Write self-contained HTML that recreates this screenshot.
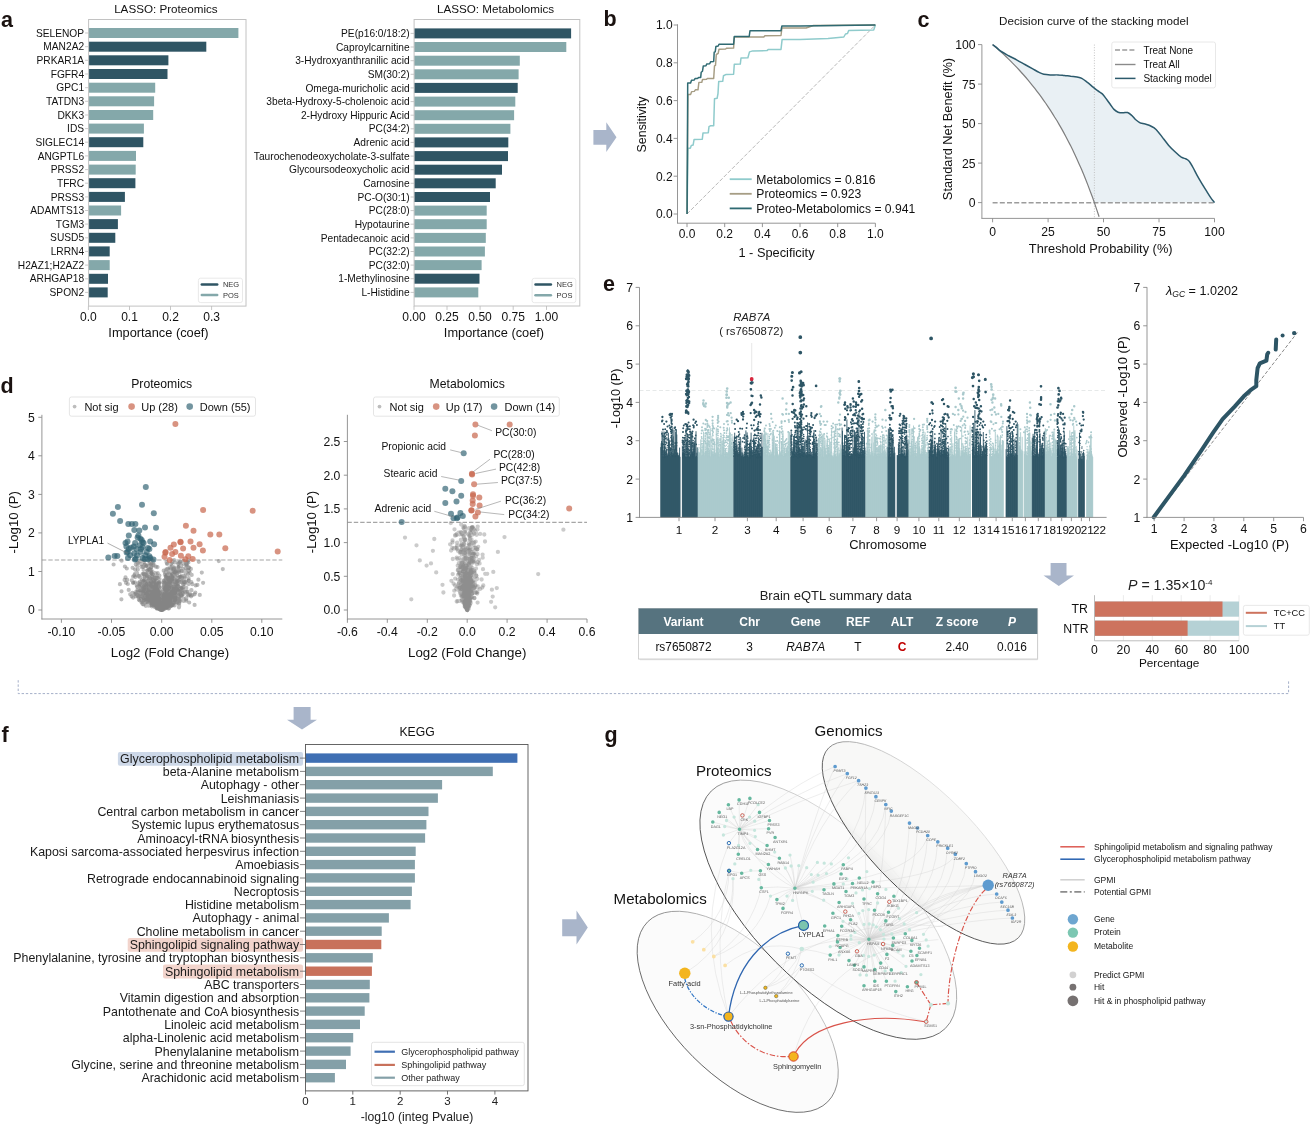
<!DOCTYPE html>
<html lang="en"><head><meta charset="utf-8"><title>Figure</title>
<style>html,body{margin:0;padding:0;background:#fff}body{width:1316px;height:1131px;overflow:hidden}svg{display:block;font-family:"Liberation Sans",Arial,Helvetica,sans-serif}</style></head>
<body>
<svg width="1316" height="1131" viewBox="0 0 1316 1131">
<text x="1.0" y="26.5" font-size="21.5" font-weight="bold" fill="#1a1210">a</text>
<g>
<text x="165.9" y="13.0" font-size="11.65" text-anchor="middle" fill="#111">LASSO: Proteomics</text>
<rect x="88.6" y="28.0" width="149.8" height="10.0" fill="#84a8aa"/>
<line x1="85.1" y1="33.0" x2="88.6" y2="33.0" stroke="#bbb" stroke-width="0.8"/>
<text x="84.1" y="36.6" font-size="10.2" text-anchor="end" fill="#111">SELENOP</text>
<rect x="88.6" y="41.7" width="117.7" height="10.0" fill="#2f5564"/>
<line x1="85.1" y1="46.7" x2="88.6" y2="46.7" stroke="#bbb" stroke-width="0.8"/>
<text x="84.1" y="50.3" font-size="10.2" text-anchor="end" fill="#111">MAN2A2</text>
<rect x="88.6" y="55.3" width="79.8" height="10.0" fill="#2f5564"/>
<line x1="85.1" y1="60.3" x2="88.6" y2="60.3" stroke="#bbb" stroke-width="0.8"/>
<text x="84.1" y="63.9" font-size="10.2" text-anchor="end" fill="#111">PRKAR1A</text>
<rect x="88.6" y="69.0" width="78.9" height="10.0" fill="#2f5564"/>
<line x1="85.1" y1="74.0" x2="88.6" y2="74.0" stroke="#bbb" stroke-width="0.8"/>
<text x="84.1" y="77.6" font-size="10.2" text-anchor="end" fill="#111">FGFR4</text>
<rect x="88.6" y="82.7" width="66.6" height="10.0" fill="#84a8aa"/>
<line x1="85.1" y1="87.7" x2="88.6" y2="87.7" stroke="#bbb" stroke-width="0.8"/>
<text x="84.1" y="91.2" font-size="10.2" text-anchor="end" fill="#111">GPC1</text>
<rect x="88.6" y="96.3" width="65.5" height="10.0" fill="#84a8aa"/>
<line x1="85.1" y1="101.3" x2="88.6" y2="101.3" stroke="#bbb" stroke-width="0.8"/>
<text x="84.1" y="104.9" font-size="10.2" text-anchor="end" fill="#111">TATDN3</text>
<rect x="88.6" y="110.0" width="64.6" height="10.0" fill="#84a8aa"/>
<line x1="85.1" y1="115.0" x2="88.6" y2="115.0" stroke="#bbb" stroke-width="0.8"/>
<text x="84.1" y="118.5" font-size="10.2" text-anchor="end" fill="#111">DKK3</text>
<rect x="88.6" y="123.6" width="55.3" height="10.0" fill="#84a8aa"/>
<line x1="85.1" y1="128.6" x2="88.6" y2="128.6" stroke="#bbb" stroke-width="0.8"/>
<text x="84.1" y="132.2" font-size="10.2" text-anchor="end" fill="#111">IDS</text>
<rect x="88.6" y="137.2" width="54.7" height="10.0" fill="#2f5564"/>
<line x1="85.1" y1="142.2" x2="88.6" y2="142.2" stroke="#bbb" stroke-width="0.8"/>
<text x="84.1" y="145.8" font-size="10.2" text-anchor="end" fill="#111">SIGLEC14</text>
<rect x="88.6" y="150.9" width="47.4" height="10.0" fill="#84a8aa"/>
<line x1="85.1" y1="155.9" x2="88.6" y2="155.9" stroke="#bbb" stroke-width="0.8"/>
<text x="84.1" y="159.5" font-size="10.2" text-anchor="end" fill="#111">ANGPTL6</text>
<rect x="88.6" y="164.6" width="47.1" height="10.0" fill="#84a8aa"/>
<line x1="85.1" y1="169.6" x2="88.6" y2="169.6" stroke="#bbb" stroke-width="0.8"/>
<text x="84.1" y="173.2" font-size="10.2" text-anchor="end" fill="#111">PRSS2</text>
<rect x="88.6" y="178.2" width="46.8" height="10.0" fill="#2f5564"/>
<line x1="85.1" y1="183.2" x2="88.6" y2="183.2" stroke="#bbb" stroke-width="0.8"/>
<text x="84.1" y="186.8" font-size="10.2" text-anchor="end" fill="#111">TFRC</text>
<rect x="88.6" y="191.9" width="36.3" height="10.0" fill="#2f5564"/>
<line x1="85.1" y1="196.9" x2="88.6" y2="196.9" stroke="#bbb" stroke-width="0.8"/>
<text x="84.1" y="200.5" font-size="10.2" text-anchor="end" fill="#111">PRSS3</text>
<rect x="88.6" y="205.5" width="32.5" height="10.0" fill="#84a8aa"/>
<line x1="85.1" y1="210.5" x2="88.6" y2="210.5" stroke="#bbb" stroke-width="0.8"/>
<text x="84.1" y="214.1" font-size="10.2" text-anchor="end" fill="#111">ADAMTS13</text>
<rect x="88.6" y="219.1" width="29.3" height="10.0" fill="#2f5564"/>
<line x1="85.1" y1="224.1" x2="88.6" y2="224.1" stroke="#bbb" stroke-width="0.8"/>
<text x="84.1" y="227.7" font-size="10.2" text-anchor="end" fill="#111">TGM3</text>
<rect x="88.6" y="232.8" width="26.7" height="10.0" fill="#2f5564"/>
<line x1="85.1" y1="237.8" x2="88.6" y2="237.8" stroke="#bbb" stroke-width="0.8"/>
<text x="84.1" y="241.4" font-size="10.2" text-anchor="end" fill="#111">SUSD5</text>
<rect x="88.6" y="246.4" width="21.1" height="10.0" fill="#2f5564"/>
<line x1="85.1" y1="251.4" x2="88.6" y2="251.4" stroke="#bbb" stroke-width="0.8"/>
<text x="84.1" y="255.0" font-size="10.2" text-anchor="end" fill="#111">LRRN4</text>
<rect x="88.6" y="260.1" width="21.1" height="10.0" fill="#84a8aa"/>
<line x1="85.1" y1="265.1" x2="88.6" y2="265.1" stroke="#bbb" stroke-width="0.8"/>
<text x="84.1" y="268.7" font-size="10.2" text-anchor="end" fill="#111">H2AZ1;H2AZ2</text>
<rect x="88.6" y="273.8" width="19.4" height="10.0" fill="#2f5564"/>
<line x1="85.1" y1="278.8" x2="88.6" y2="278.8" stroke="#bbb" stroke-width="0.8"/>
<text x="84.1" y="282.4" font-size="10.2" text-anchor="end" fill="#111">ARHGAP18</text>
<rect x="88.6" y="287.4" width="19.1" height="10.0" fill="#2f5564"/>
<line x1="85.1" y1="292.4" x2="88.6" y2="292.4" stroke="#bbb" stroke-width="0.8"/>
<text x="84.1" y="296.0" font-size="10.2" text-anchor="end" fill="#111">SPON2</text>
<rect x="88.6" y="19.5" width="157.4" height="286.6" fill="none" stroke="#c2c2c2" stroke-width="1"/>
<line x1="88.4" y1="306.1" x2="88.4" y2="310.0" stroke="#b8b8b8" stroke-width="0.8"/>
<text x="88.4" y="320.9" font-size="12.05" text-anchor="middle" fill="#111">0.0</text>
<line x1="129.5" y1="306.1" x2="129.5" y2="310.0" stroke="#b8b8b8" stroke-width="0.8"/>
<text x="129.5" y="320.9" font-size="12.05" text-anchor="middle" fill="#111">0.1</text>
<line x1="170.5" y1="306.1" x2="170.5" y2="310.0" stroke="#b8b8b8" stroke-width="0.8"/>
<text x="170.5" y="320.9" font-size="12.05" text-anchor="middle" fill="#111">0.2</text>
<line x1="211.6" y1="306.1" x2="211.6" y2="310.0" stroke="#b8b8b8" stroke-width="0.8"/>
<text x="211.6" y="320.9" font-size="12.05" text-anchor="middle" fill="#111">0.3</text>
<text x="158.5" y="336.6" font-size="12.8" text-anchor="middle" fill="#111">Importance (coef)</text>
<rect x="198.4" y="278.2" width="44.1" height="24.4" fill="#fff" stroke="#e3e3e3" stroke-width="0.8" rx="2.2"/>
<line x1="201.8" y1="284.4" x2="217.2" y2="284.4" stroke="#2f5564" stroke-width="2.5" stroke-linecap="round"/>
<line x1="201.8" y1="295.1" x2="217.2" y2="295.1" stroke="#84a8aa" stroke-width="2.5" stroke-linecap="round"/>
<text x="222.9" y="287.2" font-size="7.5" fill="#333">NEG</text>
<text x="222.9" y="297.9" font-size="7.5" fill="#333">POS</text>
</g>
<g>
<text x="495.6" y="13.0" font-size="11.65" text-anchor="middle" fill="#111">LASSO: Metabolomics</text>
<rect x="414.1" y="28.4" width="157.0" height="10.0" fill="#2f5564"/>
<line x1="410.6" y1="33.4" x2="414.1" y2="33.4" stroke="#bbb" stroke-width="0.8"/>
<text x="409.6" y="37.0" font-size="10.2" text-anchor="end" fill="#111">PE(p16:0/18:2)</text>
<rect x="414.1" y="42.0" width="152.2" height="10.0" fill="#84a8aa"/>
<line x1="410.6" y1="47.0" x2="414.1" y2="47.0" stroke="#bbb" stroke-width="0.8"/>
<text x="409.6" y="50.6" font-size="10.2" text-anchor="end" fill="#111">Caproylcarnitine</text>
<rect x="414.1" y="55.7" width="105.7" height="10.0" fill="#84a8aa"/>
<line x1="410.6" y1="60.7" x2="414.1" y2="60.7" stroke="#bbb" stroke-width="0.8"/>
<text x="409.6" y="64.3" font-size="10.2" text-anchor="end" fill="#111">3-Hydroxyanthranilic acid</text>
<rect x="414.1" y="69.3" width="104.5" height="10.0" fill="#84a8aa"/>
<line x1="410.6" y1="74.3" x2="414.1" y2="74.3" stroke="#bbb" stroke-width="0.8"/>
<text x="409.6" y="77.9" font-size="10.2" text-anchor="end" fill="#111">SM(30:2)</text>
<rect x="414.1" y="82.9" width="103.6" height="10.0" fill="#2f5564"/>
<line x1="410.6" y1="87.9" x2="414.1" y2="87.9" stroke="#bbb" stroke-width="0.8"/>
<text x="409.6" y="91.5" font-size="10.2" text-anchor="end" fill="#111">Omega-muricholic acid</text>
<rect x="414.1" y="96.6" width="101.2" height="10.0" fill="#84a8aa"/>
<line x1="410.6" y1="101.6" x2="414.1" y2="101.6" stroke="#bbb" stroke-width="0.8"/>
<text x="409.6" y="105.2" font-size="10.2" text-anchor="end" fill="#111">3beta-Hydroxy-5-cholenoic acid</text>
<rect x="414.1" y="110.2" width="100.0" height="10.0" fill="#84a8aa"/>
<line x1="410.6" y1="115.2" x2="414.1" y2="115.2" stroke="#bbb" stroke-width="0.8"/>
<text x="409.6" y="118.8" font-size="10.2" text-anchor="end" fill="#111">2-Hydroxy Hippuric Acid</text>
<rect x="414.1" y="123.8" width="96.3" height="10.0" fill="#84a8aa"/>
<line x1="410.6" y1="128.8" x2="414.1" y2="128.8" stroke="#bbb" stroke-width="0.8"/>
<text x="409.6" y="132.4" font-size="10.2" text-anchor="end" fill="#111">PC(34:2)</text>
<rect x="414.1" y="137.4" width="94.2" height="10.0" fill="#2f5564"/>
<line x1="410.6" y1="142.4" x2="414.1" y2="142.4" stroke="#bbb" stroke-width="0.8"/>
<text x="409.6" y="146.0" font-size="10.2" text-anchor="end" fill="#111">Adrenic acid</text>
<rect x="414.1" y="151.1" width="93.9" height="10.0" fill="#2f5564"/>
<line x1="410.6" y1="156.1" x2="414.1" y2="156.1" stroke="#bbb" stroke-width="0.8"/>
<text x="409.6" y="159.7" font-size="10.2" text-anchor="end" fill="#111">Taurochenodeoxycholate-3-sulfate</text>
<rect x="414.1" y="164.7" width="87.9" height="10.0" fill="#2f5564"/>
<line x1="410.6" y1="169.7" x2="414.1" y2="169.7" stroke="#bbb" stroke-width="0.8"/>
<text x="409.6" y="173.3" font-size="10.2" text-anchor="end" fill="#111">Glycoursodeoxycholic acid</text>
<rect x="414.1" y="178.3" width="81.6" height="10.0" fill="#2f5564"/>
<line x1="410.6" y1="183.3" x2="414.1" y2="183.3" stroke="#bbb" stroke-width="0.8"/>
<text x="409.6" y="186.9" font-size="10.2" text-anchor="end" fill="#111">Carnosine</text>
<rect x="414.1" y="192.0" width="75.9" height="10.0" fill="#2f5564"/>
<line x1="410.6" y1="197.0" x2="414.1" y2="197.0" stroke="#bbb" stroke-width="0.8"/>
<text x="409.6" y="200.6" font-size="10.2" text-anchor="end" fill="#111">PC-O(30:1)</text>
<rect x="414.1" y="205.6" width="72.6" height="10.0" fill="#84a8aa"/>
<line x1="410.6" y1="210.6" x2="414.1" y2="210.6" stroke="#bbb" stroke-width="0.8"/>
<text x="409.6" y="214.2" font-size="10.2" text-anchor="end" fill="#111">PC(28:0)</text>
<rect x="414.1" y="219.2" width="72.6" height="10.0" fill="#84a8aa"/>
<line x1="410.6" y1="224.2" x2="414.1" y2="224.2" stroke="#bbb" stroke-width="0.8"/>
<text x="409.6" y="227.8" font-size="10.2" text-anchor="end" fill="#111">Hypotaurine</text>
<rect x="414.1" y="232.9" width="71.7" height="10.0" fill="#84a8aa"/>
<line x1="410.6" y1="237.9" x2="414.1" y2="237.9" stroke="#bbb" stroke-width="0.8"/>
<text x="409.6" y="241.5" font-size="10.2" text-anchor="end" fill="#111">Pentadecanoic acid</text>
<rect x="414.1" y="246.5" width="70.8" height="10.0" fill="#84a8aa"/>
<line x1="410.6" y1="251.5" x2="414.1" y2="251.5" stroke="#bbb" stroke-width="0.8"/>
<text x="409.6" y="255.1" font-size="10.2" text-anchor="end" fill="#111">PC(32:2)</text>
<rect x="414.1" y="260.1" width="67.5" height="10.0" fill="#84a8aa"/>
<line x1="410.6" y1="265.1" x2="414.1" y2="265.1" stroke="#bbb" stroke-width="0.8"/>
<text x="409.6" y="268.7" font-size="10.2" text-anchor="end" fill="#111">PC(32:0)</text>
<rect x="414.1" y="273.7" width="65.4" height="10.0" fill="#2f5564"/>
<line x1="410.6" y1="278.7" x2="414.1" y2="278.7" stroke="#bbb" stroke-width="0.8"/>
<text x="409.6" y="282.3" font-size="10.2" text-anchor="end" fill="#111">1-Methylinosine</text>
<rect x="414.1" y="287.4" width="64.2" height="10.0" fill="#84a8aa"/>
<line x1="410.6" y1="292.4" x2="414.1" y2="292.4" stroke="#bbb" stroke-width="0.8"/>
<text x="409.6" y="296.0" font-size="10.2" text-anchor="end" fill="#111">L-Histidine</text>
<rect x="414.1" y="19.5" width="165.7" height="286.5" fill="none" stroke="#c2c2c2" stroke-width="1"/>
<line x1="414.0" y1="306.0" x2="414.0" y2="309.9" stroke="#b8b8b8" stroke-width="0.8"/>
<text x="414.0" y="320.8" font-size="12.05" text-anchor="middle" fill="#111">0.00</text>
<line x1="447.0" y1="306.0" x2="447.0" y2="309.9" stroke="#b8b8b8" stroke-width="0.8"/>
<text x="447.0" y="320.8" font-size="12.05" text-anchor="middle" fill="#111">0.25</text>
<line x1="480.1" y1="306.0" x2="480.1" y2="309.9" stroke="#b8b8b8" stroke-width="0.8"/>
<text x="480.1" y="320.8" font-size="12.05" text-anchor="middle" fill="#111">0.50</text>
<line x1="513.2" y1="306.0" x2="513.2" y2="309.9" stroke="#b8b8b8" stroke-width="0.8"/>
<text x="513.2" y="320.8" font-size="12.05" text-anchor="middle" fill="#111">0.75</text>
<line x1="546.5" y1="306.0" x2="546.5" y2="309.9" stroke="#b8b8b8" stroke-width="0.8"/>
<text x="546.5" y="320.8" font-size="12.05" text-anchor="middle" fill="#111">1.00</text>
<text x="494.0" y="336.6" font-size="12.8" text-anchor="middle" fill="#111">Importance (coef)</text>
<rect x="532.1" y="278.3" width="43.7" height="24.4" fill="#fff" stroke="#e3e3e3" stroke-width="0.8" rx="2.2"/>
<line x1="535.5" y1="284.5" x2="550.9" y2="284.5" stroke="#2f5564" stroke-width="2.5" stroke-linecap="round"/>
<line x1="535.5" y1="295.2" x2="550.9" y2="295.2" stroke="#84a8aa" stroke-width="2.5" stroke-linecap="round"/>
<text x="556.6" y="287.3" font-size="7.5" fill="#333">NEG</text>
<text x="556.6" y="298.0" font-size="7.5" fill="#333">POS</text>
</g>
<text x="603.5" y="25.8" font-size="21.5" font-weight="bold" fill="#1a1210">b</text>
<path d="M593.4,130.0 L606.3,130.0 L606.3,122.3 L616.5,137.2 L606.3,152.0 L606.3,144.7 L593.4,144.7" fill="#a9b5ca"/>
<line x1="687.0" y1="214.0" x2="875.4" y2="25.0" stroke="#9a9a9a" stroke-width="0.7" stroke-dasharray="4 1.8"/>
<path d="M687.1,214.0 L687.9,148.3 L690.3,148.3 L691.3,145.5 L693.1,145.1 L694.1,139.4 L702.3,139.2 L703.0,132.9 L708.3,132.7 L709.0,126.7 L710.4,125.8 L713.7,125.8 L714.5,98.8 L717.1,98.3 L718.0,93.5 L718.7,81.6 L722.7,81.3 L723.5,75.7 L726.2,74.4 L733.6,74.2 L734.3,64.3 L740.3,64.1 L741.0,58.0 L747.9,57.8 L749.5,51.9 L752.7,50.9 L767.0,50.6 L768.1,49.6 L781.0,49.4 L782.1,39.6 L800.0,39.6 L828.0,38.4 L843.8,37.0 L845.5,34.0 L847.5,33.6 L848.7,30.4 L873.7,29.9 L875.4,25.0" fill="none" stroke="#8fcbcc" stroke-width="1.5" stroke-linejoin="round"/>
<path d="M687.1,214.0 L687.9,94.4 L690.6,94.4 L691.7,91.6 L694.3,91.4 L695.4,89.8 L698.0,89.8 L698.9,82.4 L701.8,82.2 L702.5,79.5 L706.5,79.3 L707.4,78.4 L713.7,78.4 L714.5,65.9 L715.5,65.4 L716.3,54.5 L718.2,53.4 L719.0,49.2 L725.6,49.0 L726.7,48.2 L733.6,48.1 L734.3,37.0 L763.8,37.0 L764.9,35.7 L781.0,35.5 L781.9,27.9 L800.0,27.9 L806.1,28.0 L813.4,25.5 L875.4,25.0" fill="none" stroke="#a69d84" stroke-width="1.45" stroke-linejoin="round"/>
<path d="M687.1,214.0 L687.7,82.9 L690.6,82.9 L691.5,80.3 L694.3,79.9 L695.2,78.4 L697.5,78.4 L698.6,77.6 L700.7,77.4 L701.2,72.3 L702.5,71.2 L703.3,65.9 L706.0,65.7 L706.7,64.0 L709.7,63.8 L710.6,61.7 L713.7,61.5 L714.2,52.3 L715.2,51.9 L715.9,46.6 L718.2,46.0 L719.0,44.2 L733.6,44.2 L734.3,36.5 L749.2,36.5 L750.0,30.7 L781.0,30.7 L781.9,25.9 L800.0,25.9 L875.4,25.0" fill="none" stroke="#2f6a72" stroke-width="1.5" stroke-linejoin="round"/>
<line x1="677.5" y1="24.3" x2="677.5" y2="223.2" stroke="#8a8a8a" stroke-width="0.9"/>
<line x1="677.0" y1="223.2" x2="875.4" y2="223.2" stroke="#8a8a8a" stroke-width="0.9"/>
<line x1="673.6" y1="214.0" x2="677.5" y2="214.0" stroke="#8a8a8a" stroke-width="0.9"/>
<text x="672.6" y="218.3" font-size="12" text-anchor="end" fill="#111">0.0</text>
<line x1="687.0" y1="223.2" x2="687.0" y2="227.1" stroke="#8a8a8a" stroke-width="0.9"/>
<text x="687.0" y="238.0" font-size="12" text-anchor="middle" fill="#111">0.0</text>
<line x1="673.6" y1="176.2" x2="677.5" y2="176.2" stroke="#8a8a8a" stroke-width="0.9"/>
<text x="672.6" y="180.5" font-size="12" text-anchor="end" fill="#111">0.2</text>
<line x1="724.7" y1="223.2" x2="724.7" y2="227.1" stroke="#8a8a8a" stroke-width="0.9"/>
<text x="724.7" y="238.0" font-size="12" text-anchor="middle" fill="#111">0.2</text>
<line x1="673.6" y1="138.4" x2="677.5" y2="138.4" stroke="#8a8a8a" stroke-width="0.9"/>
<text x="672.6" y="142.7" font-size="12" text-anchor="end" fill="#111">0.4</text>
<line x1="762.4" y1="223.2" x2="762.4" y2="227.1" stroke="#8a8a8a" stroke-width="0.9"/>
<text x="762.4" y="238.0" font-size="12" text-anchor="middle" fill="#111">0.4</text>
<line x1="673.6" y1="100.6" x2="677.5" y2="100.6" stroke="#8a8a8a" stroke-width="0.9"/>
<text x="672.6" y="104.9" font-size="12" text-anchor="end" fill="#111">0.6</text>
<line x1="800.0" y1="223.2" x2="800.0" y2="227.1" stroke="#8a8a8a" stroke-width="0.9"/>
<text x="800.0" y="238.0" font-size="12" text-anchor="middle" fill="#111">0.6</text>
<line x1="673.6" y1="62.8" x2="677.5" y2="62.8" stroke="#8a8a8a" stroke-width="0.9"/>
<text x="672.6" y="67.1" font-size="12" text-anchor="end" fill="#111">0.8</text>
<line x1="837.7" y1="223.2" x2="837.7" y2="227.1" stroke="#8a8a8a" stroke-width="0.9"/>
<text x="837.7" y="238.0" font-size="12" text-anchor="middle" fill="#111">0.8</text>
<line x1="673.6" y1="25.0" x2="677.5" y2="25.0" stroke="#8a8a8a" stroke-width="0.9"/>
<text x="672.6" y="29.3" font-size="12" text-anchor="end" fill="#111">1.0</text>
<line x1="875.4" y1="223.2" x2="875.4" y2="227.1" stroke="#8a8a8a" stroke-width="0.9"/>
<text x="875.4" y="238.0" font-size="12" text-anchor="middle" fill="#111">1.0</text>
<text x="645.8" y="124.5" font-size="12.4" text-anchor="middle" fill="#111" transform="rotate(-90 645.8 124.5)">Sensitivity</text>
<text x="776.5" y="257.4" font-size="12.8" text-anchor="middle" fill="#111">1 - Specificity</text>
<line x1="729.7" y1="179.2" x2="751.7" y2="179.2" stroke="#8fcbcc" stroke-width="1.8"/>
<text x="756.3" y="183.5" font-size="12.15" fill="#111">Metabolomics = 0.816</text>
<line x1="729.7" y1="193.8" x2="751.7" y2="193.8" stroke="#a69d84" stroke-width="1.8"/>
<text x="756.3" y="198.1" font-size="12.15" fill="#111">Proteomics = 0.923</text>
<line x1="729.7" y1="208.4" x2="751.7" y2="208.4" stroke="#2f6a72" stroke-width="1.8"/>
<text x="756.3" y="212.7" font-size="12.15" fill="#111">Proteo-Metabolomics = 0.941</text>
<text x="917.6" y="27.0" font-size="21.5" font-weight="bold" fill="#1a1210">c</text>
<text x="1093.8" y="24.7" font-size="11.65" text-anchor="middle" fill="#111">Decision curve of the stacking model</text>
<path d="M992.6,44.6 L996.4,47.4 L1001.2,51.5 L1009.1,56.0 L1017.0,60.1 L1024.9,64.5 L1032.8,68.9 L1039.1,72.4 L1043.8,74.3 L1050.2,74.9 L1058.1,74.9 L1064.4,75.5 L1070.7,76.2 L1077.0,77.1 L1081.8,78.4 L1087.1,82.2 L1092.8,86.9 L1097.6,90.7 L1102.3,93.9 L1106.1,98.6 L1110.2,104.3 L1114.0,109.4 L1118.1,112.2 L1122.9,112.8 L1127.6,112.5 L1131.7,115.4 L1135.5,119.5 L1139.3,122.3 L1141.8,123.3 L1145.9,124.2 L1149.7,125.5 L1153.8,127.7 L1157.6,131.2 L1163.0,138.1 L1168.7,145.4 L1175.0,151.7 L1181.3,157.1 L1186.1,159.0 L1189.2,161.2 L1193.0,167.5 L1197.1,175.4 L1201.9,183.7 L1206.6,191.2 L1210.7,197.6 L1214.5,202.6 L1094.3,202.6 L1092.5,197.3 L1090.2,191.2 L1088.0,185.4 L1085.8,179.7 L1083.6,174.3 L1081.4,169.0 L1079.1,163.9 L1076.9,159.0 L1074.7,154.2 L1072.5,149.6 L1070.3,145.1 L1068.0,140.7 L1065.8,136.5 L1063.6,132.4 L1061.4,128.4 L1059.2,124.6 L1057.0,120.8 L1054.7,117.2 L1052.5,113.6 L1050.3,110.2 L1048.1,106.8 L1045.9,103.5 L1043.6,100.3 L1041.4,97.2 L1039.2,94.2 L1037.0,91.3 L1034.8,88.4 L1032.5,85.6 L1030.3,82.8 L1028.1,80.1 L1025.9,77.5 L1023.7,75.0 L1021.4,72.5 L1019.2,70.0 L1017.0,67.7 L1014.8,65.3 L1012.6,63.1 L1010.4,60.8 L1008.1,58.6 L1005.9,56.5 L1003.7,54.4 L1001.5,52.4 L999.3,50.4 L997.0,48.4 L994.8,46.5 L992.6,44.6" fill="#e9f0f4"/>
<line x1="1094.4" y1="44.6" x2="1094.4" y2="218.4" stroke="#bdbdbd" stroke-width="0.9" stroke-dasharray="1 1.6"/>
<line x1="992.6" y1="202.8" x2="1214.5" y2="202.8" stroke="#9c9c9c" stroke-width="1.6" stroke-dasharray="5 2.2"/>
<clipPath id="cc"><rect x="980" y="40" width="240" height="178.4"/></clipPath>
<path d="M992.6,44.6 L994.8,46.5 L997.0,48.4 L999.3,50.4 L1001.5,52.4 L1003.7,54.4 L1005.9,56.5 L1008.1,58.6 L1010.4,60.8 L1012.6,63.1 L1014.8,65.3 L1017.0,67.7 L1019.2,70.0 L1021.4,72.5 L1023.7,75.0 L1025.9,77.5 L1028.1,80.1 L1030.3,82.8 L1032.5,85.6 L1034.8,88.4 L1037.0,91.3 L1039.2,94.2 L1041.4,97.2 L1043.6,100.3 L1045.9,103.5 L1048.1,106.8 L1050.3,110.2 L1052.5,113.6 L1054.7,117.2 L1057.0,120.8 L1059.2,124.6 L1061.4,128.4 L1063.6,132.4 L1065.8,136.5 L1068.0,140.7 L1070.3,145.1 L1072.5,149.6 L1074.7,154.2 L1076.9,159.0 L1079.1,163.9 L1081.4,169.0 L1083.6,174.3 L1085.8,179.7 L1088.0,185.4 L1090.2,191.2 L1092.5,197.3 L1094.7,203.6 L1096.9,210.1 L1099.1,216.8" fill="none" stroke="#7e7e7e" stroke-width="1.2" clip-path="url(#cc)"/>
<path d="M992.6,44.6C993.3,45.0 995.0,46.3 996.4,47.4C997.8,48.6 999.0,50.1 1001.2,51.5C1003.3,52.9 1006.4,54.5 1009.1,56.0C1011.7,57.4 1014.3,58.6 1017.0,60.1C1019.6,61.5 1022.2,63.0 1024.9,64.5C1027.5,66.0 1030.4,67.6 1032.8,68.9C1035.1,70.2 1037.2,71.5 1039.1,72.4C1040.9,73.3 1042.0,73.9 1043.8,74.3C1045.7,74.7 1047.8,74.8 1050.2,74.9C1052.5,75.0 1055.7,74.8 1058.1,74.9C1060.4,75.0 1062.3,75.3 1064.4,75.5C1066.5,75.8 1068.6,75.9 1070.7,76.2C1072.8,76.4 1075.2,76.8 1077.0,77.1C1078.9,77.5 1080.1,77.6 1081.8,78.4C1083.4,79.2 1085.3,80.8 1087.1,82.2C1089.0,83.6 1091.1,85.5 1092.8,86.9C1094.6,88.4 1096.0,89.6 1097.6,90.7C1099.1,91.9 1100.9,92.6 1102.3,93.9C1103.7,95.2 1104.8,96.9 1106.1,98.6C1107.4,100.4 1108.9,102.5 1110.2,104.3C1111.5,106.1 1112.7,108.1 1114.0,109.4C1115.3,110.7 1116.6,111.6 1118.1,112.2C1119.6,112.8 1121.3,112.8 1122.9,112.8C1124.4,112.9 1126.1,112.1 1127.6,112.5C1129.1,113.0 1130.4,114.2 1131.7,115.4C1133.0,116.5 1134.2,118.3 1135.5,119.5C1136.8,120.6 1138.2,121.7 1139.3,122.3C1140.3,123.0 1140.7,123.0 1141.8,123.3C1142.9,123.6 1144.6,123.9 1145.9,124.2C1147.2,124.6 1148.4,124.9 1149.7,125.5C1151.0,126.1 1152.5,126.8 1153.8,127.7C1155.1,128.7 1156.1,129.4 1157.6,131.2C1159.2,132.9 1161.2,135.8 1163.0,138.1C1164.8,140.5 1166.7,143.1 1168.7,145.4C1170.7,147.7 1172.9,149.8 1175.0,151.7C1177.1,153.7 1179.5,155.9 1181.3,157.1C1183.2,158.3 1184.8,158.3 1186.1,159.0C1187.4,159.7 1188.1,159.8 1189.2,161.2C1190.4,162.6 1191.7,165.2 1193.0,167.5C1194.3,169.9 1195.7,172.8 1197.1,175.4C1198.6,178.1 1200.3,181.0 1201.9,183.7C1203.5,186.3 1205.1,188.9 1206.6,191.2C1208.1,193.6 1209.4,195.7 1210.7,197.6C1212.0,199.5 1213.9,201.8 1214.5,202.6" fill="none" stroke="#2c5a6c" stroke-width="1.5" stroke-linejoin="round"/>
<line x1="981.9" y1="44.6" x2="981.9" y2="218.4" stroke="#8a8a8a" stroke-width="0.9"/>
<line x1="981.4" y1="218.4" x2="1214.5" y2="218.4" stroke="#8a8a8a" stroke-width="0.9"/>
<line x1="978.0" y1="202.6" x2="981.9" y2="202.6" stroke="#8a8a8a" stroke-width="0.9"/>
<text x="975.6" y="207.0" font-size="12.2" text-anchor="end" fill="#111">0</text>
<line x1="992.6" y1="218.4" x2="992.6" y2="222.3" stroke="#8a8a8a" stroke-width="0.9"/>
<text x="992.6" y="235.6" font-size="12.2" text-anchor="middle" fill="#111">0</text>
<line x1="978.0" y1="163.1" x2="981.9" y2="163.1" stroke="#8a8a8a" stroke-width="0.9"/>
<text x="975.6" y="167.5" font-size="12.2" text-anchor="end" fill="#111">25</text>
<line x1="1048.1" y1="218.4" x2="1048.1" y2="222.3" stroke="#8a8a8a" stroke-width="0.9"/>
<text x="1048.1" y="235.6" font-size="12.2" text-anchor="middle" fill="#111">25</text>
<line x1="978.0" y1="123.6" x2="981.9" y2="123.6" stroke="#8a8a8a" stroke-width="0.9"/>
<text x="975.6" y="128.0" font-size="12.2" text-anchor="end" fill="#111">50</text>
<line x1="1103.5" y1="218.4" x2="1103.5" y2="222.3" stroke="#8a8a8a" stroke-width="0.9"/>
<text x="1103.5" y="235.6" font-size="12.2" text-anchor="middle" fill="#111">50</text>
<line x1="978.0" y1="84.1" x2="981.9" y2="84.1" stroke="#8a8a8a" stroke-width="0.9"/>
<text x="975.6" y="88.5" font-size="12.2" text-anchor="end" fill="#111">75</text>
<line x1="1159.0" y1="218.4" x2="1159.0" y2="222.3" stroke="#8a8a8a" stroke-width="0.9"/>
<text x="1159.0" y="235.6" font-size="12.2" text-anchor="middle" fill="#111">75</text>
<line x1="978.0" y1="44.6" x2="981.9" y2="44.6" stroke="#8a8a8a" stroke-width="0.9"/>
<text x="975.6" y="49.0" font-size="12.2" text-anchor="end" fill="#111">100</text>
<line x1="1214.5" y1="218.4" x2="1214.5" y2="222.3" stroke="#8a8a8a" stroke-width="0.9"/>
<text x="1214.5" y="235.6" font-size="12.2" text-anchor="middle" fill="#111">100</text>
<text x="952.0" y="129.0" font-size="12.8" text-anchor="middle" fill="#111" transform="rotate(-90 952.0 129.0)">Standard Net Benefit (%)</text>
<text x="1100.7" y="253.0" font-size="12.8" text-anchor="middle" fill="#111">Threshold Probability (%)</text>
<rect x="1111.8" y="42.0" width="103.7" height="45.9" fill="#fff" stroke="#e2e2e2" stroke-width="0.8" rx="2"/>
<line x1="1115.0" y1="50.0" x2="1135.5" y2="50.0" stroke="#9c9c9c" stroke-width="1.6" stroke-dasharray="5 2.2"/>
<line x1="1115.0" y1="64.5" x2="1135.5" y2="64.5" stroke="#8a8a8a" stroke-width="1.4"/>
<line x1="1115.0" y1="78.4" x2="1135.5" y2="78.4" stroke="#2c5a6c" stroke-width="1.5"/>
<text x="1143.4" y="53.6" font-size="10.0" fill="#111">Treat None</text>
<text x="1143.4" y="68.1" font-size="10.0" fill="#111">Treat All</text>
<text x="1143.4" y="82.0" font-size="10.0" fill="#111">Stacking model</text>
<text x="0.5" y="393.0" font-size="21.5" font-weight="bold" fill="#1a1210">d</text>
<text x="161.7" y="387.5" font-size="12.2" text-anchor="middle" fill="#111">Proteomics</text>
<rect x="69.4" y="397.0" width="186.1" height="19.2" fill="#fff" stroke="#dedede" stroke-width="0.8" rx="2"/>
<circle cx="74.6" cy="406.6" r="1.9" fill="#bdbdbd"/>
<text x="84.4" y="410.6" font-size="11" fill="#111">Not sig</text>
<circle cx="131.6" cy="406.6" r="3.3" fill="#c96a50" fill-opacity="0.72"/>
<text x="141.2" y="410.6" font-size="11" fill="#111">Up (28)</text>
<circle cx="189.7" cy="406.6" r="3.3" fill="#2f6172" fill-opacity="0.68"/>
<text x="199.8" y="410.6" font-size="11" fill="#111">Down (55)</text>
<line x1="41.9" y1="560.0" x2="282.3" y2="560.0" stroke="#a6a6a6" stroke-width="1.2" stroke-dasharray="4.4 2"/>
<path d="M158.1,606.2h0M173.6,589.8h0M166.6,600.5h0M158.2,597.8h0M163.5,604.1h0M149.3,600.9h0M159.0,605.8h0M155.7,588.4h0M160.2,603.2h0M155.4,600.2h0M163.9,605.8h0M150.6,595.3h0M147.8,581.7h0M157.1,587.6h0M159.8,606.5h0M165.1,606.0h0M152.4,601.0h0M155.0,603.2h0M161.6,609.1h0M165.7,576.6h0M163.8,598.2h0M159.0,608.8h0M169.6,597.7h0M125.5,577.3h0M146.1,593.9h0M163.0,607.2h0M163.0,606.5h0M167.8,597.0h0M159.9,601.9h0M156.6,606.5h0M163.1,606.1h0M159.6,605.8h0M150.7,585.5h0M166.3,569.4h0M157.9,604.4h0M160.7,605.3h0M178.1,562.7h0M161.4,609.5h0M179.2,587.1h0M121.5,560.5h0M182.1,578.6h0M163.5,606.6h0M177.3,594.7h0M143.8,600.5h0M179.0,572.4h0M168.4,602.2h0M153.9,580.7h0M153.1,596.4h0M166.9,594.9h0M157.8,606.8h0M161.6,609.8h0M163.0,608.3h0M159.3,598.2h0M157.2,587.3h0M164.1,599.7h0M157.9,605.5h0M179.2,566.4h0M161.6,609.9h0M147.4,594.6h0M160.4,609.4h0M159.9,601.3h0M137.4,566.3h0M158.0,602.3h0M148.5,598.0h0M165.2,601.5h0M157.1,606.5h0M164.0,603.5h0M153.7,600.7h0M165.0,601.8h0M160.9,608.4h0M154.9,597.7h0M165.3,604.4h0M165.4,599.4h0M161.3,609.6h0M155.8,600.9h0M161.7,609.9h0M162.8,604.4h0M173.1,604.9h0M157.7,590.4h0M160.7,608.4h0M162.9,609.0h0M153.2,598.4h0M160.0,605.9h0M163.5,605.4h0M166.1,601.3h0M166.8,585.2h0M163.4,605.6h0M166.4,606.3h0M166.0,600.5h0M169.5,594.2h0M160.8,607.4h0M169.2,597.4h0M163.3,608.7h0M164.9,596.2h0M162.2,608.6h0M162.4,606.7h0M135.2,577.1h0M179.1,596.8h0M161.2,609.5h0M165.9,607.0h0M180.5,589.2h0M155.8,586.0h0M179.3,601.7h0M167.8,601.9h0M155.6,594.3h0M161.9,608.9h0M162.1,608.4h0M161.2,606.9h0M151.7,603.0h0M174.8,588.4h0M165.6,601.4h0M156.1,590.2h0M149.1,590.4h0M155.2,599.8h0M159.0,605.7h0M152.6,591.4h0M157.3,605.5h0M163.1,606.7h0M165.2,607.9h0M158.3,599.6h0M153.4,597.2h0M163.8,606.8h0M161.5,609.7h0M166.3,601.3h0M169.8,582.3h0M174.8,600.6h0M162.2,608.6h0M176.2,585.8h0M165.9,601.6h0M156.4,605.4h0M150.7,588.3h0M146.7,565.3h0M184.4,578.6h0M161.6,609.7h0M159.5,579.1h0M156.1,596.2h0M163.4,607.8h0M156.5,595.6h0M165.5,602.9h0M164.1,599.1h0M159.8,607.4h0M160.2,607.3h0M178.7,603.5h0M143.5,566.6h0M157.1,602.3h0M150.9,599.5h0M147.5,585.6h0M164.8,595.3h0M166.6,602.1h0M165.6,599.4h0M165.7,602.9h0M157.5,604.4h0M161.7,609.9h0M161.7,609.9h0M159.5,599.7h0M160.6,605.1h0M166.2,600.4h0M156.9,600.5h0M160.7,606.4h0M159.8,603.8h0M160.3,608.1h0M161.5,608.2h0M162.5,605.4h0M157.8,585.7h0M153.9,601.1h0M153.9,604.4h0M189.1,567.5h0M171.3,579.7h0M162.7,607.8h0M163.9,604.6h0M160.6,609.1h0M149.7,584.1h0M164.4,601.5h0M151.4,586.8h0M162.2,608.8h0M146.3,591.5h0M155.9,604.7h0M159.0,605.4h0M168.1,586.5h0M159.1,600.9h0M158.9,601.2h0M153.0,603.0h0M163.6,602.2h0M160.7,608.1h0M163.5,609.4h0M140.8,599.1h0M159.7,587.2h0M162.9,607.6h0M160.1,606.3h0M162.6,601.1h0M163.9,603.4h0M157.7,599.4h0M170.1,602.0h0M158.7,606.5h0M156.1,586.0h0M191.7,574.9h0M147.2,581.9h0M145.9,591.1h0M162.5,608.1h0M156.9,594.2h0M159.0,607.5h0M158.0,597.5h0M148.9,560.8h0M164.3,605.9h0M167.5,601.4h0M171.7,597.9h0M161.1,609.0h0M174.1,598.0h0M159.0,604.0h0M151.7,606.3h0M164.8,604.8h0M167.1,605.7h0M181.4,565.8h0M171.8,593.9h0M170.5,604.1h0M150.9,567.3h0M147.7,570.4h0M173.9,568.2h0M170.8,603.7h0M178.5,596.5h0M160.1,608.0h0M145.4,599.4h0M145.7,586.5h0M162.5,605.4h0M149.1,595.6h0M180.1,587.9h0M167.9,589.6h0M164.1,609.0h0M160.5,607.5h0M159.4,601.5h0M182.6,592.7h0M164.6,604.3h0M157.6,586.5h0M156.0,597.1h0M162.6,609.0h0M164.1,607.1h0M169.1,600.9h0M156.5,577.9h0M162.7,604.8h0M161.9,609.5h0M161.0,608.0h0M151.4,588.6h0M167.1,596.2h0M161.8,609.7h0M160.8,608.1h0M142.9,588.4h0M160.8,606.2h0M191.1,596.3h0M166.3,595.7h0M157.5,592.5h0M169.9,594.4h0M157.7,608.0h0M155.2,602.4h0M162.3,609.2h0M168.3,583.5h0M157.2,583.8h0M163.5,604.8h0M157.9,598.0h0M170.5,601.9h0M167.2,607.0h0M163.5,606.1h0M160.6,602.9h0M188.8,567.3h0M167.4,588.8h0M150.7,584.1h0M157.9,605.0h0M171.5,595.8h0M164.1,604.8h0M158.7,594.7h0M168.7,579.8h0M159.4,607.0h0M161.0,609.6h0M188.4,562.5h0M168.9,578.6h0M164.4,582.7h0M162.4,608.6h0M165.5,603.4h0M178.6,595.1h0M166.9,595.8h0M150.4,586.6h0M158.3,603.2h0M145.3,589.8h0M167.3,606.9h0M164.0,606.1h0M155.7,599.5h0M137.4,562.8h0M165.9,594.1h0M153.6,581.5h0M183.8,581.4h0M178.7,600.3h0M158.9,599.3h0M168.7,603.3h0M183.7,598.8h0M188.6,584.1h0M162.5,608.4h0M164.6,599.6h0M173.9,582.8h0M186.0,582.8h0M164.0,597.0h0M169.2,587.4h0M158.3,604.8h0M140.2,590.4h0M144.6,576.1h0M142.8,601.1h0M149.7,587.6h0M172.0,577.1h0M161.3,609.3h0M173.3,570.2h0M144.7,591.2h0M146.8,583.0h0M172.2,597.0h0M163.6,582.7h0M155.9,584.3h0M176.1,573.0h0M162.9,604.9h0M162.1,608.7h0M168.4,595.3h0M162.1,605.5h0M169.1,602.4h0M157.4,598.4h0M159.1,605.0h0M166.2,590.4h0M159.7,603.9h0M157.4,599.3h0M156.5,585.1h0M163.6,603.6h0M161.5,609.4h0M152.9,596.2h0M146.4,592.3h0M164.4,603.1h0M163.1,608.2h0M163.2,604.7h0M155.1,592.2h0M165.7,605.6h0M155.4,606.4h0M175.2,590.7h0M154.3,602.7h0M164.2,608.2h0M174.7,562.4h0M154.9,597.3h0M163.9,605.9h0M162.1,609.3h0M169.9,597.8h0M162.3,608.6h0M154.9,591.1h0M160.6,609.5h0M163.9,606.0h0M165.1,597.3h0M158.4,591.5h0M172.8,580.8h0M168.7,588.1h0M144.5,579.9h0M167.0,603.5h0M141.5,566.9h0M151.9,599.4h0M160.9,607.7h0M168.0,605.3h0M160.7,607.2h0M166.1,600.3h0M161.9,609.5h0M149.2,588.6h0M161.0,608.1h0M137.8,569.5h0M126.0,582.8h0M150.6,564.0h0M157.4,591.1h0M155.5,599.9h0M156.3,602.3h0M160.6,606.9h0M159.5,583.5h0M158.9,606.4h0M155.4,587.8h0M157.5,604.9h0M160.2,606.7h0M156.5,596.5h0M162.8,594.4h0M175.8,592.5h0M159.6,602.8h0M154.6,590.3h0M177.2,581.8h0M153.6,597.5h0M178.7,589.6h0M159.5,605.1h0M168.0,594.8h0M175.6,594.9h0M163.8,607.9h0M162.1,608.2h0M162.7,607.2h0M152.9,591.1h0M148.7,589.8h0M159.0,604.2h0M166.8,602.7h0M162.5,603.8h0M186.0,581.6h0M163.9,587.8h0M164.1,595.7h0M174.4,568.6h0M162.3,608.6h0M162.7,606.5h0M166.3,586.2h0M151.6,586.8h0M157.6,602.4h0M166.9,589.3h0M188.6,567.8h0M156.2,597.7h0M154.2,592.8h0M155.7,585.4h0M160.8,609.3h0M171.2,594.1h0M161.6,609.7h0M151.7,577.8h0M181.2,587.8h0M179.8,579.7h0M161.0,607.8h0M160.6,609.0h0M187.6,591.5h0M168.1,589.1h0M155.6,594.4h0M159.6,602.8h0M160.0,599.6h0M159.3,607.2h0M156.5,597.5h0M161.5,609.9h0M152.7,576.5h0M178.5,598.0h0M162.1,609.6h0M168.3,602.6h0M185.6,568.1h0M166.1,601.1h0M163.0,594.4h0M151.6,593.8h0M154.6,599.6h0M161.6,609.5h0M165.7,589.6h0M169.3,603.3h0M162.5,607.2h0M166.3,595.3h0M163.8,599.4h0M142.3,601.9h0M184.5,583.9h0M158.3,603.1h0M184.6,577.5h0M158.3,593.1h0M168.2,597.5h0M177.2,575.7h0M157.9,578.1h0M154.8,599.5h0M165.0,596.6h0M177.1,585.9h0M163.5,603.5h0M154.8,606.1h0M189.9,572.9h0M161.1,608.0h0M160.4,606.4h0M161.4,609.8h0M170.4,574.9h0M169.0,597.5h0M163.0,604.8h0M142.2,590.6h0M170.1,595.6h0M165.2,600.4h0M156.3,599.1h0M165.3,604.8h0M154.3,597.0h0M183.7,601.0h0M148.5,579.2h0M165.0,606.6h0M162.5,609.1h0M157.9,597.0h0M173.6,586.6h0M171.4,604.5h0M168.2,597.0h0M165.0,607.4h0M165.5,572.1h0M153.5,601.5h0M165.0,606.2h0M162.5,608.1h0M166.4,586.3h0M157.7,604.4h0M164.8,607.0h0M163.4,587.3h0M149.1,600.3h0M171.8,591.9h0M162.1,609.6h0M169.6,598.2h0M165.3,572.9h0M170.1,595.1h0M158.6,598.2h0M167.1,599.2h0M160.4,607.5h0M144.8,576.7h0M156.1,601.7h0M168.1,598.2h0M155.7,585.9h0M164.0,607.6h0M143.6,586.3h0M139.4,586.7h0M167.4,604.2h0M166.6,602.1h0M167.0,600.6h0M152.1,597.0h0M183.1,593.9h0M157.6,600.8h0M157.7,601.9h0M145.7,588.3h0M159.9,601.9h0M170.4,606.2h0M161.2,609.2h0M163.9,607.7h0M165.1,605.5h0M144.1,574.3h0M166.0,598.4h0M165.1,604.5h0M161.2,609.0h0M157.2,604.2h0M169.8,600.5h0M155.9,606.0h0M163.5,604.6h0M166.9,600.8h0M161.0,609.1h0M166.1,597.3h0M146.4,573.9h0M144.7,564.8h0M168.4,573.4h0M180.8,577.0h0M162.9,607.0h0M163.0,595.6h0M131.7,596.4h0M124.9,566.5h0M156.2,593.4h0M155.3,603.0h0M137.2,586.8h0M153.4,587.4h0M151.5,573.0h0M168.0,568.6h0M163.3,604.7h0M162.6,608.8h0M176.2,599.7h0M160.7,607.2h0M167.7,596.6h0M153.5,596.8h0M166.6,603.5h0M157.6,607.2h0M175.6,598.0h0M168.2,604.5h0M159.1,602.2h0M165.2,589.4h0M167.8,578.4h0M169.5,582.8h0M150.6,598.3h0M168.3,598.9h0M161.2,607.6h0M164.2,606.1h0M162.6,608.9h0M166.4,584.2h0M154.9,600.0h0M161.0,606.5h0M194.6,594.3h0M160.4,608.8h0M152.0,587.2h0M162.9,602.6h0M158.5,602.8h0M155.9,600.6h0M175.6,593.2h0M174.3,572.4h0M137.5,586.7h0M145.4,596.4h0M153.5,603.4h0M163.1,609.2h0M167.2,602.0h0M156.5,602.2h0M160.1,605.3h0M146.0,576.2h0M155.5,601.9h0M162.0,608.6h0M157.7,606.2h0M160.3,602.2h0M167.1,589.5h0M157.0,601.9h0M161.6,609.8h0M162.3,609.0h0M166.2,593.8h0M161.6,609.7h0M143.3,590.3h0M169.5,602.7h0M158.5,604.1h0M179.7,563.6h0M182.9,577.4h0M163.1,607.5h0M121.6,560.7h0" fill="none" stroke="#7c7c7c" stroke-width="4.2" stroke-linecap="round" stroke-opacity="0.5"/>
<path d="M160.0,606.7h0M166.0,603.9h0M170.0,601.1h0M172.7,593.1h0M158.1,600.7h0M155.1,587.0h0M159.1,594.8h0M135.8,564.4h0M178.3,563.8h0M164.6,606.2h0M146.3,585.4h0M166.8,563.0h0M161.6,609.9h0M170.7,597.6h0M169.0,599.5h0M160.1,607.9h0M198.4,579.7h0M163.5,605.8h0M151.8,602.2h0M159.1,604.6h0M165.8,607.5h0M169.7,589.5h0M163.6,599.2h0M170.8,596.8h0M149.6,595.5h0M163.6,582.6h0M142.2,591.1h0M165.8,597.5h0M167.9,604.8h0M162.9,608.2h0M160.6,605.4h0M167.9,569.7h0M160.0,604.0h0M159.8,608.9h0M162.0,609.7h0M203.1,582.8h0M172.2,600.7h0M154.3,590.4h0M170.2,599.5h0M161.3,609.6h0M157.9,604.7h0M165.3,597.5h0M162.2,609.5h0M155.1,605.6h0M156.7,599.6h0M159.1,594.2h0M155.4,596.4h0M169.5,604.5h0M162.5,607.9h0M160.0,607.4h0M161.7,610.0h0M165.4,581.9h0M185.5,592.1h0M163.1,607.0h0M167.3,585.8h0M164.4,598.8h0M161.6,609.8h0M156.7,607.8h0M159.7,598.1h0M151.4,603.1h0M154.7,605.4h0M170.4,588.9h0M152.7,604.3h0M154.7,598.0h0M168.8,597.3h0M156.5,595.6h0M167.0,597.9h0M158.0,584.6h0M165.0,598.0h0M158.4,597.8h0M149.7,563.4h0M163.5,596.3h0M172.3,599.2h0M157.0,601.4h0M157.2,607.9h0M188.6,578.2h0M155.5,606.9h0M166.6,603.2h0M165.0,605.6h0M154.3,604.6h0M172.5,575.8h0M159.3,587.4h0M163.1,602.3h0M171.7,605.5h0M154.6,601.1h0M161.4,609.5h0M166.8,598.5h0M163.9,595.5h0M172.8,590.5h0M189.0,571.0h0M161.6,609.8h0M169.2,604.0h0M175.8,571.5h0M181.3,581.6h0M148.9,605.7h0M161.8,609.8h0M168.2,581.8h0M170.7,569.4h0M143.4,580.8h0M157.8,586.8h0M158.3,601.7h0M162.2,609.4h0M158.7,604.7h0M160.1,604.7h0M126.8,568.5h0M163.9,594.4h0M166.3,597.0h0M163.4,608.5h0M152.5,595.9h0M155.5,600.8h0M176.8,584.2h0M158.1,600.0h0M176.9,580.3h0M157.0,602.5h0M159.7,606.0h0M166.0,601.6h0M172.4,594.4h0M161.4,609.6h0M159.7,593.1h0M166.0,593.6h0M142.6,596.8h0M157.9,605.3h0M167.5,600.8h0M158.4,607.5h0M159.8,604.5h0M180.7,595.5h0M159.6,604.6h0M153.8,599.7h0M172.5,603.3h0M169.4,599.3h0M166.2,602.6h0M158.3,596.4h0M160.1,607.8h0M165.6,598.9h0M138.2,563.0h0M170.4,605.0h0M180.7,576.8h0M163.7,596.5h0M163.5,608.1h0M160.3,608.5h0M161.1,609.5h0M148.5,592.9h0M168.1,598.5h0M171.6,602.5h0M159.7,606.0h0M163.2,607.5h0M161.8,609.4h0M161.5,609.6h0M166.0,598.9h0M176.3,588.8h0M187.2,561.8h0M180.7,591.9h0M162.4,608.2h0M168.4,606.9h0M152.2,594.9h0M161.7,610.0h0M158.5,591.3h0M162.5,602.5h0M157.8,585.3h0M162.0,609.4h0M149.0,593.0h0M155.7,598.0h0M157.9,596.8h0M163.7,602.8h0M154.9,600.5h0M142.3,583.0h0M168.3,577.8h0M161.7,610.0h0M167.0,589.2h0M160.0,603.2h0M175.6,596.8h0M162.4,609.0h0M192.3,584.2h0M163.5,607.0h0M149.2,591.7h0M158.0,607.7h0M155.0,585.0h0M161.3,609.5h0M156.8,589.7h0M161.9,609.5h0M164.0,596.2h0M158.1,577.4h0M167.8,592.1h0M163.4,606.4h0M172.8,589.2h0M165.3,601.3h0M166.9,600.6h0M144.0,599.8h0M163.0,605.9h0M162.7,605.8h0M135.1,569.6h0M142.8,588.1h0M151.4,563.7h0M151.4,570.0h0M154.6,598.6h0M162.3,608.6h0M165.4,606.4h0M163.7,607.4h0M156.9,596.7h0M158.2,605.2h0M163.4,607.8h0M139.6,600.3h0M156.2,593.9h0M195.3,592.5h0M161.8,609.0h0M161.4,609.7h0M160.9,608.1h0M164.7,596.3h0M162.4,609.2h0M157.4,605.4h0M167.3,586.1h0M159.1,607.1h0M157.7,605.5h0M178.2,583.2h0M165.4,597.5h0M152.0,604.9h0M161.9,609.9h0M163.8,603.0h0M180.8,588.4h0M160.4,604.9h0M165.7,603.3h0M162.3,607.9h0M162.3,608.0h0M143.1,588.6h0M164.6,598.9h0M163.6,596.3h0M156.6,597.7h0M153.4,605.0h0M157.2,599.7h0M159.4,608.1h0M158.9,605.0h0M169.9,591.2h0M153.3,599.6h0M169.4,598.0h0M159.3,600.7h0M165.6,596.9h0M172.8,573.5h0M163.9,601.5h0M165.2,602.9h0M155.7,602.8h0M144.5,591.2h0M167.5,604.8h0M164.8,589.3h0M147.9,602.6h0M157.1,593.0h0M164.2,600.7h0M171.4,601.7h0M160.0,606.3h0M169.0,602.7h0M160.2,607.2h0M164.7,597.3h0M158.5,598.4h0M162.6,604.5h0M154.5,593.9h0M159.5,602.7h0M166.6,601.6h0M159.4,575.5h0M166.5,562.1h0M160.7,607.9h0M170.6,582.3h0M147.3,596.0h0M169.0,598.6h0M155.0,597.5h0M154.4,601.8h0M154.2,606.8h0M159.9,606.3h0M162.8,608.9h0M161.2,609.4h0M162.5,609.7h0M161.2,609.1h0M148.0,601.3h0M159.8,604.3h0M159.7,606.4h0M184.5,581.9h0M168.2,589.2h0M160.0,590.7h0M159.1,606.0h0M170.4,585.8h0M170.5,598.3h0M158.2,599.8h0M171.1,592.9h0M164.4,600.4h0M181.6,595.6h0M160.9,609.5h0M180.3,601.0h0M144.7,564.5h0M157.9,605.4h0M169.5,588.2h0M172.4,600.8h0M180.4,561.5h0M151.2,595.6h0M145.6,585.2h0M160.3,603.6h0M159.5,604.9h0M137.6,591.3h0M156.3,603.8h0M164.1,602.9h0M167.4,596.0h0M156.9,602.0h0M171.0,604.0h0M186.7,591.8h0M145.0,593.3h0M159.9,602.8h0M172.6,576.8h0M165.3,608.1h0M168.7,604.1h0M162.7,602.3h0M156.1,593.2h0M167.2,603.6h0M151.0,597.6h0M162.8,607.8h0M156.6,603.0h0M155.0,589.4h0M154.5,585.7h0M151.9,592.0h0M163.4,605.2h0M139.3,583.9h0M155.6,578.4h0M157.2,602.4h0M162.8,603.9h0M163.4,596.9h0M166.3,599.7h0M173.8,591.6h0M160.1,607.7h0M159.0,606.9h0M152.0,582.7h0M160.6,603.6h0M158.2,604.7h0M161.2,609.4h0M157.7,606.9h0M162.4,608.2h0M161.4,609.5h0M154.0,586.2h0M172.1,572.5h0M149.0,575.4h0M159.3,604.2h0M153.8,599.3h0M180.0,581.8h0M164.1,606.2h0M157.0,603.3h0M157.1,601.5h0M186.3,600.7h0M162.3,608.3h0M158.4,590.1h0M180.5,592.1h0M154.2,601.3h0M160.1,605.4h0M143.0,566.8h0M160.1,606.7h0M143.4,573.8h0M151.7,585.1h0M164.0,591.0h0M161.6,609.9h0M161.9,609.6h0M160.2,608.0h0M156.5,604.9h0M163.0,604.4h0M140.9,585.1h0M173.7,574.6h0M152.1,586.6h0M164.4,600.9h0M150.2,578.2h0M177.2,602.3h0M165.5,601.7h0M162.7,608.4h0M160.4,609.0h0M163.2,605.3h0M147.8,599.3h0M159.0,604.6h0M163.2,598.8h0M159.8,605.6h0M150.7,581.6h0M165.4,606.1h0M182.3,578.0h0M157.3,601.2h0M159.5,607.1h0M161.1,608.0h0M164.0,580.7h0M160.2,608.5h0M169.1,593.3h0M161.5,609.6h0M162.8,605.2h0M156.1,595.1h0M164.7,587.8h0M175.1,599.2h0M167.3,608.2h0M154.4,598.8h0M160.6,608.7h0M158.3,604.7h0M150.8,594.7h0M164.0,606.5h0M164.0,598.6h0M161.7,609.8h0M157.0,604.7h0M168.2,580.5h0M165.2,600.3h0M160.7,609.7h0M156.7,578.0h0M153.1,574.5h0M165.0,598.6h0M165.1,603.5h0M158.6,606.1h0M166.4,595.9h0M177.5,589.7h0M162.6,604.3h0M159.9,604.8h0M165.6,594.4h0M155.9,582.3h0M164.9,603.2h0M150.9,605.0h0M135.4,593.8h0M149.8,573.7h0M174.8,596.5h0M166.8,605.7h0M167.3,592.8h0M147.4,583.8h0M152.7,604.9h0M167.3,597.2h0M162.9,607.5h0M161.5,609.4h0M146.5,590.5h0M164.9,591.1h0M146.8,591.3h0M149.1,601.5h0M159.2,605.8h0M174.2,599.7h0M164.4,602.7h0M186.3,564.1h0M155.7,582.2h0M175.9,590.1h0M168.9,604.2h0M160.6,607.3h0M169.2,579.4h0M158.4,601.2h0M167.9,577.8h0M160.1,608.2h0M161.4,609.5h0M176.1,585.0h0M162.9,608.5h0M156.5,596.5h0M168.9,604.8h0M175.1,589.1h0M156.1,601.1h0M131.8,580.3h0M157.4,606.1h0M161.0,609.4h0M158.0,600.8h0M163.9,601.7h0M156.6,606.2h0M182.8,589.7h0M181.9,593.2h0M158.7,606.6h0M164.4,596.6h0M157.5,567.1h0M153.3,601.7h0M163.7,570.7h0M167.1,569.5h0M157.9,598.5h0M151.8,604.0h0M160.9,608.7h0M146.9,574.9h0M158.1,594.9h0M171.3,592.2h0M151.8,599.5h0M167.4,582.4h0M164.1,608.0h0M168.6,571.9h0M153.7,603.4h0M175.0,593.1h0M168.8,599.0h0M167.5,602.7h0M154.0,603.2h0M162.4,603.9h0M151.3,602.6h0M169.5,603.9h0M172.3,579.0h0M140.1,591.1h0M142.3,593.5h0M178.1,581.4h0M164.9,574.6h0M161.5,607.4h0M161.7,610.0h0M157.7,599.9h0M166.4,600.9h0M176.6,598.8h0M145.8,605.8h0M121.4,599.3h0M169.4,600.8h0M179.0,599.1h0M161.4,608.9h0M160.5,604.4h0M169.3,572.3h0M165.9,606.0h0M158.4,603.1h0M188.6,595.3h0M160.3,608.0h0M152.4,592.2h0M161.9,609.8h0M146.6,589.3h0M166.4,604.9h0M152.5,574.3h0M136.7,585.6h0M160.5,602.4h0M172.9,602.6h0M161.4,609.5h0M165.6,600.9h0M164.1,597.0h0M159.1,604.9h0M150.6,585.1h0M147.1,593.9h0M162.3,608.3h0M170.4,598.8h0M149.5,569.0h0M181.7,570.9h0M167.2,601.2h0M161.5,608.3h0M160.7,604.7h0M161.9,609.9h0M150.0,592.9h0M154.7,577.7h0M172.9,596.1h0M138.4,596.8h0M166.6,577.6h0M158.0,599.4h0M165.5,607.1h0M165.3,604.9h0M148.4,601.5h0M158.3,603.3h0M166.4,606.4h0M160.8,606.9h0M161.6,609.2h0M166.4,599.8h0M159.9,606.0h0M165.3,599.1h0M170.2,586.9h0M157.5,599.5h0M139.5,594.4h0M165.7,600.9h0M164.4,585.4h0M160.0,602.0h0M163.9,600.7h0M166.5,595.3h0M156.7,604.1h0M160.5,607.0h0M121.5,591.3h0M162.9,604.7h0M155.1,583.4h0M171.0,594.0h0M152.4,593.5h0M155.3,596.1h0M188.0,570.1h0M159.2,582.7h0M157.8,604.9h0M162.8,607.9h0M150.0,593.0h0M164.1,601.5h0M164.7,598.8h0M157.2,598.1h0M147.1,570.8h0M146.6,599.5h0M163.3,581.8h0M165.2,597.3h0M133.2,582.5h0M176.2,602.2h0M160.7,604.4h0M161.7,609.8h0M153.4,604.7h0M168.3,589.6h0M163.5,606.5h0M155.4,602.6h0M150.6,597.0h0M147.6,593.2h0M186.3,587.9h0M175.0,597.1h0M149.1,597.7h0M163.5,608.3h0M171.2,563.7h0M168.7,608.6h0M164.5,596.3h0M173.9,590.7h0M164.4,607.4h0M138.3,583.1h0M171.3,600.6h0M168.3,580.6h0M173.5,588.8h0M160.8,609.4h0M163.7,603.0h0M160.1,592.1h0M218.8,561.1h0M201.8,572.6h0" fill="none" stroke="#7c7c7c" stroke-width="4.2" stroke-linecap="round" stroke-opacity="0.5"/>
<path d="M154.2,592.5h0M168.0,606.6h0M168.4,600.4h0M163.4,608.1h0M175.2,569.8h0M174.1,596.4h0M152.9,564.8h0M169.3,589.1h0M157.5,606.9h0M162.1,609.2h0M166.9,580.3h0M166.8,604.4h0M150.4,594.7h0M163.1,605.6h0M169.8,602.3h0M166.1,591.5h0M148.9,587.5h0M163.9,604.6h0M151.1,586.3h0M175.2,599.5h0M160.1,607.9h0M140.0,586.9h0M138.9,576.0h0M152.0,571.9h0M171.4,575.7h0M159.0,601.7h0M150.8,603.2h0M159.0,603.8h0M149.6,600.1h0M162.6,608.9h0M160.2,607.9h0M161.0,609.1h0M152.8,587.7h0M172.0,566.1h0M159.1,594.5h0M189.2,602.5h0M153.6,593.1h0M170.9,593.5h0M183.8,570.1h0M168.4,587.2h0M170.1,582.1h0M147.3,598.4h0M163.7,607.6h0M168.9,603.7h0M172.1,604.3h0M160.5,609.1h0M164.9,605.9h0M149.6,569.6h0M179.2,606.1h0M161.9,609.5h0M165.1,603.2h0M160.2,605.4h0M160.2,607.3h0M151.9,586.2h0M160.3,606.3h0M157.3,591.4h0M151.0,578.5h0M175.8,602.8h0M156.8,589.1h0M165.1,604.6h0M149.2,588.3h0M160.4,608.9h0M164.4,580.4h0M161.8,609.8h0M161.2,609.3h0M152.8,597.4h0M159.0,608.3h0M147.0,602.2h0M162.8,607.7h0M157.5,604.6h0M163.5,607.6h0M153.3,593.6h0M166.0,605.4h0M165.4,596.8h0M167.6,605.2h0M132.6,567.8h0M159.2,600.5h0M158.7,601.5h0M151.0,582.3h0M171.8,579.8h0M160.9,609.0h0M162.1,609.5h0M155.4,598.3h0M165.9,605.9h0M166.6,601.0h0M178.5,600.7h0M171.0,601.3h0M158.7,605.7h0M163.6,599.0h0M157.7,601.1h0M161.8,608.9h0M159.0,605.8h0M141.3,563.9h0M164.7,605.2h0M157.3,606.2h0M162.6,606.5h0M158.1,603.9h0M161.1,603.4h0M161.6,609.6h0M169.6,578.2h0M156.9,604.2h0M143.5,597.8h0M173.7,595.5h0M158.5,607.4h0M155.7,603.1h0M168.8,586.8h0M161.6,609.8h0M157.1,608.1h0M156.0,601.4h0M166.2,591.0h0M161.8,609.8h0M143.9,586.6h0M154.5,597.2h0M174.1,597.1h0M161.2,607.4h0M161.2,607.0h0M161.8,609.7h0M165.4,596.7h0M187.4,594.3h0M153.5,565.4h0M161.4,608.9h0M160.0,598.0h0M157.3,595.8h0M162.0,609.8h0M137.3,595.7h0M154.3,583.6h0M136.5,594.3h0M186.3,572.3h0M148.7,578.5h0M162.4,608.9h0M163.1,605.8h0M157.5,604.6h0M160.6,608.3h0M168.9,607.9h0M160.2,599.2h0M166.4,602.5h0M157.6,590.0h0M164.0,605.7h0M186.3,562.4h0M188.8,580.3h0M160.7,607.0h0M162.3,608.1h0M162.0,606.9h0M167.6,596.4h0M162.8,604.4h0M165.3,606.9h0M158.6,600.7h0M137.0,573.1h0M179.6,577.0h0M177.1,596.6h0M152.3,574.3h0M164.4,606.9h0M156.3,599.6h0M166.6,583.8h0M159.4,605.3h0M144.7,581.3h0M146.9,593.6h0M157.5,602.7h0M153.0,590.3h0M170.0,592.5h0M160.2,605.5h0M163.2,605.2h0M156.6,598.7h0M153.5,604.7h0M177.2,573.0h0M159.0,601.7h0M195.7,585.4h0M168.3,602.8h0M162.6,605.7h0M161.5,609.3h0M175.2,589.6h0M164.5,599.8h0M178.7,598.9h0M160.8,605.9h0M151.2,567.2h0M173.3,578.2h0M162.2,609.2h0M199.8,594.9h0M160.1,603.0h0M163.0,608.4h0M156.2,597.5h0M177.8,584.9h0M171.7,591.2h0M156.1,601.1h0M162.9,608.1h0M144.2,561.6h0M161.4,609.6h0M172.7,593.5h0M158.1,594.1h0M160.6,608.7h0M153.2,585.9h0M161.7,609.9h0M154.2,604.7h0M177.7,601.7h0M160.1,609.3h0M153.4,563.3h0M179.7,598.8h0M170.8,591.6h0M159.8,607.1h0M128.7,589.9h0M170.7,604.1h0M177.5,568.4h0M179.0,607.3h0M119.9,584.2h0M159.7,604.2h0M155.6,599.9h0M168.5,601.6h0M151.6,594.0h0M160.6,605.7h0M153.1,593.9h0M167.7,605.9h0M160.4,607.0h0M180.0,562.6h0M167.0,602.3h0M162.0,609.7h0M164.0,598.9h0M153.0,599.8h0M184.7,591.5h0M151.2,564.8h0M160.9,608.6h0M186.2,564.3h0M156.9,600.7h0M162.1,609.4h0M171.5,589.7h0M162.4,607.8h0M176.3,587.1h0M161.4,609.0h0M152.5,601.0h0M160.4,597.4h0M160.1,606.3h0M168.7,587.8h0M177.1,597.3h0M167.4,576.3h0M167.1,586.0h0M159.3,603.7h0M173.3,592.9h0M170.2,601.7h0M161.4,608.4h0M162.3,609.1h0M157.1,596.5h0M152.0,598.7h0M178.3,595.6h0M167.2,598.8h0M161.1,595.0h0M165.1,589.6h0M163.5,596.8h0M161.6,609.7h0M160.8,609.5h0M151.1,585.9h0M133.1,576.5h0M159.7,605.1h0M155.6,602.6h0M160.8,606.1h0M150.1,593.0h0M174.6,605.4h0M172.6,605.5h0M162.4,609.1h0M163.4,607.5h0M160.8,607.3h0M168.9,599.9h0M182.0,582.6h0M159.1,600.9h0M156.3,601.8h0M158.0,601.2h0M140.1,588.2h0M155.3,593.8h0M160.8,607.6h0M159.5,599.3h0M143.0,594.6h0M167.8,600.4h0M190.2,595.2h0M179.9,562.3h0M161.9,609.8h0M134.9,582.4h0M137.5,575.4h0M157.8,607.6h0M163.8,604.6h0M155.2,599.0h0M159.8,604.4h0M158.5,586.3h0M164.6,604.8h0M163.7,607.3h0M158.7,607.7h0M159.7,597.9h0M165.7,605.5h0M146.9,593.6h0M146.0,599.0h0M156.1,600.2h0M165.5,603.3h0M165.3,588.7h0M141.9,580.3h0M156.3,604.1h0M127.8,584.0h0M159.0,598.4h0M165.3,596.8h0M169.9,603.5h0M161.2,607.9h0M160.1,606.9h0M146.2,602.1h0M158.5,605.2h0M163.1,608.2h0M152.3,590.7h0M158.0,601.7h0M153.0,598.2h0M177.6,586.8h0M156.7,593.8h0M161.5,609.7h0M163.0,608.8h0M159.6,606.3h0M174.7,582.1h0M155.8,597.8h0M161.7,609.8h0M170.7,599.6h0M158.5,597.9h0M162.2,609.6h0M157.8,604.6h0M153.7,604.7h0M165.0,581.0h0M164.5,606.9h0M153.2,585.3h0M157.8,605.6h0M139.5,596.3h0M178.9,581.1h0M168.8,586.8h0M165.8,605.4h0M152.7,580.2h0M162.4,608.0h0M162.0,608.6h0M155.6,603.2h0M157.3,604.6h0M171.8,586.3h0M158.5,599.6h0M156.9,601.7h0M151.1,598.8h0M182.4,571.0h0M157.1,584.5h0M192.4,595.1h0M164.6,604.7h0M167.8,607.6h0M163.6,604.1h0M142.6,586.1h0M158.0,603.4h0M161.4,609.2h0M141.6,602.6h0M160.8,607.6h0M163.8,607.8h0M158.3,596.4h0M174.6,579.4h0M157.8,595.8h0M152.2,587.4h0M163.3,605.7h0M163.3,607.1h0M157.4,603.6h0M159.7,603.7h0M171.2,603.9h0M163.3,606.8h0M159.4,607.0h0M163.4,604.7h0M139.9,590.0h0M168.0,580.4h0M163.2,604.7h0M162.8,607.6h0M172.3,594.2h0M162.0,609.5h0M167.6,596.3h0M168.0,606.0h0M160.8,606.8h0M150.8,599.6h0M174.1,567.3h0M175.7,597.9h0M153.7,604.5h0M169.6,598.7h0M140.6,583.7h0M187.0,564.6h0M166.8,596.7h0M141.0,589.7h0M160.2,606.9h0M162.7,609.3h0M179.8,599.7h0M170.7,580.3h0M162.7,607.1h0M159.2,606.2h0M140.0,589.7h0M156.0,600.7h0M152.9,591.9h0M160.3,609.7h0M183.7,571.2h0M160.1,606.1h0M177.7,581.0h0M150.9,589.9h0M174.6,572.1h0M178.2,567.0h0M173.1,603.0h0M172.6,577.6h0M164.3,593.5h0M170.8,585.6h0M162.9,609.0h0M175.9,588.2h0M183.2,587.2h0M164.4,606.5h0M166.9,575.0h0M157.5,600.5h0M161.7,609.9h0M161.7,610.0h0M158.7,599.0h0M147.3,596.5h0M152.6,560.2h0M158.0,604.0h0M155.3,587.7h0M154.1,605.1h0M158.9,604.4h0M162.6,602.9h0M162.3,605.9h0M156.9,603.0h0M164.5,597.0h0M159.2,595.6h0M158.1,608.5h0M161.9,609.8h0M148.5,601.8h0M149.6,577.1h0M165.2,593.6h0M163.7,605.5h0M145.1,582.4h0M168.7,600.8h0M156.7,604.3h0M162.7,603.9h0M157.8,598.7h0M163.1,605.0h0M165.9,597.8h0M174.6,597.1h0M159.6,608.1h0M158.6,608.2h0M161.2,609.1h0M156.7,604.3h0M157.0,602.9h0M149.4,588.4h0M167.0,607.0h0M154.5,602.9h0M165.7,600.7h0M156.4,601.5h0M155.0,584.8h0M139.5,585.1h0M168.0,587.2h0M164.0,599.2h0M165.1,606.7h0M180.1,570.5h0M161.2,609.5h0M157.0,591.3h0M178.4,571.2h0M167.5,605.8h0M135.0,573.9h0M163.2,606.8h0M147.0,566.3h0M179.4,594.1h0M175.1,593.4h0M161.8,609.8h0M137.6,595.3h0M152.3,599.9h0M151.4,595.9h0M185.7,573.6h0M154.6,596.6h0M158.6,596.7h0M165.6,605.4h0M163.5,601.9h0M166.0,604.5h0M180.9,595.6h0M167.4,591.4h0M159.8,606.8h0M167.2,602.2h0M166.2,591.6h0M148.5,599.4h0M171.1,596.3h0M165.0,602.8h0M157.6,603.4h0M157.0,601.7h0M170.4,604.0h0M163.3,607.5h0M153.5,600.9h0M159.3,606.5h0M157.2,585.9h0M162.7,607.8h0M153.2,602.9h0M146.3,584.5h0M176.7,595.8h0M150.0,591.3h0M158.7,606.0h0M145.7,588.8h0M158.7,597.3h0M161.3,609.6h0M144.6,577.3h0M162.6,607.7h0M173.0,587.1h0M167.3,596.3h0M147.3,590.1h0M155.1,603.8h0M154.1,594.7h0M162.2,607.7h0M160.8,608.8h0M165.3,597.3h0M168.6,605.5h0M179.5,591.4h0M170.0,606.6h0M162.7,607.3h0M182.2,588.1h0M161.1,608.4h0M147.0,600.9h0M173.3,568.9h0M176.0,587.0h0M137.4,589.9h0M161.0,609.7h0M180.2,596.7h0M160.7,605.8h0M162.9,607.7h0M166.8,604.5h0M153.5,589.5h0M167.2,592.5h0M167.8,602.9h0M175.1,600.2h0M179.3,591.7h0M182.7,568.8h0M170.1,602.7h0M133.8,593.9h0M184.9,582.4h0M164.3,599.9h0M161.7,610.0h0M161.5,609.5h0M166.7,593.5h0M154.4,572.9h0M160.6,607.5h0M177.7,590.3h0M179.2,603.8h0M156.6,605.7h0M158.4,585.1h0M166.3,599.8h0M169.2,586.3h0M158.2,607.6h0M161.7,609.9h0M154.6,580.3h0M167.2,596.1h0M168.4,604.6h0M167.8,596.9h0M161.6,609.8h0M177.7,583.5h0M165.7,594.8h0M162.1,608.9h0M157.8,602.1h0M154.4,591.6h0M149.3,586.5h0M142.4,589.8h0M132.4,592.8h0M168.1,603.2h0M133.1,597.6h0M166.2,586.3h0M143.5,580.6h0M161.5,609.8h0M191.3,582.0h0M151.6,601.9h0M158.9,607.0h0M161.6,609.9h0M157.5,600.0h0M160.0,605.0h0M143.6,604.5h0M160.2,597.2h0M165.8,581.7h0M162.4,609.2h0M153.8,595.8h0M183.2,587.4h0M167.2,601.3h0M155.9,573.5h0M169.9,588.6h0M153.4,604.3h0M130.2,594.3h0M165.8,601.5h0M154.0,595.9h0M181.7,590.3h0M164.5,600.5h0M143.3,592.4h0M163.0,608.2h0M159.9,592.8h0M168.8,594.5h0M163.3,606.7h0M190.9,568.9h0M159.1,582.4h0M157.2,605.5h0M159.7,600.7h0M165.7,604.2h0M162.4,608.0h0M161.4,609.4h0M222.8,569.1h0M124.6,579.9h0" fill="none" stroke="#7c7c7c" stroke-width="4.2" stroke-linecap="round" stroke-opacity="0.5"/>
<path d="M176.2,587.8h0M170.3,584.2h0M159.5,600.4h0M169.4,577.8h0M158.7,597.6h0M161.9,609.7h0M145.1,599.9h0M160.3,607.4h0M160.8,608.5h0M162.0,609.8h0M164.9,601.3h0M163.1,608.9h0M154.8,590.7h0M157.3,604.2h0M161.9,609.7h0M168.5,602.8h0M166.2,603.8h0M160.9,608.6h0M179.0,592.0h0M165.2,588.5h0M170.1,595.7h0M158.9,606.1h0M157.5,591.7h0M162.7,608.8h0M165.1,606.3h0M157.4,601.8h0M146.9,581.0h0M166.1,606.2h0M159.4,600.3h0M160.0,600.2h0M159.1,602.6h0M144.1,582.8h0M170.8,578.0h0M165.9,605.0h0M165.1,602.6h0M146.9,592.6h0M166.9,605.6h0M157.4,594.4h0M160.7,609.1h0M160.8,608.1h0M162.6,608.1h0M166.9,597.7h0M166.3,606.2h0M169.4,596.7h0M166.6,586.9h0M160.0,608.6h0M164.3,605.8h0M154.7,597.5h0M158.2,599.2h0M166.1,596.3h0M164.8,607.5h0M140.0,581.7h0M164.3,588.8h0M164.4,592.8h0M167.1,601.5h0M159.6,602.1h0M185.0,576.5h0M171.3,586.7h0M167.5,601.9h0M156.6,607.5h0M163.3,607.5h0M166.9,599.0h0M160.8,608.4h0M162.2,609.2h0M172.0,574.2h0M166.4,603.0h0M168.4,604.5h0M163.1,602.0h0M188.2,574.1h0M169.2,601.6h0M164.9,603.6h0M157.2,590.0h0M161.4,608.5h0M186.3,599.1h0M155.2,598.1h0M160.0,608.2h0M156.5,580.7h0M169.3,601.4h0M154.4,601.1h0M166.3,594.6h0M147.3,576.4h0M151.5,601.0h0M168.9,594.5h0M140.5,583.0h0M165.2,604.9h0M143.4,598.9h0M161.7,609.8h0M151.5,592.0h0M164.3,606.2h0M158.0,600.4h0M157.7,573.1h0M163.5,589.2h0M152.2,580.9h0M153.1,596.7h0M160.9,609.2h0M165.4,598.0h0M155.3,598.6h0M172.2,562.2h0M168.5,605.6h0M164.9,606.4h0M165.3,606.8h0M167.6,604.8h0M152.4,580.8h0M168.2,595.0h0M161.2,608.7h0M165.2,608.0h0M177.3,585.8h0M158.4,607.5h0M159.7,598.0h0M160.1,608.5h0M163.5,606.1h0M141.3,582.2h0M162.1,607.9h0M175.1,593.1h0M158.6,604.9h0M163.5,608.2h0M165.9,599.2h0M161.2,609.6h0M177.9,592.7h0M172.6,561.3h0M169.7,582.3h0M154.9,583.5h0M159.4,607.6h0M168.2,600.3h0M178.7,567.4h0M174.3,602.8h0M155.7,599.4h0M174.6,583.6h0M163.2,606.5h0M151.5,587.7h0M170.0,578.6h0M151.6,585.9h0M168.2,597.1h0M157.4,589.6h0M139.3,576.9h0M167.6,594.9h0M161.5,609.6h0M165.9,576.5h0M163.6,601.2h0M166.1,606.4h0M143.7,560.2h0M160.3,604.7h0M173.0,586.5h0M171.8,604.8h0M162.8,605.1h0M167.2,591.8h0M157.9,606.0h0M158.1,602.7h0M155.4,602.3h0M161.3,609.2h0M163.7,606.1h0M156.8,576.7h0M144.6,585.9h0M160.3,599.9h0M134.3,575.4h0M139.6,583.6h0M164.2,605.9h0M154.8,587.8h0M166.9,598.9h0M170.5,596.7h0M160.6,609.1h0M163.4,608.3h0M169.1,593.0h0M164.5,602.6h0M159.3,607.9h0M170.6,567.0h0M163.2,607.9h0M162.4,607.8h0M167.5,580.0h0M166.4,592.2h0M175.2,597.5h0M153.2,580.5h0M162.8,606.4h0M148.4,585.3h0M143.3,601.9h0M162.9,606.6h0M161.0,604.5h0M158.7,591.7h0M160.0,605.7h0M162.3,604.8h0M155.0,604.9h0M166.8,602.2h0M133.2,582.9h0M166.0,608.0h0M155.1,597.2h0M159.9,603.5h0M176.9,578.1h0M155.4,591.9h0M149.9,594.3h0M173.8,575.1h0M178.1,591.1h0M172.8,599.5h0M154.5,577.6h0M166.7,598.6h0M162.9,605.7h0M166.5,593.0h0M145.1,594.7h0M182.1,587.8h0M172.5,599.2h0M152.3,600.7h0M168.5,603.7h0M165.4,582.9h0M155.2,598.7h0M163.0,601.7h0M154.9,579.1h0M162.3,609.5h0M165.9,579.4h0M163.9,601.8h0M155.8,602.0h0M164.8,603.7h0M158.8,607.5h0M183.7,576.1h0M156.1,599.3h0M145.2,574.2h0M170.5,581.8h0M175.1,599.5h0M152.3,600.6h0M161.8,609.5h0M167.1,578.8h0M160.9,609.4h0M162.4,608.8h0M152.1,602.9h0M165.1,601.9h0M148.9,600.0h0M162.7,609.3h0M155.9,599.7h0M168.6,602.2h0M140.3,560.8h0M157.9,600.0h0M188.6,580.8h0M160.2,608.3h0M172.6,598.7h0M163.2,605.4h0M178.7,593.5h0M145.8,602.2h0M139.0,575.8h0M140.6,593.3h0M162.0,609.1h0M162.2,608.2h0M148.8,589.3h0M162.7,602.9h0M158.7,604.2h0M173.5,591.3h0M158.4,594.3h0M174.1,560.0h0M141.2,592.7h0M157.2,604.7h0M137.8,592.3h0M165.3,606.5h0M146.8,601.3h0M149.5,583.4h0M165.6,603.7h0M149.1,585.9h0M186.2,598.1h0M163.0,597.7h0M157.5,595.0h0M170.2,591.0h0M166.0,599.6h0M160.1,607.0h0M169.1,596.5h0M166.8,603.1h0M164.8,583.2h0M160.6,607.0h0M164.3,604.5h0M156.0,595.9h0M153.7,594.7h0M162.4,605.1h0M150.8,599.7h0M164.4,607.0h0M166.4,606.0h0M153.5,578.4h0M162.4,608.1h0M162.7,607.5h0M163.8,604.0h0M152.5,584.5h0M197.4,584.9h0M171.0,595.6h0M163.9,585.4h0M156.9,604.7h0M166.4,603.6h0M166.5,598.9h0M194.6,604.9h0M166.2,597.2h0M150.2,570.1h0M151.4,597.7h0M173.7,569.1h0M162.9,605.0h0M151.8,603.7h0M173.8,589.7h0M152.6,597.2h0M163.9,590.9h0M171.9,596.5h0M165.7,600.9h0M188.3,568.4h0M165.8,592.1h0M137.9,595.5h0M162.6,608.8h0M162.2,606.9h0M158.9,608.7h0M156.4,601.2h0M168.0,595.1h0M152.1,592.9h0M161.0,605.9h0M178.0,590.3h0M170.1,586.3h0M143.6,570.0h0M157.4,606.2h0M145.5,595.0h0M169.8,602.7h0M160.6,608.6h0M172.0,586.4h0M146.8,599.2h0M158.2,600.6h0M156.0,605.2h0M157.5,605.2h0M164.2,605.1h0M152.7,599.4h0M180.0,593.8h0M167.3,598.3h0M157.5,601.3h0M172.3,602.5h0M158.6,599.9h0M149.7,600.1h0M164.9,604.8h0M162.0,609.4h0M157.1,597.4h0M162.2,604.0h0M164.0,606.8h0M163.7,608.7h0M165.9,601.8h0M158.3,599.9h0M163.5,606.6h0M166.2,596.1h0M161.5,609.7h0M157.1,597.2h0M167.0,604.1h0M161.0,609.1h0M160.2,603.8h0M160.9,608.6h0M166.6,595.8h0M162.8,599.8h0M151.9,595.8h0M151.8,605.0h0M159.9,606.7h0M155.9,566.7h0M164.8,591.6h0M177.6,571.1h0M153.9,591.4h0M151.4,593.1h0M163.1,608.6h0M190.1,594.0h0M127.2,579.9h0M160.1,604.3h0M155.2,597.2h0M168.3,600.2h0M157.7,582.6h0M150.7,593.4h0M143.7,591.1h0M159.5,607.4h0M176.5,581.8h0M162.7,603.2h0M148.9,586.8h0M164.2,606.2h0M160.8,591.6h0M174.0,597.7h0M143.5,581.4h0M163.0,606.2h0M162.9,605.9h0M181.7,575.6h0M164.8,604.2h0M154.2,599.9h0M154.6,602.4h0M156.7,608.6h0M158.5,607.2h0M163.8,605.3h0M166.7,607.0h0M163.3,606.5h0M173.5,599.2h0M147.1,585.3h0M171.7,594.3h0M178.3,586.5h0M157.5,602.8h0M166.1,605.3h0M149.6,584.3h0M168.1,605.0h0M162.3,606.7h0M174.5,599.0h0M160.6,604.7h0M161.6,609.6h0M160.3,609.0h0M157.8,601.6h0M149.3,586.4h0M164.9,590.9h0M161.6,609.8h0M156.1,593.2h0M165.6,602.5h0M153.9,597.6h0M156.8,598.5h0M162.6,609.6h0M177.2,593.0h0M167.4,601.5h0M155.1,602.6h0M159.7,608.2h0M157.3,604.2h0M158.3,608.8h0M160.4,606.3h0M161.8,609.8h0M161.1,606.8h0M173.0,591.9h0M167.3,581.9h0M149.7,596.7h0M158.0,607.0h0M188.4,567.7h0M160.4,609.1h0M162.5,607.8h0M158.8,607.9h0M186.4,565.6h0M151.3,573.1h0M172.3,579.9h0M165.0,603.1h0M155.7,593.3h0M159.2,595.8h0M159.2,604.4h0M154.0,597.6h0M141.1,596.7h0M138.9,599.7h0M175.8,587.3h0M160.9,609.6h0M142.6,604.1h0M159.6,599.0h0M161.3,608.5h0M160.6,595.4h0M162.2,609.4h0M160.5,608.6h0M167.3,602.8h0M152.2,602.5h0M158.8,592.2h0M162.0,609.2h0M161.2,608.9h0M157.5,604.7h0M160.4,605.7h0M160.8,607.6h0M169.7,598.2h0M161.6,609.8h0M160.4,605.5h0M175.5,571.9h0M162.2,609.2h0M162.6,608.3h0M183.6,563.7h0M170.2,567.7h0M165.3,600.6h0M156.4,583.6h0M152.6,591.0h0M140.5,577.5h0M173.8,578.0h0M161.7,610.0h0M162.4,605.0h0M167.4,589.7h0M160.7,608.8h0M161.6,609.5h0M163.6,606.5h0M160.2,605.7h0M162.5,608.5h0M164.2,595.0h0M188.3,560.5h0M155.0,583.8h0M158.5,605.5h0M155.8,601.2h0M158.8,596.0h0M164.0,588.9h0M165.2,607.2h0M166.0,599.1h0M160.2,608.2h0M169.9,599.7h0M159.7,603.9h0M160.6,608.4h0M148.8,584.3h0M151.2,596.8h0M163.4,606.1h0M163.7,607.2h0M155.8,602.3h0M141.9,595.1h0M160.9,608.2h0M153.6,565.2h0M167.0,587.5h0M164.9,603.7h0M165.0,589.4h0M163.1,598.4h0M146.4,595.3h0M162.1,609.4h0M174.1,589.2h0M156.3,601.5h0M162.1,607.2h0M191.5,590.2h0M156.3,584.5h0M167.2,563.9h0M158.5,604.7h0M166.0,596.1h0M161.1,608.3h0M167.7,596.5h0M159.1,605.5h0M162.7,608.0h0M183.3,584.6h0M162.4,609.4h0M152.0,604.4h0M161.1,609.5h0M156.1,605.2h0M165.9,595.7h0M148.9,569.6h0M164.5,607.8h0M151.4,600.7h0M164.3,605.6h0M165.0,605.9h0M162.3,606.2h0M166.2,603.1h0M171.2,582.2h0M165.7,602.7h0M174.0,573.7h0M146.2,566.1h0M157.5,597.6h0M159.8,600.9h0M160.8,608.7h0M166.0,592.6h0M160.2,605.1h0M160.5,608.5h0M150.5,591.2h0M167.8,582.1h0M151.9,587.0h0M163.7,606.7h0M163.9,596.6h0M171.5,589.1h0M161.3,609.0h0M149.3,598.6h0M174.4,586.3h0M180.8,593.9h0M151.8,587.6h0M160.7,609.4h0M161.7,609.9h0M166.5,607.9h0M161.6,609.8h0M167.4,600.7h0M164.8,608.1h0M174.7,602.3h0M170.1,584.6h0M182.4,587.7h0M171.5,600.3h0M164.4,607.0h0M147.2,597.3h0M162.6,607.5h0M182.2,595.2h0M170.3,597.2h0M169.1,585.0h0M142.6,574.0h0M167.4,604.0h0M157.4,601.6h0M165.6,603.0h0M155.8,592.8h0M169.8,593.8h0M155.8,591.1h0M168.7,593.5h0M161.9,609.5h0M172.8,586.8h0M191.3,590.1h0M166.9,600.4h0M173.6,578.8h0M144.4,588.1h0M164.5,591.2h0M160.0,606.5h0M183.3,560.8h0M172.2,601.7h0M135.9,596.4h0M169.0,583.0h0M159.7,601.7h0M145.2,594.3h0M160.7,607.0h0M135.5,592.4h0M156.1,587.3h0M156.5,599.1h0M175.2,576.2h0M160.6,608.3h0M167.1,597.5h0M166.1,602.3h0M161.2,608.3h0M156.0,602.8h0M161.6,609.7h0M178.8,570.4h0M178.6,577.5h0M156.9,604.1h0M113.6,564.5h0M198.8,561.8h0" fill="none" stroke="#7c7c7c" stroke-width="4.2" stroke-linecap="round" stroke-opacity="0.5"/>
<g fill="#2f6172" fill-opacity="0.68">
<circle cx="145.8" cy="486.9" r="3.0"/>
<circle cx="142.0" cy="504.7" r="3.0"/>
<circle cx="117.9" cy="506.9" r="3.0"/>
<circle cx="112.9" cy="513.8" r="3.0"/>
<circle cx="153.8" cy="513.2" r="3.0"/>
<circle cx="120.1" cy="520.9" r="3.0"/>
<circle cx="128.3" cy="523.9" r="3.0"/>
<circle cx="131.9" cy="523.9" r="3.0"/>
<circle cx="135.4" cy="523.9" r="3.0"/>
<circle cx="145.0" cy="527.5" r="3.0"/>
<circle cx="156.0" cy="527.8" r="3.0"/>
<circle cx="134.3" cy="530.0" r="3.0"/>
<circle cx="139.3" cy="530.5" r="3.0"/>
<circle cx="128.8" cy="535.4" r="3.0"/>
<circle cx="137.6" cy="537.6" r="3.0"/>
<circle cx="141.7" cy="540.1" r="3.0"/>
<circle cx="127.5" cy="541.5" r="3.0"/>
<circle cx="135.1" cy="543.1" r="3.0"/>
<circle cx="150.2" cy="541.5" r="3.0"/>
<circle cx="154.1" cy="544.2" r="3.0"/>
<circle cx="126.4" cy="546.4" r="3.0"/>
<circle cx="131.0" cy="547.8" r="3.0"/>
<circle cx="136.5" cy="549.1" r="3.0"/>
<circle cx="142.5" cy="547.2" r="3.0"/>
<circle cx="148.0" cy="548.0" r="3.0"/>
<circle cx="127.7" cy="551.9" r="3.0"/>
<circle cx="134.3" cy="553.3" r="3.0"/>
<circle cx="140.4" cy="551.9" r="3.0"/>
<circle cx="145.3" cy="555.2" r="3.0"/>
<circle cx="149.4" cy="556.3" r="3.0"/>
<circle cx="108.3" cy="557.4" r="3.0"/>
<circle cx="114.6" cy="556.0" r="3.0"/>
<circle cx="117.3" cy="556.0" r="3.0"/>
<circle cx="128.0" cy="557.9" r="3.0"/>
<circle cx="135.7" cy="558.7" r="3.0"/>
<circle cx="142.5" cy="557.9" r="3.0"/>
<circle cx="148.0" cy="559.3" r="3.0"/>
<circle cx="153.5" cy="559.6" r="3.0"/>
<circle cx="140.4" cy="538.7" r="3.0"/>
<circle cx="143.6" cy="543.1" r="3.0"/>
<circle cx="141.2" cy="549.1" r="3.0"/>
<circle cx="128.8" cy="549.1" r="3.0"/>
<circle cx="133.8" cy="546.4" r="3.0"/>
<circle cx="146.7" cy="551.9" r="3.0"/>
<circle cx="150.2" cy="557.9" r="3.0"/>
<circle cx="137.1" cy="555.2" r="3.0"/>
<circle cx="130.2" cy="555.2" r="3.0"/>
<circle cx="125.5" cy="543.1" r="3.0"/>
<circle cx="138.4" cy="535.4" r="3.0"/>
<circle cx="142.5" cy="542.3" r="3.0"/>
<circle cx="149.4" cy="549.1" r="3.0"/>
<circle cx="134.9" cy="559.6" r="3.0"/>
<circle cx="126.6" cy="552.4" r="3.0"/>
<circle cx="144.7" cy="559.0" r="3.0"/>
<circle cx="139.8" cy="545.3" r="3.0"/>
</g>
<g fill="#c96a50" fill-opacity="0.72">
<circle cx="175.4" cy="424.1" r="3.0"/>
<circle cx="203.1" cy="509.9" r="3.0"/>
<circle cx="252.7" cy="510.8" r="3.0"/>
<circle cx="185.9" cy="525.8" r="3.0"/>
<circle cx="193.5" cy="530.8" r="3.0"/>
<circle cx="210.3" cy="534.6" r="3.0"/>
<circle cx="219.3" cy="534.6" r="3.0"/>
<circle cx="225.3" cy="548.3" r="3.0"/>
<circle cx="277.7" cy="551.6" r="3.0"/>
<circle cx="173.8" cy="544.5" r="3.0"/>
<circle cx="180.6" cy="542.3" r="3.0"/>
<circle cx="190.5" cy="541.5" r="3.0"/>
<circle cx="199.6" cy="544.2" r="3.0"/>
<circle cx="170.5" cy="547.8" r="3.0"/>
<circle cx="165.6" cy="551.9" r="3.0"/>
<circle cx="183.1" cy="548.6" r="3.0"/>
<circle cx="193.5" cy="547.8" r="3.0"/>
<circle cx="202.9" cy="550.5" r="3.0"/>
<circle cx="172.1" cy="554.1" r="3.0"/>
<circle cx="164.5" cy="556.8" r="3.0"/>
<circle cx="180.9" cy="555.7" r="3.0"/>
<circle cx="188.3" cy="556.3" r="3.0"/>
<circle cx="192.7" cy="559.0" r="3.0"/>
<circle cx="169.7" cy="560.1" r="3.0"/>
<circle cx="185.3" cy="559.3" r="3.0"/>
<circle cx="180.4" cy="541.7" r="3.0"/>
<circle cx="165.3" cy="552.7" r="3.0"/>
<circle cx="175.4" cy="551.9" r="3.0"/>
</g>
<line x1="41.9" y1="414.8" x2="41.9" y2="619.4" stroke="#8a8a8a" stroke-width="0.9"/>
<line x1="41.5" y1="619.0" x2="282.3" y2="619.0" stroke="#8a8a8a" stroke-width="0.9"/>
<line x1="38.3" y1="610.0" x2="41.9" y2="610.0" stroke="#8a8a8a" stroke-width="0.9"/>
<text x="34.9" y="614.4" font-size="12.2" text-anchor="end" fill="#111">0</text>
<line x1="38.3" y1="571.5" x2="41.9" y2="571.5" stroke="#8a8a8a" stroke-width="0.9"/>
<text x="34.9" y="575.9" font-size="12.2" text-anchor="end" fill="#111">1</text>
<line x1="38.3" y1="532.9" x2="41.9" y2="532.9" stroke="#8a8a8a" stroke-width="0.9"/>
<text x="34.9" y="537.3" font-size="12.2" text-anchor="end" fill="#111">2</text>
<line x1="38.3" y1="494.4" x2="41.9" y2="494.4" stroke="#8a8a8a" stroke-width="0.9"/>
<text x="34.9" y="498.8" font-size="12.2" text-anchor="end" fill="#111">3</text>
<line x1="38.3" y1="455.8" x2="41.9" y2="455.8" stroke="#8a8a8a" stroke-width="0.9"/>
<text x="34.9" y="460.2" font-size="12.2" text-anchor="end" fill="#111">4</text>
<line x1="38.3" y1="417.3" x2="41.9" y2="417.3" stroke="#8a8a8a" stroke-width="0.9"/>
<text x="34.9" y="421.7" font-size="12.2" text-anchor="end" fill="#111">5</text>
<line x1="61.4" y1="619.0" x2="61.4" y2="622.8" stroke="#8a8a8a" stroke-width="0.9"/>
<text x="61.4" y="635.6" font-size="12.2" text-anchor="middle" fill="#111">-0.10</text>
<line x1="111.5" y1="619.0" x2="111.5" y2="622.8" stroke="#8a8a8a" stroke-width="0.9"/>
<text x="111.5" y="635.6" font-size="12.2" text-anchor="middle" fill="#111">-0.05</text>
<line x1="161.7" y1="619.0" x2="161.7" y2="622.8" stroke="#8a8a8a" stroke-width="0.9"/>
<text x="161.7" y="635.6" font-size="12.2" text-anchor="middle" fill="#111">0.00</text>
<line x1="211.8" y1="619.0" x2="211.8" y2="622.8" stroke="#8a8a8a" stroke-width="0.9"/>
<text x="211.8" y="635.6" font-size="12.2" text-anchor="middle" fill="#111">0.05</text>
<line x1="261.8" y1="619.0" x2="261.8" y2="622.8" stroke="#8a8a8a" stroke-width="0.9"/>
<text x="261.8" y="635.6" font-size="12.2" text-anchor="middle" fill="#111">0.10</text>
<text x="17.8" y="522.3" font-size="13.2" text-anchor="middle" fill="#111" transform="rotate(-90 17.8 522.3)">-Log10 (P)</text>
<text x="170.0" y="657.0" font-size="13.3" text-anchor="middle" fill="#111">Log2 (Fold Change)</text>
<text x="68.0" y="543.8" font-size="10.0" fill="#111">LYPLA1</text>
<line x1="107.5" y1="543.1" x2="127.5" y2="553.3" stroke="#777" stroke-width="0.6"/>
<text x="467.2" y="387.5" font-size="12.2" text-anchor="middle" fill="#111">Metabolomics</text>
<rect x="373.5" y="397.0" width="185.8" height="19.2" fill="#fff" stroke="#dedede" stroke-width="0.8" rx="2"/>
<circle cx="379.5" cy="406.6" r="1.9" fill="#bdbdbd"/>
<text x="389.6" y="410.6" font-size="11" fill="#111">Not sig</text>
<circle cx="436.2" cy="406.6" r="3.3" fill="#c96a50" fill-opacity="0.72"/>
<text x="445.8" y="410.6" font-size="11" fill="#111">Up (17)</text>
<circle cx="494.1" cy="406.6" r="3.3" fill="#2f6172" fill-opacity="0.68"/>
<text x="504.5" y="410.6" font-size="11" fill="#111">Down (14)</text>
<line x1="347.4" y1="522.3" x2="587.0" y2="522.3" stroke="#a6a6a6" stroke-width="1.2" stroke-dasharray="4.4 2"/>
<path d="M461.7,565.8h0M477.3,549.2h0M469.0,603.9h0M467.9,583.2h0M468.3,595.0h0M475.7,541.6h0M457.8,601.2h0M468.8,586.7h0M465.9,602.4h0M465.7,583.6h0M471.6,555.3h0M467.4,607.1h0M469.0,604.8h0M472.3,593.4h0M464.8,564.2h0M467.6,604.4h0M469.6,583.1h0M457.1,542.7h0M469.0,586.2h0M466.0,599.8h0M474.1,529.1h0M469.8,600.5h0M467.2,609.1h0M463.7,528.5h0M452.5,542.3h0M474.2,533.5h0M466.6,580.9h0M465.2,584.7h0M463.2,558.6h0M474.0,562.3h0M477.9,562.2h0M468.7,576.7h0M467.6,559.1h0M467.1,609.5h0M470.8,581.9h0M470.2,600.5h0M465.7,605.0h0M465.4,530.5h0M464.5,526.0h0M459.6,579.2h0M467.3,608.5h0M467.2,610.0h0M468.7,574.2h0M468.4,594.7h0M468.0,591.9h0M481.6,579.5h0M468.3,594.2h0M465.6,578.2h0M464.8,572.1h0M466.0,602.6h0M465.4,570.3h0M464.8,567.0h0M460.9,595.7h0M468.9,601.6h0M485.2,573.8h0M466.3,597.1h0M466.0,603.9h0M469.1,596.1h0M467.6,588.5h0M467.7,589.4h0M465.2,596.1h0M474.2,572.5h0M468.8,606.4h0M464.7,606.6h0M464.1,567.7h0M468.6,601.5h0M468.0,573.9h0M467.5,603.4h0M470.2,586.5h0M470.0,577.7h0M469.3,579.0h0M465.0,591.8h0M466.3,603.9h0M464.7,581.1h0M470.9,586.3h0M475.3,576.7h0M464.8,558.2h0M471.7,530.2h0M467.9,604.2h0M466.9,605.7h0M464.7,604.5h0M464.6,541.0h0M465.2,558.5h0M467.6,608.6h0M467.2,609.4h0M468.5,601.5h0M462.8,571.4h0M468.6,597.5h0M468.1,606.5h0M467.9,607.3h0M468.3,599.7h0M470.1,599.2h0M467.2,608.4h0M463.9,537.8h0M467.8,595.2h0M465.2,588.3h0M468.1,589.7h0M471.3,589.6h0M471.5,539.4h0M466.6,604.4h0M467.9,594.5h0M468.6,574.9h0M474.2,588.4h0M466.9,607.3h0M468.1,606.4h0M468.5,594.5h0M468.7,604.5h0M471.4,581.1h0M466.5,599.8h0M466.3,603.9h0M465.4,588.2h0M465.9,587.0h0M468.5,603.4h0M463.5,536.1h0M473.2,586.8h0M465.7,595.3h0M467.7,604.2h0M467.8,574.9h0M467.4,608.4h0M467.1,609.5h0M467.5,592.6h0M468.1,604.5h0M468.5,606.0h0M476.2,592.6h0M457.2,534.5h0M469.1,589.3h0M468.4,597.2h0M466.2,576.1h0M467.1,608.7h0M464.3,593.5h0M471.5,588.1h0M468.1,581.9h0M465.3,574.1h0M467.1,608.4h0M467.5,600.5h0M473.0,586.3h0M464.9,576.5h0M468.0,562.1h0M465.7,592.8h0M468.1,595.3h0M470.8,592.5h0M465.9,577.0h0M471.7,551.9h0M464.4,589.6h0M467.5,604.8h0M467.2,609.9h0M467.5,602.0h0M454.5,529.3h0M466.8,604.5h0M469.0,596.1h0M467.1,606.2h0M468.7,585.7h0M466.9,608.8h0M464.7,593.4h0M470.9,559.8h0M467.2,609.8h0M471.7,527.8h0M469.4,562.9h0M476.0,548.0h0M467.8,587.0h0M467.7,602.9h0M467.4,608.0h0M464.4,538.2h0M467.1,609.6h0M469.6,605.1h0M467.3,605.8h0M469.2,558.9h0M467.1,609.6h0M468.0,583.3h0M468.6,560.0h0M468.7,579.1h0M457.7,565.6h0M470.0,552.3h0M459.8,588.6h0M469.8,591.5h0M463.6,584.4h0M465.9,585.9h0M467.9,604.1h0M472.7,555.9h0M470.2,537.6h0M457.8,570.2h0M475.3,576.6h0M459.7,600.9h0M467.3,607.7h0M465.3,586.5h0M468.4,603.3h0M461.5,580.1h0M468.8,543.7h0M469.1,592.6h0M467.3,609.1h0M467.6,605.9h0M467.0,609.4h0M452.3,547.8h0M464.3,580.1h0M465.8,591.6h0M469.5,559.9h0M464.7,582.1h0M465.2,528.0h0M467.2,610.0h0M464.5,592.0h0M467.1,609.8h0M459.0,588.0h0M465.1,605.3h0M466.9,606.8h0M465.4,587.2h0M467.5,599.0h0M467.6,600.9h0M466.4,595.1h0M466.4,608.0h0M467.3,607.0h0M464.8,570.9h0M462.1,567.5h0M465.9,582.4h0M473.9,591.5h0M468.9,550.3h0M467.1,608.6h0M474.4,597.9h0M466.2,599.5h0M463.7,596.1h0M466.9,608.6h0M463.1,582.8h0M467.5,599.1h0M469.3,542.5h0M473.9,554.1h0M464.6,602.0h0M482.6,554.6h0M468.4,599.7h0M458.1,574.7h0M469.2,584.6h0M466.1,600.7h0M465.5,566.1h0M468.0,606.7h0M467.3,608.7h0M468.2,597.4h0M467.4,608.9h0M469.1,574.2h0M467.3,608.9h0M467.1,609.7h0M467.4,565.7h0M466.2,601.6h0M469.1,578.2h0M466.3,597.8h0M458.5,532.6h0M472.3,570.2h0M467.9,577.3h0M466.2,600.7h0M468.9,575.9h0M460.7,566.8h0M482.7,557.7h0M467.4,607.8h0M468.4,592.7h0M463.8,588.6h0M461.0,549.8h0M466.7,604.5h0M468.5,587.6h0M471.7,582.0h0M468.2,589.9h0M468.0,605.4h0M469.3,579.5h0M462.1,550.6h0M460.6,551.8h0M468.1,602.8h0M470.1,539.2h0M467.3,608.7h0M468.6,534.5h0M462.5,586.6h0M470.7,573.0h0M468.4,598.4h0M467.8,574.7h0M457.0,533.8h0M465.3,549.4h0M465.5,586.4h0M471.2,570.6h0M458.0,579.6h0M467.7,583.6h0M461.6,543.7h0M467.1,609.0h0M464.9,604.4h0M466.5,591.2h0M467.5,608.5h0M466.0,567.7h0M461.8,588.6h0M458.2,569.5h0M459.7,534.4h0M476.3,575.5h0M467.9,591.0h0M468.2,580.9h0M468.6,584.7h0M405.0,537.6h0M419.8,560.4h0M411.3,599.3h0M504.5,537.1h0M487.2,573.8h0M492.7,596.6h0M563.4,529.7h0M477.6,602.6h0" fill="none" stroke="#7c7c7c" stroke-width="4.3" stroke-linecap="round" stroke-opacity="0.4"/>
<path d="M462.6,568.8h0M474.4,587.3h0M468.3,604.7h0M467.8,607.4h0M468.0,604.0h0M465.0,575.8h0M456.2,589.0h0M472.8,587.3h0M461.9,596.8h0M469.2,591.8h0M469.0,563.6h0M467.7,578.3h0M458.8,583.6h0M462.3,578.2h0M465.2,567.5h0M471.9,560.2h0M468.0,605.5h0M468.3,588.0h0M464.3,586.3h0M467.7,604.9h0M467.9,605.0h0M470.5,570.5h0M468.0,600.5h0M469.2,574.2h0M466.9,605.6h0M467.5,605.2h0M468.2,599.0h0M467.9,566.5h0M469.9,567.9h0M465.0,600.1h0M471.5,563.8h0M467.1,608.8h0M465.5,600.3h0M468.7,594.1h0M473.4,554.3h0M467.8,602.3h0M466.5,601.1h0M468.8,596.9h0M477.7,586.3h0M463.5,573.9h0M466.0,595.5h0M465.6,565.7h0M469.7,563.6h0M471.1,593.5h0M466.3,602.0h0M467.4,577.8h0M466.7,602.1h0M466.9,595.4h0M467.7,591.9h0M467.3,607.9h0M468.1,584.2h0M467.5,600.5h0M476.0,568.6h0M468.2,598.5h0M466.2,568.9h0M468.4,588.4h0M466.5,594.1h0M468.0,604.7h0M466.9,604.1h0M467.4,590.5h0M469.9,577.8h0M467.8,606.2h0M467.7,607.5h0M461.9,589.2h0M471.1,553.3h0M465.2,607.1h0M464.9,605.0h0M478.2,546.8h0M466.9,604.8h0M468.1,607.5h0M469.0,582.2h0M463.7,599.4h0M474.3,598.2h0M467.3,607.8h0M467.4,597.6h0M462.4,546.6h0M468.9,582.7h0M479.1,559.9h0M466.8,605.1h0M467.4,607.3h0M463.4,575.9h0M467.7,595.2h0M466.4,601.6h0M467.3,609.2h0M477.5,554.2h0M465.0,579.8h0M470.7,584.6h0M453.6,583.7h0M468.2,604.7h0M466.5,599.1h0M470.9,532.7h0M466.7,595.7h0M466.1,601.6h0M467.3,608.8h0M467.3,609.4h0M467.6,602.9h0M455.1,535.7h0M469.5,588.0h0M467.7,607.7h0M466.7,604.8h0M468.5,605.0h0M462.4,533.0h0M465.4,587.5h0M467.6,602.8h0M467.5,605.7h0M462.6,576.8h0M466.5,573.0h0M470.8,580.2h0M463.6,593.4h0M471.5,571.7h0M470.3,597.8h0M462.6,601.9h0M467.2,609.9h0M464.3,597.1h0M465.2,581.4h0M468.6,598.4h0M461.9,534.1h0M459.0,557.9h0M460.2,578.1h0M467.6,605.0h0M460.1,572.9h0M467.1,609.8h0M467.1,609.5h0M456.6,547.7h0M467.6,607.5h0M470.7,565.9h0M458.8,563.1h0M466.2,592.2h0M468.1,604.7h0M467.2,609.7h0M467.0,602.6h0M465.9,597.6h0M472.2,557.9h0M469.7,575.9h0M477.5,529.3h0M467.9,593.6h0M467.5,600.8h0M460.2,552.0h0M465.9,592.6h0M463.8,549.7h0M466.1,601.2h0M469.4,573.2h0M472.2,575.1h0M466.8,603.3h0M468.4,582.7h0M471.6,582.9h0M461.1,569.5h0M467.4,606.5h0M467.0,608.5h0M466.5,596.9h0M466.5,604.0h0M465.9,567.8h0M463.9,579.4h0M464.0,592.3h0M460.7,580.9h0M467.1,609.8h0M457.4,586.5h0M469.4,549.3h0M467.2,609.8h0M468.7,599.7h0M466.4,603.6h0M472.4,590.1h0M465.0,576.9h0M458.3,569.9h0M457.7,589.7h0M467.4,606.3h0M470.0,550.1h0M471.9,585.7h0M467.0,606.9h0M469.3,602.7h0M466.9,604.9h0M456.7,557.6h0M467.2,609.2h0M464.8,532.0h0M467.5,607.7h0M467.2,610.0h0M466.9,606.3h0M468.9,553.7h0M463.3,566.7h0M468.3,600.6h0M468.9,607.5h0M468.0,605.2h0M469.5,600.1h0M469.7,591.7h0M469.7,572.1h0M467.7,605.2h0M467.4,608.0h0M467.9,591.7h0M474.8,561.0h0M467.3,609.1h0M470.7,573.6h0M466.4,599.5h0M465.4,586.6h0M464.9,539.8h0M463.2,546.3h0M463.7,588.8h0M472.2,594.0h0M464.9,599.0h0M467.5,608.8h0M468.5,596.1h0M465.3,591.0h0M466.8,602.1h0M471.2,587.6h0M466.6,605.4h0M470.2,591.7h0M462.9,588.3h0M470.7,602.9h0M470.4,603.3h0M477.7,526.6h0M467.0,609.6h0M472.8,588.8h0M465.8,574.3h0M468.3,578.0h0M469.5,580.2h0M469.3,535.9h0M466.4,599.4h0M468.1,606.5h0M467.7,604.0h0M465.2,582.0h0M462.8,568.2h0M462.5,566.8h0M477.7,587.7h0M468.7,608.8h0M472.4,585.0h0M466.1,581.7h0M473.6,586.9h0M467.3,604.0h0M468.5,600.7h0M466.1,601.3h0M461.7,580.0h0M467.2,610.0h0M463.4,569.2h0M468.8,602.4h0M466.5,596.9h0M473.1,582.9h0M466.1,605.5h0M467.1,607.1h0M466.9,606.6h0M468.8,591.0h0M467.2,610.0h0M463.8,589.0h0M464.9,594.3h0M463.4,527.6h0M465.3,552.0h0M462.2,599.2h0M465.1,567.7h0M463.7,579.3h0M464.1,585.4h0M473.9,557.8h0M466.1,590.6h0M476.3,575.9h0M465.7,593.6h0M468.6,602.0h0M462.2,562.4h0M461.7,587.0h0M465.7,600.3h0M468.6,603.6h0M467.5,600.5h0M468.3,581.5h0M461.7,554.5h0M460.7,532.1h0M464.3,581.5h0M463.6,581.0h0M469.1,599.0h0M470.6,590.7h0M466.9,604.6h0M466.8,604.6h0M464.8,588.0h0M469.1,601.7h0M477.4,592.0h0M467.7,608.9h0M466.5,598.7h0M468.3,589.3h0M467.4,595.9h0M467.2,609.6h0M467.4,607.9h0M466.4,603.4h0M463.8,595.4h0M467.4,600.4h0M468.4,591.5h0M466.6,604.1h0M451.1,550.5h0M467.1,608.5h0M469.3,574.0h0M461.9,585.6h0M464.9,555.2h0M472.5,527.5h0M464.5,598.3h0M416.5,545.3h0M426.6,565.6h0M442.5,584.8h0M497.9,551.9h0M482.3,587.5h0M491.1,601.8h0M472.7,527.2h0" fill="none" stroke="#7c7c7c" stroke-width="4.3" stroke-linecap="round" stroke-opacity="0.4"/>
<path d="M470.7,596.6h0M466.1,601.5h0M466.1,575.9h0M467.3,607.5h0M466.2,585.6h0M467.1,608.6h0M453.8,548.5h0M468.2,588.4h0M461.8,576.2h0M474.8,547.8h0M465.5,594.7h0M469.1,545.1h0M467.7,605.2h0M466.4,582.8h0M468.4,568.2h0M469.3,605.2h0M466.2,593.2h0M466.2,604.4h0M460.3,566.9h0M465.3,585.8h0M460.9,560.3h0M469.1,600.8h0M467.0,607.8h0M472.0,597.6h0M466.2,603.8h0M467.4,606.8h0M464.8,584.2h0M467.6,547.9h0M467.6,598.9h0M472.1,586.3h0M468.5,589.7h0M466.9,604.9h0M463.8,593.5h0M467.5,597.5h0M466.9,607.6h0M466.0,604.0h0M468.2,576.7h0M477.2,593.6h0M465.2,605.0h0M460.9,575.7h0M466.2,585.5h0M466.3,603.2h0M466.1,568.1h0M468.0,582.1h0M467.9,606.0h0M467.3,599.8h0M467.5,605.3h0M465.3,589.9h0M465.5,594.8h0M468.6,591.2h0M472.7,558.0h0M468.8,573.3h0M468.5,590.9h0M466.1,586.2h0M468.4,589.3h0M468.8,598.2h0M465.9,607.0h0M465.4,603.6h0M462.9,565.0h0M469.9,557.7h0M469.3,602.2h0M464.9,526.9h0M475.5,585.4h0M464.9,588.7h0M470.6,570.5h0M466.1,606.9h0M463.0,571.1h0M464.5,568.2h0M471.1,585.3h0M467.9,604.9h0M465.1,590.0h0M470.6,583.2h0M467.8,576.7h0M466.4,587.5h0M476.3,579.5h0M483.3,585.5h0M468.7,575.0h0M468.3,592.7h0M465.0,588.0h0M466.5,603.2h0M466.5,591.5h0M466.1,605.0h0M462.4,571.0h0M470.0,554.0h0M463.9,593.3h0M466.3,606.1h0M466.5,599.2h0M466.9,607.0h0M466.3,580.6h0M468.6,549.4h0M471.1,543.0h0M466.5,596.0h0M465.1,592.8h0M467.2,610.0h0M480.1,533.9h0M465.1,583.1h0M469.0,599.6h0M470.8,591.4h0M467.6,608.6h0M466.6,589.5h0M465.7,593.5h0M467.7,603.3h0M467.6,597.8h0M477.2,549.5h0M466.8,606.3h0M466.0,594.7h0M466.5,594.1h0M464.7,584.5h0M464.8,559.3h0M464.1,582.0h0M469.2,580.3h0M450.1,544.3h0M464.5,593.1h0M460.7,591.9h0M467.2,609.8h0M471.5,583.6h0M466.9,606.0h0M467.8,581.8h0M468.7,570.1h0M466.8,607.3h0M469.6,577.0h0M466.9,607.9h0M468.5,589.8h0M472.1,567.9h0M468.3,602.4h0M467.5,598.2h0M467.7,605.4h0M468.6,587.6h0M463.3,591.5h0M470.7,572.3h0M466.0,590.8h0M466.6,598.9h0M465.0,570.9h0M464.7,587.6h0M467.1,609.8h0M467.5,609.0h0M474.2,542.3h0M476.1,556.4h0M452.7,574.1h0M468.4,578.5h0M473.1,561.4h0M467.5,607.2h0M466.5,597.0h0M468.0,570.1h0M464.6,597.1h0M467.0,609.0h0M458.1,551.0h0M467.0,607.5h0M470.7,574.9h0M465.2,606.0h0M467.6,605.6h0M464.7,573.1h0M466.1,602.0h0M469.7,604.8h0M463.2,598.1h0M455.5,534.8h0M466.6,604.6h0M472.0,543.3h0M465.5,597.1h0M469.4,565.6h0M459.0,572.9h0M465.6,600.9h0M460.2,587.7h0M465.5,578.8h0M466.7,598.7h0M464.0,559.9h0M468.1,576.0h0M466.1,605.6h0M469.2,550.5h0M466.2,598.7h0M472.0,527.1h0M467.9,593.5h0M462.5,578.6h0M467.3,607.9h0M466.9,608.6h0M466.6,602.4h0M467.9,604.8h0M466.8,607.3h0M466.9,587.0h0M465.4,581.2h0M471.1,581.5h0M468.1,567.4h0M466.1,604.3h0M460.0,591.8h0M468.0,591.2h0M464.3,589.2h0M468.3,557.4h0M463.0,586.1h0M466.6,603.1h0M469.6,562.1h0M464.4,588.9h0M471.1,529.3h0M456.3,534.9h0M466.6,604.3h0M461.8,600.3h0M477.3,578.8h0M468.8,583.3h0M466.3,603.1h0M470.5,581.3h0M466.5,590.0h0M469.0,594.7h0M471.7,581.2h0M467.1,609.1h0M462.4,582.0h0M468.2,585.2h0M462.1,593.8h0M466.8,603.3h0M469.4,580.4h0M464.4,544.7h0M460.7,584.4h0M466.4,598.2h0M469.5,559.4h0M468.4,574.7h0M483.0,569.2h0M467.8,606.5h0M473.5,580.5h0M467.0,608.5h0M472.5,549.3h0M467.2,609.9h0M468.4,563.4h0M467.4,595.6h0M466.5,591.7h0M464.5,582.5h0M467.7,583.9h0M467.6,598.8h0M466.5,601.1h0M468.3,598.6h0M463.9,589.4h0M468.2,583.9h0M468.1,595.9h0M466.3,602.3h0M461.1,545.5h0M462.1,571.1h0M466.9,604.5h0M466.8,582.3h0M467.4,601.2h0M455.2,548.0h0M465.3,604.7h0M472.4,578.6h0M474.5,553.6h0M461.1,552.2h0M464.3,559.5h0M474.4,572.4h0M474.6,572.5h0M466.7,606.4h0M467.5,604.4h0M470.9,577.8h0M468.3,594.9h0M461.5,562.7h0M467.5,605.7h0M466.1,597.9h0M468.9,594.0h0M465.3,574.6h0M457.3,558.9h0M459.7,552.7h0M466.1,558.6h0M463.9,602.6h0M461.6,562.3h0M467.5,606.2h0M465.0,553.0h0M468.7,603.7h0M466.6,608.9h0M469.8,573.4h0M466.6,607.8h0M466.0,578.6h0M467.9,605.3h0M467.6,591.2h0M466.4,599.0h0M460.9,592.5h0M466.2,601.5h0M467.4,608.8h0M464.5,593.5h0M466.6,604.5h0M467.0,604.2h0M467.9,603.1h0M467.0,604.6h0M466.1,603.6h0M460.9,565.2h0M468.5,598.1h0M465.7,594.1h0M465.6,598.1h0M469.7,587.6h0M463.4,560.7h0M466.9,606.5h0M465.4,575.8h0M467.3,568.8h0M470.3,560.1h0M464.2,591.2h0M434.3,539.0h0M431.0,563.4h0M443.4,592.5h0M479.6,563.4h0M491.9,589.7h0M495.2,607.3h0M461.2,524.5h0" fill="none" stroke="#7c7c7c" stroke-width="4.3" stroke-linecap="round" stroke-opacity="0.4"/>
<path d="M467.4,607.1h0M467.9,606.4h0M467.2,610.0h0M469.0,589.3h0M469.7,594.0h0M471.4,585.8h0M472.7,534.5h0M462.7,593.4h0M475.6,549.7h0M460.5,566.7h0M467.6,605.6h0M462.8,563.1h0M460.2,582.0h0M456.9,549.1h0M467.1,607.0h0M465.5,539.7h0M460.9,589.2h0M467.7,575.9h0M456.8,586.3h0M468.8,594.6h0M467.3,581.2h0M466.7,599.3h0M465.7,548.4h0M466.1,576.3h0M463.7,543.8h0M462.4,545.6h0M465.9,585.6h0M465.7,592.4h0M466.9,606.7h0M463.9,590.0h0M474.7,583.1h0M469.7,591.1h0M451.4,580.8h0M468.1,583.4h0M463.2,568.0h0M474.9,530.6h0M468.2,593.3h0M467.5,604.8h0M463.2,581.9h0M469.7,599.3h0M461.8,595.1h0M465.9,601.4h0M465.4,557.7h0M468.2,593.0h0M467.3,606.2h0M467.0,600.8h0M467.0,607.8h0M460.0,587.4h0M454.3,590.7h0M467.0,607.6h0M467.4,604.2h0M474.4,570.8h0M463.1,585.9h0M477.0,564.3h0M471.6,579.9h0M464.6,567.3h0M464.7,602.0h0M470.7,561.9h0M466.8,593.2h0M466.8,597.6h0M468.1,600.8h0M469.3,596.0h0M463.5,535.5h0M470.0,539.2h0M467.5,597.3h0M467.2,609.8h0M464.8,540.0h0M467.8,598.3h0M470.5,530.3h0M465.5,590.7h0M466.3,581.3h0M469.1,580.0h0M466.7,607.4h0M464.5,597.6h0M464.9,581.2h0M467.8,606.7h0M465.3,587.7h0M467.7,601.8h0M464.0,577.4h0M470.2,562.4h0M469.2,602.5h0M466.0,595.9h0M473.5,553.4h0M457.1,545.7h0M467.2,609.9h0M454.1,595.5h0M466.2,597.9h0M469.3,576.2h0M466.2,572.2h0M471.2,597.6h0M465.5,533.7h0M465.9,553.0h0M471.6,573.1h0M462.5,563.4h0M464.6,588.2h0M466.3,604.2h0M460.8,539.9h0M466.0,600.5h0M463.8,592.6h0M468.4,583.2h0M469.1,603.6h0M469.5,592.1h0M471.6,561.2h0M468.8,601.0h0M473.8,545.0h0M472.7,593.2h0M468.0,596.0h0M462.3,579.5h0M467.0,608.4h0M470.0,580.2h0M469.6,544.9h0M472.1,585.6h0M466.1,587.2h0M466.5,576.4h0M467.2,609.9h0M465.1,592.7h0M464.6,598.5h0M459.4,573.5h0M464.1,587.3h0M463.9,578.1h0M463.7,538.0h0M473.7,582.1h0M470.5,596.8h0M465.9,593.2h0M467.2,609.5h0M467.4,591.9h0M468.2,606.5h0M458.8,583.4h0M464.1,575.7h0M471.0,576.1h0M470.2,601.4h0M463.2,582.4h0M471.2,590.6h0M465.8,557.0h0M465.4,597.4h0M452.8,559.0h0M469.6,598.3h0M467.3,607.9h0M469.8,546.2h0M466.0,586.0h0M465.8,592.8h0M469.1,573.8h0M469.0,547.9h0M484.3,534.5h0M461.7,563.2h0M470.7,585.5h0M475.4,586.1h0M469.4,570.5h0M467.8,573.0h0M468.8,593.3h0M470.0,589.3h0M463.9,590.1h0M472.0,570.2h0M470.0,575.5h0M463.6,597.0h0M463.7,601.1h0M472.6,560.0h0M466.3,565.6h0M467.1,609.1h0M468.9,603.6h0M462.1,549.5h0M465.3,575.6h0M465.8,607.2h0M468.7,579.5h0M465.8,602.5h0M467.3,607.0h0M467.2,610.0h0M468.0,598.6h0M468.0,585.4h0M475.4,592.7h0M467.0,601.4h0M466.5,606.1h0M468.0,591.2h0M460.4,580.9h0M465.6,559.9h0M469.6,585.2h0M467.5,595.6h0M468.1,590.0h0M467.9,548.1h0M468.6,593.6h0M468.7,583.6h0M463.7,579.7h0M463.8,565.6h0M465.4,592.7h0M455.2,578.6h0M470.1,535.5h0M467.4,603.9h0M469.6,575.6h0M466.7,582.7h0M467.3,607.5h0M466.2,587.5h0M470.6,594.1h0M472.5,542.7h0M476.0,532.9h0M470.2,587.9h0M466.0,577.1h0M468.4,588.6h0M464.2,571.6h0M469.7,559.0h0M465.6,551.6h0M464.6,604.2h0M467.8,603.3h0M466.6,593.2h0M470.2,528.2h0M452.5,540.4h0M460.3,593.5h0M463.7,554.1h0M470.3,575.0h0M460.5,574.8h0M469.9,561.0h0M465.3,596.2h0M473.5,553.4h0M472.7,527.6h0M468.5,601.4h0M460.5,567.0h0M469.8,597.7h0M476.6,534.8h0M465.0,604.7h0M469.8,582.5h0M466.2,583.8h0M470.0,583.3h0M463.3,577.9h0M456.7,601.5h0M468.4,589.9h0M464.6,590.1h0M465.8,592.7h0M468.9,528.2h0M470.2,573.0h0M465.9,589.4h0M467.6,590.7h0M465.1,599.2h0M465.2,595.8h0M467.6,607.2h0M465.9,596.1h0M466.4,591.8h0M469.7,599.3h0M455.1,585.5h0M468.1,594.7h0M469.8,532.5h0M461.0,545.8h0M467.3,594.7h0M468.7,598.3h0M467.3,609.2h0M468.4,578.7h0M466.1,607.2h0M461.7,532.7h0M466.7,603.6h0M468.5,582.2h0M469.0,583.6h0M465.6,580.8h0M471.6,569.6h0M465.3,580.6h0M474.0,587.9h0M466.9,605.1h0M464.7,584.0h0M466.6,608.8h0M466.0,569.0h0M470.8,575.5h0M468.5,600.3h0M466.7,605.1h0M467.0,604.4h0M469.9,569.6h0M465.3,598.3h0M469.0,598.0h0M462.6,575.5h0M466.6,605.9h0M463.5,575.1h0M470.4,547.1h0M467.5,605.7h0M465.2,602.9h0M461.4,573.2h0M465.7,603.8h0M467.4,602.7h0M463.9,562.6h0M465.8,595.4h0M466.9,608.5h0M468.3,596.8h0M463.5,580.3h0M467.1,604.1h0M463.4,571.5h0M480.1,588.9h0M466.5,603.4h0M466.5,602.5h0M468.7,597.5h0M461.5,592.0h0M471.4,558.0h0M467.2,598.2h0M470.3,588.8h0M432.9,550.8h0M436.2,572.4h0M485.0,541.5h0M493.3,571.9h0M496.8,588.1h0M538.2,574.1h0M450.8,523.1h0" fill="none" stroke="#7c7c7c" stroke-width="4.3" stroke-linecap="round" stroke-opacity="0.4"/>
<g fill="#2f6172" fill-opacity="0.68">
<circle cx="463.7" cy="453.2" r="3.0"/>
<circle cx="461.2" cy="480.9" r="3.0"/>
<circle cx="445.3" cy="488.8" r="3.0"/>
<circle cx="452.4" cy="491.3" r="3.0"/>
<circle cx="461.2" cy="495.7" r="3.0"/>
<circle cx="456.5" cy="501.4" r="3.0"/>
<circle cx="445.3" cy="503.1" r="3.0"/>
<circle cx="451.0" cy="513.8" r="3.0"/>
<circle cx="460.4" cy="513.0" r="3.0"/>
<circle cx="462.8" cy="516.0" r="3.0"/>
<circle cx="453.5" cy="518.2" r="3.0"/>
<circle cx="456.8" cy="518.2" r="3.0"/>
<circle cx="401.7" cy="522.0" r="3.0"/>
<circle cx="457.6" cy="517.6" r="3.0"/>
</g>
<g fill="#c96a50" fill-opacity="0.72">
<circle cx="475.4" cy="424.4" r="3.0"/>
<circle cx="509.7" cy="424.4" r="3.0"/>
<circle cx="474.9" cy="435.4" r="3.0"/>
<circle cx="471.9" cy="473.8" r="3.0"/>
<circle cx="474.1" cy="484.2" r="3.0"/>
<circle cx="473.0" cy="494.3" r="3.0"/>
<circle cx="479.3" cy="497.6" r="3.0"/>
<circle cx="472.7" cy="500.4" r="3.0"/>
<circle cx="472.7" cy="503.9" r="3.0"/>
<circle cx="479.6" cy="505.6" r="3.0"/>
<circle cx="471.3" cy="510.5" r="3.0"/>
<circle cx="477.9" cy="512.4" r="3.0"/>
<circle cx="475.4" cy="516.5" r="3.0"/>
<circle cx="569.2" cy="508.6" r="3.0"/>
<circle cx="472.1" cy="474.6" r="3.0"/>
<circle cx="473.0" cy="495.7" r="3.0"/>
<circle cx="471.6" cy="510.2" r="3.0"/>
</g>
<line x1="347.4" y1="414.8" x2="347.4" y2="619.4" stroke="#8a8a8a" stroke-width="0.9"/>
<line x1="347.0" y1="619.0" x2="587.0" y2="619.0" stroke="#8a8a8a" stroke-width="0.9"/>
<line x1="343.8" y1="610.0" x2="347.4" y2="610.0" stroke="#8a8a8a" stroke-width="0.9"/>
<text x="340.4" y="614.4" font-size="12.2" text-anchor="end" fill="#111">0.0</text>
<line x1="343.8" y1="576.3" x2="347.4" y2="576.3" stroke="#8a8a8a" stroke-width="0.9"/>
<text x="340.4" y="580.7" font-size="12.2" text-anchor="end" fill="#111">0.5</text>
<line x1="343.8" y1="542.6" x2="347.4" y2="542.6" stroke="#8a8a8a" stroke-width="0.9"/>
<text x="340.4" y="547.0" font-size="12.2" text-anchor="end" fill="#111">1.0</text>
<line x1="343.8" y1="508.9" x2="347.4" y2="508.9" stroke="#8a8a8a" stroke-width="0.9"/>
<text x="340.4" y="513.3" font-size="12.2" text-anchor="end" fill="#111">1.5</text>
<line x1="343.8" y1="475.2" x2="347.4" y2="475.2" stroke="#8a8a8a" stroke-width="0.9"/>
<text x="340.4" y="479.6" font-size="12.2" text-anchor="end" fill="#111">2.0</text>
<line x1="343.8" y1="441.5" x2="347.4" y2="441.5" stroke="#8a8a8a" stroke-width="0.9"/>
<text x="340.4" y="445.9" font-size="12.2" text-anchor="end" fill="#111">2.5</text>
<line x1="347.4" y1="619.0" x2="347.4" y2="622.8" stroke="#8a8a8a" stroke-width="0.9"/>
<text x="347.4" y="635.6" font-size="12.2" text-anchor="middle" fill="#111">-0.6</text>
<line x1="387.3" y1="619.0" x2="387.3" y2="622.8" stroke="#8a8a8a" stroke-width="0.9"/>
<text x="387.3" y="635.6" font-size="12.2" text-anchor="middle" fill="#111">-0.4</text>
<line x1="427.3" y1="619.0" x2="427.3" y2="622.8" stroke="#8a8a8a" stroke-width="0.9"/>
<text x="427.3" y="635.6" font-size="12.2" text-anchor="middle" fill="#111">-0.2</text>
<line x1="467.2" y1="619.0" x2="467.2" y2="622.8" stroke="#8a8a8a" stroke-width="0.9"/>
<text x="467.2" y="635.6" font-size="12.2" text-anchor="middle" fill="#111">0.0</text>
<line x1="507.1" y1="619.0" x2="507.1" y2="622.8" stroke="#8a8a8a" stroke-width="0.9"/>
<text x="507.1" y="635.6" font-size="12.2" text-anchor="middle" fill="#111">0.2</text>
<line x1="547.1" y1="619.0" x2="547.1" y2="622.8" stroke="#8a8a8a" stroke-width="0.9"/>
<text x="547.1" y="635.6" font-size="12.2" text-anchor="middle" fill="#111">0.4</text>
<line x1="587.0" y1="619.0" x2="587.0" y2="622.8" stroke="#8a8a8a" stroke-width="0.9"/>
<text x="587.0" y="635.6" font-size="12.2" text-anchor="middle" fill="#111">0.6</text>
<text x="316.2" y="522.0" font-size="13.2" text-anchor="middle" fill="#111" transform="rotate(-90 316.2 522.0)">-Log10 (P)</text>
<text x="467.2" y="657.0" font-size="13.3" text-anchor="middle" fill="#111">Log2 (Fold Change)</text>
<line x1="477.6" y1="425.2" x2="491.9" y2="430.7" stroke="#888" stroke-width="0.6"/>
<text x="495.2" y="436.2" font-size="10.3" fill="#111">PC(30:0)</text>
<line x1="450.2" y1="449.9" x2="461.7" y2="452.7" stroke="#888" stroke-width="0.6"/>
<text x="381.4" y="449.9" font-size="10.3" fill="#111">Propionic acid</text>
<line x1="490.0" y1="459.2" x2="473.2" y2="471.8" stroke="#888" stroke-width="0.6"/>
<text x="493.5" y="457.9" font-size="10.3" fill="#111">PC(28:0)</text>
<line x1="496.0" y1="469.1" x2="475.4" y2="473.5" stroke="#888" stroke-width="0.6"/>
<text x="499.0" y="471.0" font-size="10.3" fill="#111">PC(42:8)</text>
<line x1="441.2" y1="476.5" x2="459.0" y2="480.1" stroke="#888" stroke-width="0.6"/>
<text x="383.6" y="476.5" font-size="10.3" fill="#111">Stearic acid</text>
<line x1="497.9" y1="482.5" x2="476.8" y2="484.2" stroke="#888" stroke-width="0.6"/>
<text x="500.9" y="484.2" font-size="10.3" fill="#111">PC(37:5)</text>
<line x1="500.9" y1="501.2" x2="475.4" y2="509.4" stroke="#888" stroke-width="0.6"/>
<text x="505.0" y="503.9" font-size="10.3" fill="#111">PC(36:2)</text>
<line x1="434.3" y1="511.3" x2="453.5" y2="516.8" stroke="#888" stroke-width="0.6"/>
<text x="374.6" y="511.9" font-size="10.3" fill="#111">Adrenic acid</text>
<line x1="504.2" y1="514.6" x2="479.6" y2="511.9" stroke="#888" stroke-width="0.6"/>
<text x="508.3" y="517.9" font-size="10.3" fill="#111">PC(34:2)</text>
<text x="603.0" y="290.6" font-size="21.5" font-weight="bold" fill="#1a1210">e</text>
<line x1="639.5" y1="390.5" x2="1106.6" y2="390.5" stroke="#e3e6e6" stroke-width="0.9" stroke-dasharray="4 2.5"/>
<path d="M697.9,517.4V447.4M698.3,517.4V454.2M698.7,517.4V451.3M699.1,517.4V452.4M699.5,517.4V452.8M699.9,517.4V456.7M700.3,517.4V448.1M700.7,517.4V439.4M701.1,517.4V443.9M701.5,517.4V455.8M701.9,517.4V449.3M702.3,517.4V455.0M702.7,517.4V444.5M703.1,517.4V450.9M703.5,517.4V431.7M703.9,517.4V441.1M704.3,517.4V455.6M704.7,517.4V453.0M705.1,517.4V432.8M705.5,517.4V450.7M705.9,517.4V451.2M706.3,517.4V451.0M706.7,517.4V442.3M707.1,517.4V431.8M707.5,517.4V449.3M707.9,517.4V429.2M708.3,517.4V447.8M708.7,517.4V455.7M709.1,517.4V440.1M709.5,517.4V451.4M709.9,517.4V456.3M710.3,517.4V428.1M710.7,517.4V456.5M711.1,517.4V448.3M711.5,517.4V450.3M711.9,517.4V435.6M712.3,517.4V451.9M712.7,517.4V454.4M713.1,517.4V453.6M713.5,517.4V454.6M713.9,517.4V448.6M714.3,517.4V452.4M714.7,517.4V443.0M715.1,517.4V454.1M715.5,517.4V452.5M715.9,517.4V454.0M716.3,517.4V427.3M716.7,517.4V438.6M717.1,517.4V437.9M717.5,517.4V447.2M717.9,517.4V451.7M718.3,517.4V455.3M718.7,517.4V439.1M719.1,517.4V450.1M719.5,517.4V456.5M719.9,517.4V455.0M720.3,517.4V455.8M720.7,517.4V444.2M721.1,517.4V433.9M721.5,517.4V454.6M721.9,517.4V440.9M722.3,517.4V452.9M722.7,517.4V445.4M723.1,517.4V437.0M723.5,517.4V447.1M723.9,517.4V440.8M724.3,517.4V452.1M724.7,517.4V456.7M725.1,517.4V449.7M725.5,517.4V448.0M725.9,517.4V454.8M726.3,517.4V451.9M726.7,517.4V453.0M727.1,517.4V456.6M727.5,517.4V453.1M727.9,517.4V452.0M728.3,517.4V450.4M728.7,517.4V444.7M729.1,517.4V451.8M729.5,517.4V427.3M729.9,517.4V440.0M730.3,517.4V432.4M730.7,517.4V445.1M731.1,517.4V445.8M731.5,517.4V449.2M731.9,517.4V440.9M732.3,517.4V452.3M732.7,517.4V447.9M733.1,517.4V445.5M763.1,517.4V450.3M763.5,517.4V435.2M763.9,517.4V453.3M764.3,517.4V427.7M764.7,517.4V453.0M765.1,517.4V432.4M765.5,517.4V438.8M765.9,517.4V431.9M766.3,517.4V443.9M766.7,517.4V456.1M767.1,517.4V453.6M767.5,517.4V446.2M767.9,517.4V433.0M768.3,517.4V445.5M768.7,517.4V456.4M769.1,517.4V452.6M769.5,517.4V452.6M769.9,517.4V455.0M770.3,517.4V454.3M770.7,517.4V449.6M771.1,517.4V452.2M771.5,517.4V453.7M771.9,517.4V451.5M772.3,517.4V431.1M772.7,517.4V447.8M773.1,517.4V442.9M773.5,517.4V432.0M773.9,517.4V456.5M774.3,517.4V435.7M774.7,517.4V455.8M775.1,517.4V454.7M775.5,517.4V443.4M775.9,517.4V442.9M776.3,517.4V447.3M776.7,517.4V450.4M777.1,517.4V444.1M777.5,517.4V451.3M777.9,517.4V454.7M778.3,517.4V454.4M778.7,517.4V455.6M779.1,517.4V456.5M779.5,517.4V430.8M779.9,517.4V430.9M780.3,517.4V452.6M780.7,517.4V451.5M781.1,517.4V453.6M781.5,517.4V441.7M781.9,517.4V450.1M782.3,517.4V455.0M782.7,517.4V435.4M783.1,517.4V432.2M783.5,517.4V456.4M783.9,517.4V450.7M784.3,517.4V454.4M784.7,517.4V446.7M785.1,517.4V452.4M785.5,517.4V453.3M785.9,517.4V453.2M786.3,517.4V447.5M786.7,517.4V449.9M787.1,517.4V450.2M787.5,517.4V445.5M787.9,517.4V450.5M788.3,517.4V431.2M788.7,517.4V451.1M789.1,517.4V441.2M789.5,517.4V432.1M789.9,517.4V447.2M818.0,517.4V448.5M818.4,517.4V440.7M818.8,517.4V452.8M819.2,517.4V452.3M819.6,517.4V433.5M820.0,517.4V453.9M820.4,517.4V447.1M820.8,517.4V448.5M821.2,517.4V456.3M821.6,517.4V448.5M822.0,517.4V440.9M822.4,517.4V434.9M822.8,517.4V451.4M823.2,517.4V434.0M823.6,517.4V456.5M824.0,517.4V433.2M824.4,517.4V445.5M824.8,517.4V440.3M825.2,517.4V450.9M825.6,517.4V448.0M826.0,517.4V439.4M826.4,517.4V454.3M826.8,517.4V454.8M827.2,517.4V442.9M827.6,517.4V436.0M828.0,517.4V454.3M828.4,517.4V449.0M828.8,517.4V449.8M829.2,517.4V453.1M829.6,517.4V438.4M830.0,517.4V453.5M830.4,517.4V441.8M830.8,517.4V451.5M831.2,517.4V455.3M831.6,517.4V430.0M832.0,517.4V455.2M832.4,517.4V455.8M832.8,517.4V456.5M833.2,517.4V452.5M833.6,517.4V456.6M834.0,517.4V455.2M834.4,517.4V431.5M834.8,517.4V453.9M835.2,517.4V444.3M835.6,517.4V454.4M836.0,517.4V456.7M836.4,517.4V456.8M836.8,517.4V455.5M837.2,517.4V430.7M837.6,517.4V450.8M838.0,517.4V454.0M838.4,517.4V456.4M838.8,517.4V446.6M839.2,517.4V453.1M839.6,517.4V454.9M840.0,517.4V451.1M840.4,517.4V444.5M840.8,517.4V452.7M841.2,517.4V448.6M865.8,517.4V451.1M866.2,517.4V450.6M866.6,517.4V456.1M867.0,517.4V455.1M867.4,517.4V449.6M867.8,517.4V432.1M868.2,517.4V431.7M868.6,517.4V451.8M869.0,517.4V449.7M869.4,517.4V454.4M869.8,517.4V438.9M870.2,517.4V455.4M870.6,517.4V453.2M871.0,517.4V454.7M871.4,517.4V443.4M871.8,517.4V436.7M872.2,517.4V451.0M872.6,517.4V452.8M873.0,517.4V432.7M873.4,517.4V455.8M873.8,517.4V442.4M874.2,517.4V453.0M874.6,517.4V433.1M875.0,517.4V453.9M875.4,517.4V436.4M875.8,517.4V437.8M876.2,517.4V453.1M876.6,517.4V454.6M877.0,517.4V446.9M877.4,517.4V456.1M877.8,517.4V448.3M878.2,517.4V453.2M878.6,517.4V445.9M879.0,517.4V455.7M879.4,517.4V445.2M879.8,517.4V453.7M880.2,517.4V448.3M880.6,517.4V444.1M881.0,517.4V455.0M881.4,517.4V452.9M881.8,517.4V444.4M882.2,517.4V445.2M882.6,517.4V434.7M883.0,517.4V456.5M883.4,517.4V451.9M883.8,517.4V452.6M884.2,517.4V435.3M884.6,517.4V449.9M885.0,517.4V452.9M885.4,517.4V455.1M885.8,517.4V451.0M886.2,517.4V452.7M886.6,517.4V456.6M887.0,517.4V446.9M887.4,517.4V434.9M908.7,517.4V449.1M909.1,517.4V449.7M909.5,517.4V453.4M909.9,517.4V428.8M910.3,517.4V456.4M910.7,517.4V448.5M911.1,517.4V453.2M911.5,517.4V440.7M911.9,517.4V429.5M912.3,517.4V448.1M912.7,517.4V444.1M913.1,517.4V454.5M913.5,517.4V425.5M913.9,517.4V450.9M914.3,517.4V436.4M914.7,517.4V456.6M915.1,517.4V452.8M915.5,517.4V444.9M915.9,517.4V455.0M916.3,517.4V456.7M916.7,517.4V452.9M917.1,517.4V445.0M917.5,517.4V437.1M917.9,517.4V454.8M918.3,517.4V447.9M918.7,517.4V436.6M919.1,517.4V442.5M919.5,517.4V446.7M919.9,517.4V450.1M920.3,517.4V454.3M920.7,517.4V453.6M921.1,517.4V448.6M921.5,517.4V453.2M921.9,517.4V444.8M922.3,517.4V454.0M922.7,517.4V447.1M923.1,517.4V454.5M923.5,517.4V445.3M923.9,517.4V435.3M924.3,517.4V434.7M924.7,517.4V451.4M925.1,517.4V432.3M925.5,517.4V455.3M925.9,517.4V451.9M926.3,517.4V453.5M926.7,517.4V451.9M927.1,517.4V456.3M927.5,517.4V452.4M927.9,517.4V447.8M928.3,517.4V443.0M949.3,517.4V448.2M949.7,517.4V449.0M950.1,517.4V447.4M950.5,517.4V456.3M950.9,517.4V447.3M951.3,517.4V455.8M951.7,517.4V436.6M952.1,517.4V455.7M952.5,517.4V453.6M952.9,517.4V443.2M953.3,517.4V455.2M953.7,517.4V454.7M954.1,517.4V450.1M954.5,517.4V431.7M954.9,517.4V428.4M955.3,517.4V455.9M955.7,517.4V456.7M956.1,517.4V455.0M956.5,517.4V441.0M956.9,517.4V446.4M957.3,517.4V438.7M957.7,517.4V449.8M958.1,517.4V451.3M958.5,517.4V439.1M958.9,517.4V452.2M959.3,517.4V439.7M959.7,517.4V448.2M960.1,517.4V455.7M960.5,517.4V456.6M960.9,517.4V450.3M961.3,517.4V452.8M961.7,517.4V427.0M962.1,517.4V456.3M962.5,517.4V450.3M962.9,517.4V443.1M963.3,517.4V453.1M963.7,517.4V445.5M964.1,517.4V452.0M964.5,517.4V454.4M964.9,517.4V456.1M965.3,517.4V448.0M965.7,517.4V445.7M966.1,517.4V448.8M966.5,517.4V452.7M966.9,517.4V455.8M967.3,517.4V454.9M967.7,517.4V436.6M968.1,517.4V452.1M968.5,517.4V447.6M968.9,517.4V455.0M969.3,517.4V454.1M969.7,517.4V456.1M970.1,517.4V425.4M970.5,517.4V453.8M989.7,517.4V453.4M990.1,517.4V453.9M990.5,517.4V446.3M990.9,517.4V448.5M991.3,517.4V456.5M991.7,517.4V456.0M992.1,517.4V455.7M992.5,517.4V452.6M992.9,517.4V456.6M993.3,517.4V442.9M993.7,517.4V446.6M994.1,517.4V448.6M994.5,517.4V453.8M994.9,517.4V455.1M995.3,517.4V431.8M995.7,517.4V450.8M996.1,517.4V453.3M996.5,517.4V450.7M996.9,517.4V449.0M997.3,517.4V434.5M997.7,517.4V449.4M998.1,517.4V453.8M998.5,517.4V456.0M998.9,517.4V436.8M999.3,517.4V440.3M999.7,517.4V444.7M1000.1,517.4V454.4M1000.5,517.4V435.1M1000.9,517.4V450.1M1001.3,517.4V444.8M1001.7,517.4V456.5M1002.1,517.4V449.7M1002.5,517.4V441.5M1002.9,517.4V440.4M1003.3,517.4V441.0M1018.2,517.4V455.0M1018.6,517.4V424.2M1019.0,517.4V442.7M1019.4,517.4V446.3M1019.8,517.4V451.1M1020.2,517.4V446.8M1020.6,517.4V432.2M1021.0,517.4V450.8M1021.4,517.4V449.5M1021.8,517.4V452.7M1022.2,517.4V436.8M1022.6,517.4V450.8M1024.2,517.4V451.3M1024.6,517.4V454.2M1025.0,517.4V430.0M1025.4,517.4V428.4M1025.8,517.4V442.6M1026.2,517.4V451.5M1026.6,517.4V454.7M1027.0,517.4V456.3M1027.4,517.4V455.2M1027.8,517.4V447.1M1028.2,517.4V446.7M1028.6,517.4V433.3M1029.0,517.4V454.3M1029.4,517.4V432.7M1029.8,517.4V432.6M1030.2,517.4V440.7M1030.6,517.4V446.1M1031.0,517.4V453.8M1031.4,517.4V450.4M1044.9,517.4V452.6M1045.3,517.4V428.1M1045.7,517.4V444.7M1046.1,517.4V451.2M1046.5,517.4V454.6M1046.9,517.4V444.5M1047.3,517.4V440.9M1047.7,517.4V449.8M1048.1,517.4V455.2M1048.5,517.4V451.1M1048.9,517.4V446.3M1049.3,517.4V434.8M1049.7,517.4V448.5M1050.1,517.4V448.2M1050.5,517.4V447.9M1050.9,517.4V442.2M1051.3,517.4V450.5M1051.7,517.4V456.4M1052.1,517.4V456.1M1052.5,517.4V453.6M1052.9,517.4V444.6M1053.3,517.4V447.5M1053.7,517.4V431.8M1054.1,517.4V430.7M1054.5,517.4V453.2M1054.9,517.4V438.4M1055.3,517.4V445.9M1055.7,517.4V439.5M1056.1,517.4V443.0M1056.5,517.4V449.4M1067.0,517.4V446.6M1067.4,517.4V453.3M1067.8,517.4V446.8M1068.2,517.4V447.3M1068.6,517.4V448.2M1069.0,517.4V451.4M1069.4,517.4V456.1M1069.8,517.4V430.4M1070.2,517.4V456.4M1070.6,517.4V455.2M1071.0,517.4V451.6M1071.4,517.4V432.1M1071.8,517.4V449.1M1072.2,517.4V452.8M1072.6,517.4V456.0M1073.0,517.4V454.2M1073.4,517.4V446.9M1073.8,517.4V425.5M1074.2,517.4V430.4M1074.6,517.4V432.6M1075.0,517.4V430.3M1075.4,517.4V453.6M1075.8,517.4V456.1M1076.2,517.4V446.0M1076.6,517.4V456.7M1077.0,517.4V449.7M1086.7,517.4V459.6M1087.1,517.4V456.3M1087.5,517.4V454.1M1087.9,517.4V449.0M1088.3,517.4V452.4M1088.7,517.4V460.0M1089.1,517.4V451.1M1089.5,517.4V456.4M1089.9,517.4V444.7M1090.3,517.4V454.4M1090.7,517.4V434.8M1091.1,517.4V434.1M1091.5,517.4V451.0M1091.9,517.4V453.8M1092.3,517.4V455.6M1092.7,517.4V457.1" fill="none" stroke="#a9c9cc" stroke-width="0.9"/>
<path d="M660.8,517.4V447.1M661.2,517.4V443.3M661.6,517.4V441.0M662.0,517.4V431.4M662.4,517.4V443.4M662.8,517.4V432.5M663.2,517.4V456.5M663.6,517.4V450.6M664.0,517.4V431.4M664.4,517.4V446.4M664.8,517.4V433.8M665.2,517.4V455.6M665.6,517.4V450.5M666.0,517.4V454.0M666.4,517.4V449.0M666.8,517.4V448.3M667.2,517.4V456.7M667.6,517.4V454.4M668.0,517.4V453.6M668.4,517.4V432.7M668.8,517.4V442.4M669.2,517.4V455.1M669.6,517.4V440.9M670.0,517.4V455.3M670.4,517.4V447.3M670.8,517.4V455.5M671.2,517.4V456.8M671.6,517.4V436.4M672.0,517.4V454.5M672.4,517.4V454.4M672.8,517.4V427.3M673.2,517.4V436.3M673.6,517.4V453.4M674.0,517.4V430.0M674.4,517.4V449.1M674.8,517.4V445.6M675.2,517.4V454.6M675.6,517.4V431.5M676.0,517.4V445.1M676.4,517.4V429.5M676.8,517.4V434.5M677.2,517.4V453.3M677.6,517.4V452.4M678.0,517.4V455.0M678.4,517.4V455.3M678.8,517.4V456.2M679.2,517.4V453.3M679.6,517.4V447.6M680.0,517.4V456.8M682.4,517.4V445.5M682.8,517.4V452.7M683.2,517.4V453.1M683.6,517.4V439.8M684.0,517.4V450.3M684.4,517.4V453.1M684.8,517.4V450.3M685.2,517.4V444.7M685.6,517.4V456.3M686.0,517.4V428.5M686.4,517.4V456.6M686.8,517.4V443.0M687.2,517.4V438.3M687.6,517.4V456.7M688.0,517.4V441.4M688.4,517.4V452.3M688.8,517.4V448.2M689.2,517.4V456.7M689.6,517.4V456.4M690.0,517.4V454.8M690.4,517.4V430.6M690.8,517.4V454.7M691.2,517.4V442.8M691.6,517.4V432.1M692.0,517.4V431.5M692.4,517.4V452.6M692.8,517.4V452.5M693.2,517.4V449.4M693.6,517.4V441.9M694.0,517.4V455.7M694.4,517.4V443.1M694.8,517.4V440.9M695.2,517.4V437.3M695.6,517.4V456.5M696.0,517.4V431.2M696.4,517.4V455.9M696.8,517.4V452.7M697.2,517.4V447.4M733.9,517.4V442.5M734.3,517.4V436.4M734.7,517.4V432.7M735.1,517.4V441.1M735.5,517.4V451.5M735.9,517.4V446.1M736.3,517.4V446.1M736.7,517.4V435.5M737.1,517.4V444.4M737.5,517.4V451.0M737.9,517.4V454.7M738.3,517.4V452.9M738.7,517.4V454.0M739.1,517.4V445.4M739.5,517.4V442.2M739.9,517.4V454.7M740.3,517.4V449.2M740.7,517.4V438.6M741.1,517.4V452.3M741.5,517.4V455.8M741.9,517.4V447.6M742.3,517.4V452.4M742.7,517.4V455.3M743.1,517.4V453.5M743.5,517.4V456.8M743.9,517.4V455.2M744.3,517.4V451.3M744.7,517.4V455.7M745.1,517.4V456.8M745.5,517.4V448.9M745.9,517.4V430.4M746.3,517.4V438.9M746.7,517.4V452.9M747.1,517.4V432.4M747.5,517.4V456.0M747.9,517.4V455.2M748.3,517.4V456.8M748.7,517.4V456.2M749.1,517.4V447.7M749.5,517.4V442.7M749.9,517.4V450.4M750.3,517.4V440.6M750.7,517.4V450.9M751.1,517.4V432.6M751.5,517.4V447.5M751.9,517.4V449.2M752.3,517.4V455.0M752.7,517.4V451.3M753.1,517.4V451.1M753.5,517.4V439.6M753.9,517.4V454.2M754.3,517.4V453.4M754.7,517.4V439.9M755.1,517.4V456.1M755.5,517.4V449.2M755.9,517.4V454.4M756.3,517.4V445.9M756.7,517.4V447.8M757.1,517.4V455.9M757.5,517.4V443.8M757.9,517.4V451.6M758.3,517.4V453.0M758.7,517.4V437.5M759.1,517.4V441.8M759.5,517.4V453.1M759.9,517.4V445.6M760.3,517.4V455.5M760.7,517.4V449.5M761.1,517.4V456.0M761.5,517.4V446.6M761.9,517.4V432.8M762.3,517.4V446.8M790.8,517.4V434.9M791.2,517.4V431.6M791.6,517.4V456.1M792.0,517.4V447.1M792.4,517.4V452.1M792.8,517.4V450.6M793.2,517.4V448.9M793.6,517.4V437.3M794.0,517.4V446.9M794.4,517.4V435.0M794.8,517.4V454.0M795.2,517.4V441.0M795.6,517.4V451.9M796.0,517.4V454.8M796.4,517.4V440.6M796.8,517.4V448.3M797.2,517.4V454.3M797.6,517.4V434.5M798.0,517.4V450.1M798.4,517.4V445.7M798.8,517.4V426.6M799.2,517.4V452.9M799.6,517.4V449.0M800.0,517.4V449.0M800.4,517.4V453.5M800.8,517.4V449.2M801.2,517.4V429.6M801.6,517.4V444.9M802.0,517.4V453.8M802.4,517.4V445.4M802.8,517.4V447.3M803.2,517.4V452.3M803.6,517.4V445.8M804.0,517.4V452.1M804.4,517.4V441.7M804.8,517.4V451.9M805.2,517.4V439.5M805.6,517.4V453.3M806.0,517.4V455.0M806.4,517.4V452.9M806.8,517.4V455.5M807.2,517.4V436.1M807.6,517.4V422.4M808.0,517.4V451.5M808.4,517.4V454.1M808.8,517.4V435.5M809.2,517.4V437.9M809.6,517.4V454.0M810.0,517.4V453.2M810.4,517.4V450.0M810.8,517.4V455.4M811.2,517.4V454.5M811.6,517.4V451.8M812.0,517.4V455.6M812.4,517.4V455.3M812.8,517.4V447.6M813.2,517.4V453.3M813.6,517.4V432.8M814.0,517.4V430.0M814.4,517.4V445.8M814.8,517.4V453.6M815.2,517.4V442.6M815.6,517.4V452.7M816.0,517.4V436.5M816.4,517.4V451.3M816.8,517.4V445.1M817.2,517.4V443.0M842.1,517.4V427.6M842.5,517.4V430.8M842.9,517.4V455.3M843.3,517.4V449.3M843.7,517.4V444.8M844.1,517.4V454.8M844.5,517.4V434.8M844.9,517.4V442.9M845.3,517.4V455.6M845.7,517.4V453.3M846.1,517.4V445.5M846.5,517.4V435.6M846.9,517.4V419.4M847.3,517.4V453.6M847.7,517.4V438.8M848.1,517.4V448.0M848.5,517.4V452.4M848.9,517.4V454.1M849.3,517.4V455.7M849.7,517.4V456.5M850.1,517.4V451.2M850.5,517.4V455.6M850.9,517.4V454.6M851.3,517.4V453.0M851.7,517.4V455.4M852.1,517.4V454.6M852.5,517.4V453.9M852.9,517.4V428.5M853.3,517.4V451.3M853.7,517.4V447.3M854.1,517.4V449.1M854.5,517.4V430.2M854.9,517.4V439.4M855.3,517.4V432.3M855.7,517.4V436.4M856.1,517.4V443.5M856.5,517.4V436.0M856.9,517.4V452.8M857.3,517.4V447.5M857.7,517.4V452.8M858.1,517.4V432.3M858.5,517.4V453.7M858.9,517.4V412.9M859.3,517.4V454.2M859.7,517.4V452.7M860.1,517.4V443.3M860.5,517.4V448.4M860.9,517.4V454.4M861.3,517.4V455.5M861.7,517.4V436.0M862.1,517.4V454.5M862.5,517.4V449.7M862.9,517.4V438.7M863.3,517.4V450.2M863.7,517.4V450.4M864.1,517.4V455.1M864.5,517.4V431.8M864.9,517.4V447.7M888.0,517.4V446.9M888.4,517.4V428.6M888.8,517.4V456.3M889.2,517.4V448.9M889.6,517.4V429.1M890.0,517.4V453.8M890.4,517.4V456.6M890.8,517.4V432.0M891.2,517.4V447.5M891.6,517.4V431.8M892.0,517.4V456.0M892.4,517.4V439.1M892.8,517.4V448.1M893.2,517.4V436.8M893.6,517.4V453.1M894.0,517.4V456.6M894.4,517.4V446.8M894.8,517.4V452.7M897.2,517.4V455.1M897.6,517.4V455.2M898.0,517.4V455.9M898.4,517.4V447.5M898.8,517.4V441.9M899.2,517.4V455.9M899.6,517.4V454.7M900.0,517.4V439.6M900.4,517.4V454.0M900.8,517.4V448.0M901.2,517.4V454.8M901.6,517.4V439.9M902.0,517.4V448.1M902.4,517.4V455.9M902.8,517.4V452.7M903.2,517.4V445.8M903.6,517.4V454.1M904.0,517.4V455.4M904.4,517.4V451.8M904.8,517.4V456.6M905.2,517.4V456.2M905.6,517.4V455.6M906.0,517.4V453.3M906.4,517.4V440.0M906.8,517.4V434.5M907.2,517.4V451.8M907.6,517.4V443.4M908.0,517.4V439.5M929.1,517.4V450.4M929.5,517.4V450.3M929.9,517.4V455.6M930.3,517.4V447.7M930.7,517.4V443.1M931.1,517.4V435.1M931.5,517.4V439.7M931.9,517.4V440.5M932.3,517.4V454.7M932.7,517.4V432.5M933.1,517.4V455.9M933.5,517.4V454.1M933.9,517.4V449.0M934.3,517.4V444.4M934.7,517.4V446.7M935.1,517.4V447.3M935.5,517.4V444.4M935.9,517.4V451.7M936.3,517.4V456.4M936.7,517.4V453.5M937.1,517.4V448.2M937.5,517.4V444.2M937.9,517.4V451.7M938.3,517.4V448.9M938.7,517.4V437.8M939.1,517.4V447.3M939.5,517.4V450.3M939.9,517.4V451.7M940.3,517.4V455.8M940.7,517.4V452.2M941.1,517.4V428.6M941.5,517.4V449.8M941.9,517.4V450.7M942.3,517.4V446.1M942.7,517.4V454.3M943.1,517.4V451.0M943.5,517.4V454.0M943.9,517.4V449.4M944.3,517.4V449.8M944.7,517.4V441.0M945.1,517.4V442.7M945.5,517.4V452.4M945.9,517.4V425.3M946.3,517.4V448.5M946.7,517.4V451.9M947.1,517.4V455.1M947.5,517.4V456.7M947.9,517.4V452.5M948.3,517.4V447.4M948.7,517.4V453.7M972.5,517.4V448.3M972.9,517.4V444.6M973.3,517.4V442.9M973.7,517.4V424.8M974.1,517.4V446.8M974.5,517.4V455.2M974.9,517.4V410.1M975.3,517.4V445.3M975.7,517.4V451.8M976.1,517.4V434.1M976.5,517.4V434.6M976.9,517.4V451.9M977.3,517.4V451.4M977.7,517.4V455.1M978.1,517.4V431.0M978.5,517.4V444.7M978.9,517.4V446.2M979.3,517.4V454.4M979.7,517.4V443.2M980.1,517.4V431.2M980.5,517.4V436.8M980.9,517.4V450.7M981.3,517.4V455.9M981.7,517.4V446.5M982.1,517.4V456.3M982.5,517.4V451.3M982.9,517.4V451.5M983.3,517.4V432.0M983.7,517.4V443.1M984.1,517.4V455.5M984.5,517.4V449.0M984.9,517.4V446.4M985.3,517.4V454.0M985.7,517.4V448.1M986.1,517.4V456.3M986.5,517.4V443.7M986.9,517.4V447.9M1006.1,517.4V449.2M1006.5,517.4V456.3M1006.9,517.4V426.1M1007.3,517.4V456.3M1007.7,517.4V456.8M1008.1,517.4V454.0M1008.5,517.4V444.9M1008.9,517.4V443.3M1009.3,517.4V455.6M1009.7,517.4V453.3M1010.1,517.4V449.7M1010.5,517.4V432.3M1010.9,517.4V454.4M1011.3,517.4V455.1M1011.7,517.4V452.8M1012.1,517.4V455.0M1012.5,517.4V431.2M1012.9,517.4V432.5M1013.3,517.4V456.6M1013.7,517.4V445.9M1014.1,517.4V452.4M1014.5,517.4V455.6M1014.9,517.4V438.7M1015.3,517.4V453.5M1015.7,517.4V456.7M1016.1,517.4V454.0M1016.5,517.4V440.4M1016.9,517.4V455.0M1017.3,517.4V422.3M1032.3,517.4V437.7M1032.7,517.4V444.4M1033.1,517.4V433.8M1033.5,517.4V455.2M1033.9,517.4V437.9M1034.3,517.4V456.5M1034.7,517.4V430.1M1035.1,517.4V454.2M1035.5,517.4V455.3M1035.9,517.4V450.0M1036.3,517.4V446.4M1036.7,517.4V438.1M1037.1,517.4V449.8M1037.5,517.4V434.1M1037.9,517.4V454.0M1038.3,517.4V456.5M1038.7,517.4V453.4M1039.1,517.4V454.3M1039.5,517.4V448.5M1039.9,517.4V432.9M1040.3,517.4V439.4M1040.7,517.4V448.3M1041.1,517.4V456.1M1041.5,517.4V447.7M1041.9,517.4V444.7M1042.3,517.4V444.2M1042.7,517.4V456.5M1043.1,517.4V454.4M1043.5,517.4V448.6M1043.9,517.4V448.0M1044.3,517.4V431.4M1057.4,517.4V442.0M1057.8,517.4V449.3M1058.2,517.4V445.4M1058.6,517.4V427.5M1059.0,517.4V449.6M1059.4,517.4V429.7M1059.8,517.4V454.7M1060.2,517.4V445.4M1060.6,517.4V444.5M1061.0,517.4V456.6M1061.4,517.4V443.5M1061.8,517.4V451.5M1062.2,517.4V448.5M1062.6,517.4V446.6M1063.0,517.4V441.0M1063.4,517.4V456.4M1063.8,517.4V450.6M1064.2,517.4V432.0M1064.6,517.4V447.2M1065.0,517.4V450.9M1065.4,517.4V452.2M1065.8,517.4V453.0M1066.2,517.4V456.1M1078.7,517.4V458.8M1079.1,517.4V453.4M1079.5,517.4V433.4M1079.9,517.4V451.5M1080.3,517.4V453.6M1080.7,517.4V458.4M1081.1,517.4V457.0M1081.5,517.4V459.0M1081.9,517.4V455.4M1082.3,517.4V453.1M1082.7,517.4V458.7M1083.1,517.4V460.5M1083.5,517.4V451.6M1083.9,517.4V452.8M1084.3,517.4V455.6" fill="none" stroke="#2d5565" stroke-width="0.9"/>
<path d="M698.8,457.7h0M698.4,456.1h0M698.9,452.9h0M698.4,449.8h0M699.1,447.8h0M699.0,444.6h0M702.1,455.4h0M701.9,451.9h0M701.6,450.1h0M702.0,447.4h0M703.4,454.6h0M703.6,452.6h0M703.5,449.7h0M703.3,446.8h0M705.5,455.2h0M705.1,452.8h0M705.5,449.2h0M705.3,447.1h0M707.6,456.8h0M707.1,453.1h0M707.3,451.2h0M707.0,448.7h0M707.4,447.1h0M707.5,445.5h0M707.9,455.9h0M708.0,453.6h0M708.0,451.4h0M707.2,448.3h0M707.8,444.6h0M707.8,456.6h0M708.4,453.5h0M708.1,451.4h0M708.1,448.8h0M707.8,446.0h0M709.2,455.4h0M709.1,453.9h0M709.3,451.3h0M709.0,449.0h0M709.2,445.4h0M709.4,456.6h0M709.3,455.2h0M709.6,452.9h0M709.5,450.3h0M709.4,446.5h0M711.6,455.6h0M712.2,454.1h0M711.9,451.7h0M712.1,448.2h0M711.4,445.9h0M712.7,454.2h0M712.9,452.2h0M712.6,449.6h0M713.0,448.0h0M712.6,446.2h0M713.8,456.6h0M713.4,454.0h0M713.7,452.1h0M713.9,449.3h0M714.2,446.2h0M714.8,455.6h0M714.7,453.1h0M714.6,451.6h0M714.9,450.2h0M714.4,448.1h0M717.8,456.8h0M718.0,455.1h0M717.9,452.6h0M717.7,449.4h0M717.8,445.8h0M718.2,457.8h0M718.3,454.6h0M718.4,453.2h0M717.9,449.8h0M718.4,448.3h0M718.6,445.5h0M719.8,454.4h0M719.9,452.7h0M719.7,451.2h0M719.3,449.7h0M719.7,446.1h0M720.2,454.8h0M720.2,452.8h0M720.3,450.7h0M719.9,448.1h0M720.2,455.6h0M720.2,453.9h0M720.2,451.4h0M720.1,448.6h0M720.4,445.0h0M722.5,455.4h0M723.0,452.0h0M722.9,450.0h0M722.9,447.7h0M723.5,456.7h0M723.4,453.3h0M723.8,450.5h0M723.4,448.2h0M723.2,445.2h0M723.7,455.0h0M723.6,451.4h0M723.7,449.0h0M724.0,447.1h0M723.8,445.0h0M724.0,454.5h0M724.4,450.8h0M724.3,448.7h0M724.0,447.0h0M724.5,445.5h0M725.3,456.9h0M725.2,454.4h0M725.3,451.2h0M725.3,449.3h0M725.3,446.2h0M726.6,457.4h0M726.8,454.3h0M726.7,452.3h0M726.9,450.1h0M726.7,448.4h0M726.4,445.2h0M728.2,458.0h0M728.0,454.3h0M728.6,451.3h0M728.4,448.9h0M727.9,446.7h0M729.7,457.8h0M729.9,456.2h0M730.3,454.3h0M729.8,452.4h0M729.8,449.0h0M729.7,446.0h0M731.3,455.4h0M731.5,453.9h0M732.0,452.2h0M731.9,450.7h0M731.6,449.1h0M731.2,446.6h0M731.6,455.0h0M731.6,452.2h0M732.1,449.1h0M731.6,447.7h0M732.9,454.3h0M732.4,452.5h0M732.4,450.1h0M732.7,448.7h0M732.7,446.2h0M763.8,455.3h0M763.8,453.4h0M764.0,452.0h0M763.8,449.0h0M764.0,447.6h0M763.8,446.2h0M764.8,455.7h0M764.8,452.5h0M764.8,450.5h0M764.5,447.6h0M764.3,445.6h0M764.8,456.6h0M765.2,453.3h0M765.3,449.6h0M765.3,447.0h0M766.1,454.9h0M766.1,451.7h0M765.8,450.0h0M766.1,446.8h0M767.0,455.7h0M766.1,452.4h0M766.3,450.5h0M766.4,447.3h0M767.3,455.7h0M767.0,452.1h0M767.0,449.1h0M767.0,446.2h0M768.6,456.1h0M768.5,452.7h0M768.8,449.5h0M768.2,446.5h0M768.8,445.1h0M769.5,456.7h0M769.3,452.9h0M769.5,450.7h0M769.7,447.7h0M769.7,446.2h0M773.0,457.4h0M773.2,456.0h0M772.8,454.6h0M773.0,452.0h0M772.6,450.5h0M772.8,448.4h0M772.5,445.6h0M773.2,454.8h0M773.5,453.4h0M773.1,450.0h0M773.2,446.9h0M773.6,455.2h0M774.0,452.1h0M773.7,450.1h0M773.7,448.2h0M773.4,445.5h0M776.7,456.7h0M776.2,455.1h0M777.0,452.8h0M776.8,449.4h0M776.4,447.6h0M776.5,445.2h0M777.1,456.0h0M776.9,453.9h0M777.0,452.3h0M777.2,449.9h0M777.0,447.9h0M776.9,444.6h0M779.8,455.9h0M779.3,453.9h0M779.1,450.4h0M779.2,447.3h0M779.3,445.3h0M781.6,455.3h0M781.4,451.5h0M781.4,448.2h0M782.2,455.1h0M782.2,452.2h0M782.3,450.6h0M781.8,447.1h0M783.5,456.4h0M783.8,452.8h0M783.8,450.3h0M783.4,448.8h0M783.3,446.9h0M783.5,445.0h0M784.7,456.4h0M784.3,454.3h0M784.3,452.1h0M784.4,449.8h0M784.2,448.3h0M784.1,444.7h0M785.1,456.1h0M784.5,454.2h0M785.1,451.3h0M784.9,449.1h0M785.2,446.4h0M785.6,455.8h0M785.5,453.9h0M785.9,450.2h0M785.9,448.2h0M785.5,445.7h0M786.4,455.0h0M786.5,451.2h0M786.7,448.9h0M786.0,445.1h0M786.6,455.3h0M787.4,453.6h0M787.2,449.9h0M787.1,447.0h0M788.5,455.6h0M788.2,454.0h0M788.6,452.3h0M788.2,448.7h0M788.6,447.0h0M790.2,456.1h0M789.7,453.8h0M789.9,451.3h0M789.9,447.5h0M818.8,457.8h0M818.2,455.1h0M818.1,452.5h0M818.6,449.7h0M818.2,446.6h0M819.3,457.8h0M818.9,454.6h0M818.7,453.0h0M818.8,450.9h0M818.8,449.4h0M819.3,446.1h0M818.8,444.6h0M820.2,455.0h0M820.1,452.3h0M821.0,448.5h0M820.1,445.2h0M820.9,454.2h0M821.3,450.8h0M820.9,448.7h0M820.9,447.3h0M821.5,445.7h0M822.7,457.9h0M822.6,455.9h0M822.9,452.6h0M822.4,450.3h0M822.4,447.1h0M822.9,455.6h0M823.1,454.1h0M822.9,451.6h0M822.7,449.6h0M823.0,447.8h0M826.7,457.2h0M826.8,455.8h0M826.8,452.0h0M826.7,448.6h0M826.8,445.8h0M828.4,455.3h0M828.2,453.4h0M828.2,451.3h0M828.0,448.5h0M827.9,445.3h0M828.2,456.1h0M828.6,454.2h0M828.3,450.6h0M828.5,447.4h0M828.9,445.9h0M829.2,455.0h0M828.9,451.2h0M829.0,448.7h0M831.4,456.2h0M831.4,452.5h0M831.2,451.0h0M831.3,449.2h0M831.4,447.0h0M831.5,444.6h0M834.5,455.3h0M834.3,451.5h0M833.9,447.8h0M834.6,455.5h0M834.6,452.9h0M834.6,450.3h0M834.7,448.5h0M834.2,446.8h0M835.9,454.7h0M835.5,451.5h0M835.5,448.9h0M835.8,447.4h0M836.0,445.1h0M836.3,457.0h0M837.0,453.4h0M836.9,451.8h0M836.9,449.3h0M836.3,446.4h0M837.1,454.9h0M837.3,452.1h0M837.2,449.8h0M836.9,447.1h0M837.5,455.6h0M837.6,453.6h0M837.1,450.7h0M837.4,449.0h0M837.5,446.1h0M839.1,456.0h0M839.7,454.2h0M839.2,450.4h0M838.7,448.8h0M839.0,445.0h0M866.4,454.6h0M866.8,450.9h0M866.3,449.1h0M866.2,446.9h0M866.7,454.2h0M867.1,451.8h0M867.3,448.6h0M866.9,445.0h0M867.6,457.2h0M867.2,454.4h0M867.4,451.1h0M867.2,447.6h0M868.1,455.2h0M868.2,452.2h0M867.6,449.3h0M867.8,447.2h0M868.9,456.7h0M869.1,453.4h0M869.2,450.6h0M868.9,447.3h0M869.1,445.6h0M869.3,457.1h0M869.3,454.7h0M869.1,452.8h0M869.5,449.6h0M869.1,447.1h0M869.8,455.3h0M870.2,452.6h0M869.6,451.0h0M870.3,447.6h0M875.7,455.0h0M875.3,451.4h0M876.1,449.4h0M875.3,446.0h0M875.9,457.6h0M875.9,454.3h0M875.9,451.2h0M876.3,447.9h0M876.0,445.4h0M876.3,455.3h0M876.3,452.1h0M876.5,449.8h0M876.3,448.1h0M876.2,445.2h0M877.3,456.5h0M877.4,454.7h0M877.0,451.1h0M877.2,448.7h0M877.2,445.0h0M877.4,454.6h0M877.5,451.2h0M878.0,449.8h0M877.9,447.3h0M877.8,444.9h0M879.3,457.0h0M878.9,454.7h0M878.7,451.1h0M879.1,449.1h0M879.1,446.2h0M880.1,456.8h0M879.7,454.4h0M879.7,451.2h0M880.1,447.5h0M880.2,445.8h0M880.6,454.2h0M880.3,452.3h0M880.5,448.9h0M880.6,446.4h0M882.6,457.0h0M882.7,454.4h0M882.5,453.1h0M882.5,449.4h0M882.9,446.8h0M883.6,457.9h0M883.1,455.8h0M883.2,452.0h0M882.9,449.9h0M883.4,446.8h0M883.9,454.2h0M883.8,451.2h0M883.8,448.2h0M884.6,457.9h0M884.2,456.4h0M884.7,453.6h0M884.9,449.9h0M884.2,447.2h0M885.7,457.3h0M885.9,454.7h0M885.6,452.2h0M885.9,450.1h0M886.3,448.3h0M885.9,446.3h0M909.5,455.4h0M909.5,452.2h0M909.2,449.0h0M909.3,446.4h0M910.8,456.0h0M910.8,452.6h0M910.7,448.9h0M910.6,446.5h0M912.7,455.2h0M912.9,451.6h0M912.3,448.5h0M912.4,446.9h0M914.2,455.6h0M914.5,454.0h0M914.8,451.4h0M914.6,447.8h0M914.7,445.6h0M915.9,456.5h0M915.8,453.5h0M915.7,450.9h0M916.0,449.1h0M915.9,447.5h0M915.7,445.5h0M916.0,456.4h0M916.2,454.6h0M916.0,451.2h0M916.2,448.6h0M916.7,447.1h0M916.2,444.9h0M919.3,457.8h0M919.5,454.7h0M918.9,452.8h0M919.8,449.1h0M919.1,446.9h0M922.1,457.8h0M922.2,454.9h0M921.9,453.2h0M921.8,451.8h0M922.0,449.1h0M921.7,446.0h0M922.8,454.6h0M922.8,452.7h0M922.8,449.4h0M923.1,447.9h0M922.8,445.7h0M925.3,454.7h0M925.4,452.2h0M925.2,450.7h0M925.3,446.9h0M925.4,445.0h0M927.4,456.9h0M927.4,453.1h0M927.4,450.6h0M927.4,448.0h0M926.9,445.1h0M949.6,456.3h0M949.9,452.5h0M949.9,450.2h0M949.9,447.3h0M950.8,454.3h0M950.8,451.4h0M950.4,449.9h0M950.8,447.0h0M952.4,457.6h0M951.9,455.3h0M952.0,452.3h0M951.9,449.7h0M952.1,446.7h0M955.5,455.8h0M955.4,454.2h0M955.3,450.8h0M955.6,448.0h0M955.7,445.6h0M956.8,457.5h0M956.8,454.9h0M957.1,451.2h0M957.1,448.3h0M956.7,446.4h0M958.0,454.6h0M957.7,452.6h0M957.8,451.2h0M958.0,447.9h0M957.8,445.3h0M958.1,456.7h0M958.3,454.4h0M958.6,451.8h0M958.5,448.8h0M958.1,447.4h0M961.5,456.8h0M962.3,455.3h0M962.1,452.7h0M961.9,451.3h0M961.5,448.4h0M961.9,446.0h0M964.2,454.7h0M964.1,452.4h0M964.2,450.6h0M963.7,447.4h0M964.9,454.9h0M964.6,453.5h0M965.0,451.1h0M965.3,449.4h0M965.0,447.0h0M966.5,454.4h0M966.4,452.4h0M966.4,450.2h0M966.4,448.4h0M966.2,446.5h0M969.5,457.4h0M969.0,454.1h0M969.6,451.7h0M969.0,448.3h0M969.3,445.0h0M969.6,456.9h0M969.6,454.6h0M969.8,452.0h0M969.6,448.5h0M969.8,445.1h0M989.9,454.5h0M989.6,450.9h0M989.8,449.5h0M989.6,447.7h0M989.6,445.3h0M990.6,454.5h0M990.4,452.4h0M991.1,449.4h0M990.6,447.7h0M991.9,457.7h0M991.5,454.3h0M992.4,451.4h0M991.8,449.5h0M991.7,448.0h0M991.8,445.7h0M992.1,454.2h0M992.8,451.2h0M992.8,448.8h0M992.6,446.9h0M995.6,454.3h0M995.2,451.2h0M995.2,449.2h0M995.5,445.7h0M997.8,457.3h0M997.1,455.5h0M997.5,453.3h0M997.2,451.7h0M997.5,448.3h0M998.5,457.2h0M998.5,455.5h0M998.1,453.5h0M998.7,450.0h0M998.1,446.5h0M998.6,454.2h0M999.0,450.4h0M999.2,447.1h0M999.2,445.6h0M1000.3,454.7h0M1000.2,452.7h0M1000.1,449.4h0M1000.1,446.6h0M1002.4,455.6h0M1002.3,452.0h0M1002.4,448.9h0M1002.5,445.7h0M1019.1,454.8h0M1019.2,451.4h0M1019.1,448.5h0M1019.3,447.1h0M1019.3,445.2h0M1019.9,454.2h0M1019.9,452.4h0M1019.7,449.7h0M1020.1,446.3h0M1020.4,454.9h0M1020.4,452.7h0M1019.8,449.2h0M1020.1,446.3h0M1026.8,456.4h0M1027.4,453.5h0M1026.9,451.9h0M1027.2,448.4h0M1027.5,446.3h0M1028.8,456.0h0M1029.2,454.0h0M1029.0,452.4h0M1029.2,450.9h0M1029.1,447.2h0M1029.4,444.7h0M1029.9,456.5h0M1029.3,455.0h0M1030.3,452.2h0M1030.2,448.8h0M1031.1,455.3h0M1031.1,451.6h0M1031.2,449.0h0M1031.5,446.6h0M1046.3,457.4h0M1045.8,455.8h0M1045.7,454.5h0M1046.3,452.1h0M1046.3,448.4h0M1046.0,445.7h0M1046.5,454.7h0M1046.7,453.1h0M1046.9,449.5h0M1046.3,448.0h0M1048.2,454.4h0M1048.3,451.5h0M1048.7,449.8h0M1048.3,447.4h0M1049.7,455.5h0M1049.1,454.1h0M1049.8,451.9h0M1049.6,448.3h0M1049.7,446.5h0M1052.2,456.9h0M1052.2,454.8h0M1052.0,453.1h0M1052.1,450.2h0M1052.2,448.7h0M1052.3,445.3h0M1053.3,454.9h0M1053.2,453.4h0M1053.4,451.0h0M1053.5,448.7h0M1053.1,445.4h0M1055.6,455.4h0M1055.5,452.3h0M1055.6,448.9h0M1055.3,445.7h0M1056.7,456.3h0M1056.2,454.3h0M1056.3,452.6h0M1056.3,451.1h0M1056.0,449.5h0M1056.3,447.2h0M1068.1,457.1h0M1068.3,454.3h0M1068.1,452.2h0M1067.8,449.8h0M1067.8,448.4h0M1068.1,446.6h0M1070.1,457.2h0M1069.8,453.6h0M1070.0,449.9h0M1069.9,447.3h0M1070.7,456.8h0M1071.3,454.5h0M1070.9,452.8h0M1070.9,449.0h0M1070.8,446.9h0M1071.3,444.6h0M1072.1,457.1h0M1071.9,454.7h0M1072.1,453.0h0M1071.8,451.6h0M1071.9,449.3h0M1072.1,446.3h0M1073.2,457.4h0M1073.0,454.4h0M1073.0,450.8h0M1073.0,448.9h0M1072.4,446.0h0M1075.3,456.6h0M1074.8,453.5h0M1075.1,450.9h0M1074.8,449.2h0M1074.9,447.6h0M1075.3,455.3h0M1075.2,453.9h0M1075.1,451.0h0M1075.1,447.6h0M1086.8,455.2h0M1087.1,451.9h0M1086.9,449.5h0M1087.1,446.7h0M1087.5,456.2h0M1087.2,452.7h0M1089.2,458.0h0M1088.7,455.6h0M1089.0,452.1h0M1089.3,456.4h0M1089.0,453.7h0M1089.9,455.8h0M1089.8,453.6h0M1089.7,452.2h0M1090.1,450.1h0M1089.8,446.4h0M1090.2,454.8h0M1089.7,453.0h0M1090.0,450.2h0M1090.1,446.8h0M1091.3,456.8h0M1091.2,455.4h0M1091.1,451.6h0M1091.2,449.0h0" fill="none" stroke="#a9c9cc" stroke-width="1.3" stroke-linecap="round"/>
<path d="M701.8,443.7h0M701.9,441.0h0M701.9,438.7h0M701.6,436.9h0M701.5,433.3h0M703.4,443.5h0M705.7,443.4h0M705.5,441.6h0M705.4,438.8h0M705.4,436.0h0M705.5,433.2h0M707.3,443.8h0M707.3,440.6h0M707.6,437.4h0M707.0,434.3h0M707.8,443.1h0M708.0,443.9h0M708.6,441.3h0M709.2,444.1h0M709.3,442.0h0M709.2,438.3h0M709.1,436.9h0M709.4,434.5h0M711.9,442.1h0M711.4,440.4h0M712.7,443.9h0M712.8,440.4h0M712.6,439.0h0M712.9,435.6h0M712.6,433.9h0M713.6,444.5h0M714.0,443.1h0M714.8,444.5h0M714.4,442.2h0M717.5,443.7h0M717.8,442.0h0M717.6,439.8h0M717.9,437.9h0M718.0,435.5h0M717.9,433.3h0M719.8,444.5h0M720.0,442.6h0M720.1,440.6h0M719.9,439.0h0M720.5,442.4h0M722.8,444.2h0M723.1,441.2h0M723.1,442.9h0M723.3,440.7h0M723.3,437.6h0M723.3,435.2h0M723.2,443.4h0M723.7,439.7h0M724.0,437.2h0M723.9,435.6h0M724.1,443.1h0M725.2,442.4h0M725.4,440.7h0M726.8,442.3h0M726.9,439.7h0M726.2,437.7h0M726.7,435.5h0M726.5,433.1h0M727.9,443.6h0M728.2,440.7h0M728.3,437.4h0M728.4,436.0h0M729.9,444.1h0M729.9,441.2h0M729.9,438.4h0M729.7,435.9h0M729.9,433.8h0M731.7,444.1h0M732.0,444.1h0M731.9,442.6h0M732.1,440.4h0M732.0,438.9h0M732.1,437.0h0M731.9,434.9h0M763.7,443.8h0M764.2,440.7h0M763.7,438.8h0M764.0,435.0h0M764.8,443.4h0M764.5,440.9h0M764.4,438.2h0M764.4,436.6h0M764.3,435.0h0M765.1,444.1h0M765.4,441.4h0M767.3,443.1h0M767.3,440.8h0M768.9,442.4h0M768.2,440.6h0M769.5,444.4h0M769.2,440.6h0M769.6,438.4h0M769.2,436.5h0M770.1,434.7h0M772.8,442.8h0M772.5,439.9h0M773.4,443.6h0M773.1,440.5h0M773.3,438.3h0M773.2,434.6h0M777.4,440.9h0M777.0,437.3h0M779.1,442.9h0M779.5,441.5h0M781.8,444.5h0M781.5,441.8h0M781.6,438.8h0M782.5,436.3h0M784.2,441.9h0M784.7,444.3h0M784.9,441.4h0M785.7,443.9h0M785.8,440.2h0M787.0,443.2h0M788.5,444.5h0M788.4,442.0h0M789.7,444.5h0M818.5,443.5h0M818.3,441.7h0M818.5,439.8h0M819.5,442.6h0M819.3,441.0h0M818.7,438.6h0M819.0,435.5h0M820.6,441.6h0M820.8,439.0h0M820.8,437.4h0M820.4,435.2h0M821.1,443.3h0M821.2,440.0h0M821.3,437.8h0M822.3,443.8h0M822.4,441.1h0M827.7,441.5h0M828.1,439.4h0M831.4,442.3h0M831.1,438.6h0M831.4,435.1h0M834.5,444.0h0M834.4,442.4h0M834.0,443.9h0M834.1,440.1h0M834.6,436.5h0M834.5,434.8h0M835.8,442.6h0M835.5,439.5h0M835.8,436.1h0M835.6,433.3h0M836.4,442.8h0M836.7,441.1h0M837.0,444.5h0M837.3,442.9h0M836.8,441.4h0M837.6,444.3h0M837.5,442.6h0M837.5,438.9h0M838.9,442.3h0M866.7,443.6h0M867.9,444.3h0M867.4,442.8h0M867.7,440.9h0M867.5,437.4h0M868.4,443.7h0M867.9,441.3h0M867.8,439.3h0M868.0,436.3h0M868.0,434.8h0M868.1,433.1h0M868.9,443.8h0M869.5,440.0h0M869.2,436.1h0M868.6,434.6h0M869.4,444.2h0M875.4,442.2h0M875.2,440.6h0M875.9,437.5h0M875.8,434.1h0M876.2,441.8h0M876.4,441.9h0M876.7,438.5h0M876.5,435.6h0M877.4,443.6h0M877.2,441.3h0M877.0,439.8h0M877.4,438.1h0M877.5,442.4h0M880.8,442.7h0M880.5,441.3h0M880.2,438.8h0M880.7,436.5h0M883.0,444.5h0M882.6,441.8h0M882.4,439.1h0M882.6,437.6h0M882.8,435.1h0M882.9,444.4h0M883.8,444.5h0M883.8,440.7h0M883.7,437.5h0M883.6,435.1h0M886.0,442.9h0M885.7,440.8h0M886.1,439.0h0M909.7,443.3h0M909.2,441.9h0M908.8,440.4h0M908.9,436.7h0M909.6,434.4h0M911.7,443.6h0M912.1,441.8h0M912.2,439.6h0M912.7,436.3h0M912.1,433.2h0M915.7,443.7h0M916.3,442.0h0M918.7,443.9h0M919.5,441.5h0M919.1,438.5h0M919.3,434.9h0M919.3,433.4h0M922.1,443.2h0M921.9,440.4h0M922.0,438.4h0M922.1,435.4h0M923.0,443.6h0M923.0,441.7h0M922.5,440.3h0M923.0,437.0h0M923.0,434.3h0M927.2,442.6h0M927.2,439.2h0M927.0,437.6h0M927.2,435.5h0M950.4,444.2h0M950.9,441.0h0M950.4,439.1h0M950.8,435.3h0M950.7,433.2h0M955.8,442.7h0M956.6,443.0h0M956.5,439.4h0M956.8,437.7h0M956.4,436.4h0M956.6,433.6h0M957.9,443.6h0M962.0,444.0h0M965.3,443.7h0M965.5,441.2h0M965.3,437.7h0M965.4,434.9h0M966.3,443.1h0M966.3,441.7h0M966.2,438.4h0M969.7,443.1h0M969.7,440.0h0M989.6,443.4h0M989.5,440.0h0M989.6,436.8h0M989.9,433.8h0M990.8,444.6h0M990.7,441.5h0M990.7,438.9h0M992.5,443.3h0M995.9,442.6h0M995.7,440.3h0M999.9,444.1h0M1002.4,444.1h0M1002.4,442.2h0M1002.5,440.8h0M1001.8,437.1h0M1002.3,435.1h0M1019.3,442.9h0M1027.2,442.9h0M1027.3,440.4h0M1027.6,438.2h0M1027.6,434.5h0M1029.1,442.1h0M1029.2,439.8h0M1029.5,437.6h0M1029.4,435.0h0M1029.4,433.6h0M1031.3,443.0h0M1045.8,443.0h0M1045.9,440.9h0M1045.7,439.1h0M1046.1,437.5h0M1045.9,433.9h0M1048.4,444.5h0M1048.3,441.1h0M1049.7,443.9h0M1049.2,440.6h0M1052.5,442.5h0M1052.0,438.7h0M1052.2,436.2h0M1053.0,441.8h0M1053.4,439.4h0M1053.2,437.8h0M1053.2,435.8h0M1056.2,442.5h0M1055.8,441.0h0M1070.2,444.5h0M1070.5,442.9h0M1070.8,440.5h0M1071.1,438.7h0M1070.4,436.6h0M1071.9,443.3h0M1072.1,440.0h0M1072.5,438.3h0M1072.0,436.4h0M1073.3,442.5h0M1072.9,439.1h0M1073.1,435.9h0M704.4,440.9h0M713.8,441.0h0M713.9,439.6h0M720.9,436.5h0M720.7,433.5h0M716.6,434.4h0M720.4,439.1h0M727.2,437.2h0M729.5,433.4h0M728.4,439.8h0M731.7,443.2h0M729.6,439.1h0M709.9,434.2h0M764.7,440.0h0M766.2,434.0h0M768.1,442.9h0M771.0,433.7h0M775.8,441.1h0M782.3,434.1h0M786.6,438.9h0M779.0,434.5h0M781.4,442.7h0M821.5,436.5h0M821.6,434.0h0M819.5,434.7h0M827.0,433.4h0M827.1,437.0h0M826.7,436.0h0M833.0,437.4h0M834.1,444.0h0M839.8,435.9h0M839.8,434.4h0M840.2,436.7h0M838.9,436.2h0M838.4,433.7h0M824.3,433.9h0M824.5,438.6h0M869.8,435.8h0M871.8,434.0h0M879.0,438.3h0M886.5,435.4h0M913.7,437.0h0M918.6,436.7h0M919.7,435.9h0M923.6,441.3h0M923.6,443.5h0M926.4,440.2h0M927.4,444.0h0M959.3,438.9h0M960.5,438.5h0M962.9,436.1h0M968.3,434.2h0M968.7,433.3h0M965.4,437.8h0M997.6,436.3h0M1019.8,437.9h0M1019.7,440.0h0M1026.1,440.0h0M1028.2,434.3h0M1050.2,435.7h0M1052.9,434.6h0M1068.8,439.1h0M1074.8,441.3h0M1076.8,437.6h0M1086.8,440.7h0M1085.9,443.6h0M1086.4,442.1h0M1089.2,436.9h0M1089.4,437.6h0M1088.5,442.4h0M1088.6,442.2h0M1091.6,437.5h0M1090.8,436.6h0" fill="none" stroke="#a9c9cc" stroke-width="1.7" stroke-linecap="round"/>
<path d="M701.8,430.4h0M702.0,427.3h0M705.3,430.2h0M705.1,428.7h0M707.7,430.6h0M707.3,426.9h0M707.5,425.3h0M707.4,423.4h0M713.1,432.0h0M712.4,430.5h0M712.5,428.7h0M712.7,425.5h0M712.7,423.3h0M718.1,431.6h0M717.9,429.6h0M717.9,426.3h0M717.7,422.9h0M724.3,432.9h0M724.0,430.2h0M723.7,427.8h0M724.0,424.0h0M726.7,430.7h0M764.4,431.3h0M764.9,428.4h0M769.9,431.1h0M769.4,429.1h0M769.9,425.9h0M769.5,424.0h0M773.3,430.8h0M781.4,432.4h0M781.8,428.7h0M781.7,426.5h0M781.5,423.1h0M820.5,432.2h0M820.8,428.9h0M820.5,425.1h0M831.8,432.1h0M831.6,428.7h0M831.6,425.9h0M834.8,431.6h0M835.6,430.7h0M835.7,428.9h0M835.8,427.0h0M835.3,424.7h0M867.6,431.0h0M867.9,428.7h0M869.2,430.9h0M869.2,428.2h0M868.8,425.0h0M868.9,423.5h0M875.5,430.6h0M875.3,427.8h0M875.7,425.2h0M875.3,422.8h0M909.2,431.9h0M909.2,430.0h0M909.3,427.0h0M909.4,425.0h0M912.3,430.8h0M912.2,429.2h0M919.6,431.4h0M919.2,429.1h0M919.0,426.3h0M923.0,432.4h0M923.0,429.9h0M922.8,427.2h0M922.8,424.7h0M927.7,432.0h0M927.2,428.9h0M927.2,427.5h0M927.1,426.0h0M927.4,422.1h0M950.7,431.7h0M950.8,429.2h0M956.8,431.4h0M956.4,429.8h0M956.7,426.5h0M964.9,431.5h0M965.2,428.0h0M965.4,425.5h0M989.6,432.1h0M989.6,430.6h0M1002.2,431.9h0M1001.6,429.7h0M1002.2,426.5h0M1027.3,431.5h0M1026.9,429.2h0M1027.2,426.7h0M1027.2,423.3h0M1029.2,430.5h0M1029.2,427.9h0M1045.9,431.8h0M1045.8,430.2h0M1052.3,432.5h0M1072.8,432.8h0M703.3,423.5h0M702.6,430.6h0M705.4,424.3h0M706.3,433.0h0M706.2,429.3h0M712.6,423.5h0M714.1,428.5h0M712.2,430.5h0M713.1,427.0h0M717.4,429.5h0M717.7,422.8h0M720.3,427.2h0M727.2,428.3h0M727.4,429.7h0M728.0,424.6h0M731.9,422.7h0M708.7,425.4h0M708.8,432.4h0M709.7,427.0h0M708.5,429.9h0M766.0,425.4h0M772.7,422.0h0M770.9,429.1h0M775.8,425.4h0M774.8,427.8h0M777.3,430.9h0M782.6,431.2h0M789.0,421.9h0M788.3,431.9h0M779.8,427.3h0M779.5,431.6h0M821.2,424.0h0M819.8,431.4h0M820.0,422.9h0M825.8,425.0h0M833.1,423.5h0M834.0,431.8h0M833.0,427.4h0M839.8,425.2h0M839.7,428.8h0M841.2,424.6h0M839.4,423.7h0M837.6,429.2h0M837.1,424.4h0M839.1,429.6h0M824.6,425.0h0M869.0,432.3h0M874.5,430.2h0M874.1,431.9h0M878.6,425.4h0M876.8,426.8h0M877.2,426.5h0M885.3,427.3h0M886.2,431.0h0M882.9,428.1h0M881.9,432.0h0M882.1,426.4h0M914.6,428.2h0M913.7,431.7h0M919.3,425.4h0M920.4,430.1h0M924.0,424.6h0M923.5,432.3h0M927.2,429.2h0M951.9,429.6h0M951.5,428.9h0M953.8,424.9h0M956.3,430.6h0M957.2,428.0h0M960.4,427.1h0M958.6,426.3h0M960.8,430.7h0M962.7,425.6h0M964.3,424.0h0M964.4,432.1h0M967.7,431.6h0M965.2,427.8h0M991.5,421.9h0M991.9,428.7h0M994.2,430.8h0M993.4,424.3h0M995.4,423.1h0M995.2,430.4h0M999.5,429.3h0M996.3,422.9h0M1000.9,427.9h0M1002.8,423.5h0M1002.8,426.7h0M1020.4,429.2h0M1024.8,427.3h0M1024.0,432.3h0M1027.2,422.8h0M1048.9,427.1h0M1047.1,430.0h0M1054.3,429.5h0M1073.2,423.7h0M1072.8,424.8h0M1076.8,425.0h0M1091.1,432.3h0" fill="none" stroke="#a9c9cc" stroke-width="2.0" stroke-linecap="round"/>
<path d="M707.1,421.1h0M712.5,420.6h0M712.6,416.8h0M717.7,420.0h0M718.1,418.0h0M718.1,416.0h0M781.6,421.5h0M868.8,420.3h0M875.6,419.7h0M875.2,417.4h0M875.4,414.4h0M927.2,420.6h0M927.2,418.8h0M1027.0,420.5h0M1027.1,417.3h0M1027.0,414.0h0M705.8,420.0h0M718.5,421.6h0M727.6,421.2h0M726.8,421.4h0M727.1,415.0h0M729.0,415.5h0M730.7,413.2h0M728.2,413.1h0M731.6,417.7h0M731.9,420.8h0M771.1,413.9h0M771.4,418.6h0M782.9,414.7h0M782.3,414.1h0M786.2,413.9h0M784.9,421.2h0M788.9,413.9h0M788.7,420.0h0M821.0,416.2h0M819.7,413.9h0M819.9,421.3h0M827.2,421.6h0M840.0,414.6h0M839.2,420.2h0M823.6,421.6h0M869.5,419.7h0M869.6,420.0h0M872.6,421.6h0M885.9,420.4h0M882.5,419.7h0M914.1,418.9h0M952.9,413.9h0M954.8,414.8h0M958.4,414.4h0M960.7,420.9h0M961.4,419.0h0M962.0,418.8h0M963.1,410.7h0M963.3,416.7h0M967.5,417.7h0M965.5,412.0h0M965.1,421.0h0M990.4,410.2h0M990.8,421.5h0M991.8,414.8h0M996.0,414.5h0M994.8,412.2h0M998.3,413.9h0M1001.3,416.9h0M1003.0,421.6h0M1030.2,414.9h0M1030.9,415.4h0M1029.7,421.5h0M1027.9,421.6h0M1047.7,421.6h0M1050.9,415.1h0M1051.0,415.0h0M1050.6,419.8h0M1054.4,413.9h0M1054.9,420.5h0M1069.4,417.7h0M1070.4,420.1h0M1071.5,414.0h0M1072.8,420.6h0M1074.2,417.8h0M1074.5,419.2h0M1076.1,421.6h0" fill="none" stroke="#a9c9cc" stroke-width="2.3" stroke-linecap="round"/>
<path d="M703.5,400.5h0M703.2,403.2h0M704.1,406.1h0M703.3,404.5h0M704.0,405.2h0M705.9,403.6h0M705.4,406.5h0M727.2,407.6h0M726.7,395.0h0M726.4,397.7h0M727.5,405.5h0M727.0,402.9h0M727.2,406.4h0M728.8,397.8h0M730.6,402.4h0M728.7,403.8h0M782.6,398.6h0M786.5,403.6h0M786.2,409.4h0M821.3,406.2h0M821.0,406.8h0M839.4,397.4h0M839.3,398.5h0M838.3,402.4h0M885.3,410.1h0M955.6,406.9h0M958.8,398.6h0M958.3,409.9h0M960.3,404.2h0M961.5,406.2h0M961.8,408.3h0M963.1,398.6h0M991.5,399.8h0M992.4,402.6h0M992.2,409.6h0M993.0,397.5h0M992.6,398.8h0M995.1,398.6h0M994.3,407.4h0M1001.1,404.3h0M1001.2,405.6h0M1029.9,402.4h0M1030.2,407.7h0M1050.5,404.3h0M1072.2,410.1h0M1074.2,406.2h0" fill="none" stroke="#a9c9cc" stroke-width="2.5" stroke-linecap="round"/>
<path d="M727.2,388.6h0M726.7,394.5h0M726.7,391.5h0M839.7,393.1h0M840.3,390.9h0M839.7,381.3h0M840.2,394.6h0M955.6,387.8h0M955.5,391.6h0M956.3,391.6h0M963.5,392.8h0M963.1,394.3h0M991.2,384.4h0M991.6,386.8h0M991.6,389.5h0M993.2,394.7h0" fill="none" stroke="#a9c9cc" stroke-width="2.7" stroke-linecap="round"/>
<path d="M839.8,378.6h0" fill="none" stroke="#a9c9cc" stroke-width="3.1" stroke-linecap="round"/>
<path d="M661.7,454.4h0M661.9,452.3h0M662.0,450.5h0M662.0,447.5h0M663.0,457.1h0M663.1,454.3h0M662.7,451.9h0M663.0,450.4h0M662.9,447.8h0M664.4,457.6h0M664.4,455.2h0M664.5,453.1h0M664.6,450.6h0M664.2,446.8h0M664.8,456.9h0M665.0,453.7h0M664.7,450.4h0M664.8,447.1h0M665.3,456.9h0M665.7,454.4h0M665.3,452.3h0M665.4,448.6h0M665.4,447.2h0M667.4,456.6h0M666.8,453.6h0M667.4,449.8h0M667.1,447.2h0M667.4,445.4h0M669.0,455.2h0M668.9,452.8h0M669.0,449.8h0M669.2,446.9h0M668.7,445.5h0M670.1,454.5h0M669.9,453.2h0M670.1,450.8h0M670.1,449.2h0M669.9,447.8h0M670.3,444.9h0M671.3,454.9h0M671.3,452.5h0M670.9,450.2h0M670.9,448.5h0M671.0,444.8h0M671.6,456.1h0M671.5,453.7h0M672.3,451.1h0M671.6,449.1h0M671.8,446.2h0M672.8,456.6h0M672.5,455.2h0M672.3,453.2h0M672.9,449.6h0M673.2,446.9h0M675.1,456.5h0M675.4,453.0h0M675.6,449.6h0M675.6,448.1h0M675.1,445.7h0M675.8,456.1h0M676.5,453.9h0M676.5,450.6h0M676.3,449.0h0M676.7,445.7h0M682.7,457.8h0M682.7,454.4h0M683.0,450.6h0M682.8,447.5h0M683.1,455.8h0M683.1,452.6h0M683.0,450.2h0M682.8,448.1h0M683.6,455.3h0M683.6,453.6h0M683.6,450.0h0M683.7,447.3h0M684.3,456.0h0M684.4,454.3h0M684.6,451.2h0M684.3,449.4h0M684.1,447.8h0M684.5,444.8h0M685.0,457.8h0M685.1,454.7h0M685.1,452.8h0M685.1,449.8h0M684.9,446.5h0M686.9,454.7h0M686.3,452.1h0M686.4,448.9h0M686.6,446.6h0M686.6,444.7h0M686.7,454.6h0M686.6,451.7h0M687.0,450.1h0M687.0,448.4h0M687.0,446.1h0M687.5,457.1h0M687.8,454.5h0M687.4,452.3h0M687.2,448.6h0M687.0,446.1h0M687.6,456.9h0M687.4,455.1h0M687.9,453.3h0M687.8,451.7h0M687.9,449.4h0M687.7,447.3h0M687.7,444.8h0M689.4,454.2h0M689.4,452.9h0M689.2,450.5h0M688.4,449.1h0M688.8,446.4h0M690.0,457.8h0M690.2,455.8h0M690.0,454.3h0M689.8,452.4h0M690.1,450.9h0M690.1,449.5h0M689.9,446.9h0M692.7,456.3h0M692.4,454.6h0M692.9,452.5h0M692.8,449.1h0M692.6,447.0h0M692.7,445.1h0M693.1,457.8h0M692.9,456.0h0M693.2,454.4h0M692.8,452.0h0M693.3,449.3h0M692.7,445.7h0M694.3,454.9h0M694.5,453.4h0M694.4,451.6h0M694.7,449.6h0M694.4,448.1h0M694.1,446.6h0M694.5,445.2h0M733.8,456.2h0M734.2,453.7h0M734.3,451.3h0M734.1,449.8h0M734.0,447.7h0M734.0,446.1h0M735.0,456.2h0M734.9,454.1h0M734.2,451.0h0M734.8,449.5h0M734.6,447.6h0M735.3,455.6h0M735.7,454.0h0M735.7,451.5h0M735.4,449.3h0M735.4,446.4h0M735.8,455.6h0M736.2,454.2h0M736.0,451.7h0M736.1,448.6h0M736.2,446.0h0M737.7,456.2h0M737.9,454.0h0M737.9,450.5h0M738.1,448.2h0M738.2,454.2h0M738.8,452.5h0M738.4,450.0h0M738.9,448.0h0M739.7,454.5h0M739.8,451.3h0M740.1,448.4h0M739.9,446.6h0M744.5,457.1h0M744.6,454.7h0M744.5,452.8h0M744.4,449.1h0M744.6,447.5h0M744.8,445.9h0M745.5,456.8h0M745.6,453.4h0M745.1,450.2h0M745.2,446.6h0M746.0,457.0h0M746.1,454.5h0M746.1,452.6h0M746.3,450.3h0M746.0,446.9h0M747.1,456.5h0M747.5,453.0h0M747.1,449.7h0M747.3,448.3h0M747.2,445.5h0M747.6,455.7h0M748.0,453.9h0M747.9,450.3h0M747.9,447.2h0M748.8,455.1h0M748.5,452.9h0M748.8,449.5h0M748.5,447.4h0M749.3,456.2h0M749.3,453.3h0M749.3,450.9h0M749.4,448.2h0M750.3,457.9h0M750.5,455.5h0M750.5,451.9h0M750.5,448.8h0M750.5,446.0h0M751.1,456.1h0M751.2,453.1h0M750.9,450.0h0M751.3,446.7h0M752.3,456.1h0M752.2,453.0h0M752.2,450.7h0M752.2,447.7h0M753.9,455.3h0M754.2,452.4h0M753.9,450.9h0M753.7,448.3h0M753.8,445.7h0M754.7,454.3h0M754.6,452.8h0M754.2,450.1h0M754.6,446.8h0M755.3,454.5h0M754.8,452.3h0M754.6,449.1h0M754.9,446.1h0M755.3,455.8h0M756.1,454.4h0M755.8,451.8h0M756.1,450.3h0M756.3,448.3h0M755.9,446.2h0M756.7,457.5h0M756.7,454.3h0M756.5,450.6h0M756.7,448.5h0M757.5,456.0h0M757.6,452.7h0M757.2,451.1h0M757.7,448.4h0M758.4,457.8h0M758.0,456.5h0M758.5,454.5h0M758.2,451.3h0M758.4,447.9h0M758.2,445.4h0M758.4,454.2h0M758.4,451.1h0M758.4,448.1h0M758.6,446.4h0M758.7,445.0h0M760.1,457.1h0M759.8,455.0h0M760.0,451.5h0M760.0,449.0h0M760.0,445.4h0M761.0,457.8h0M760.2,454.8h0M760.2,453.3h0M760.8,450.5h0M760.6,448.7h0M760.7,446.0h0M791.8,456.7h0M791.9,452.9h0M791.7,451.5h0M791.9,449.1h0M791.8,445.6h0M793.3,457.2h0M793.0,454.0h0M793.5,450.8h0M793.6,448.9h0M793.2,447.3h0M793.6,456.9h0M794.1,454.4h0M794.0,450.7h0M794.2,447.2h0M794.0,445.3h0M794.5,454.7h0M794.6,451.9h0M793.7,448.6h0M794.4,445.8h0M794.8,456.0h0M794.7,454.5h0M794.6,451.6h0M794.8,449.1h0M795.2,446.2h0M796.3,456.6h0M796.3,453.6h0M796.5,450.4h0M796.1,447.6h0M796.4,446.2h0M796.6,444.7h0M796.9,454.3h0M797.3,452.6h0M796.9,450.4h0M797.1,447.3h0M797.5,444.6h0M797.9,457.8h0M798.2,455.1h0M798.0,452.0h0M798.1,448.5h0M798.2,444.8h0M798.8,454.4h0M798.8,451.5h0M798.9,449.4h0M798.3,446.8h0M799.3,456.5h0M799.3,454.3h0M799.1,450.5h0M799.3,448.0h0M799.1,445.0h0M799.9,456.4h0M799.7,453.3h0M800.2,451.4h0M799.9,448.9h0M799.9,447.2h0M800.0,444.7h0M800.3,457.3h0M800.7,455.1h0M800.7,453.3h0M800.1,451.3h0M800.2,449.9h0M800.1,447.1h0M801.9,455.2h0M801.8,452.0h0M802.0,449.1h0M802.4,446.6h0M802.7,456.2h0M802.1,454.6h0M802.4,452.7h0M801.9,449.4h0M802.1,447.6h0M803.6,456.3h0M803.7,453.6h0M803.3,449.8h0M803.2,446.4h0M806.8,456.1h0M806.6,452.6h0M806.7,448.8h0M806.5,446.6h0M806.5,445.2h0M807.0,457.0h0M806.9,455.0h0M806.8,452.8h0M806.1,450.3h0M806.6,448.7h0M806.9,447.0h0M809.4,455.8h0M809.3,452.7h0M809.2,450.0h0M809.4,448.5h0M809.3,446.1h0M810.4,455.4h0M810.3,451.7h0M810.4,449.5h0M810.4,447.2h0M812.9,457.4h0M813.0,454.3h0M812.8,452.2h0M812.5,448.7h0M813.0,446.1h0M813.5,456.7h0M813.5,454.0h0M813.7,452.1h0M813.5,450.0h0M813.6,448.5h0M813.9,446.6h0M813.8,445.0h0M814.2,457.8h0M813.9,454.1h0M814.1,450.7h0M814.0,448.7h0M814.6,445.9h0M816.4,455.6h0M816.3,452.1h0M816.6,449.3h0M816.3,447.5h0M816.2,445.6h0M842.9,455.3h0M843.1,453.0h0M843.1,449.8h0M842.8,446.8h0M844.7,455.8h0M845.2,453.0h0M845.3,451.6h0M845.0,448.0h0M845.4,445.6h0M846.2,454.2h0M846.2,452.4h0M846.1,450.7h0M846.6,447.4h0M847.2,454.2h0M847.5,452.0h0M847.5,449.9h0M847.3,447.2h0M847.9,456.6h0M847.6,455.0h0M848.1,451.8h0M848.1,449.4h0M848.1,446.6h0M848.0,455.7h0M848.3,453.7h0M848.2,450.2h0M848.0,448.8h0M848.6,447.5h0M848.3,446.0h0M848.9,456.7h0M849.1,454.2h0M848.5,450.8h0M848.9,448.8h0M848.6,446.0h0M849.4,457.0h0M849.2,453.7h0M849.6,451.9h0M849.3,448.3h0M849.3,445.4h0M849.8,456.8h0M849.4,454.6h0M849.6,452.9h0M849.6,449.5h0M849.5,447.7h0M849.4,446.1h0M850.2,454.5h0M850.3,452.0h0M850.3,448.9h0M850.0,447.4h0M850.0,446.0h0M851.3,457.8h0M851.4,456.1h0M851.5,454.5h0M851.8,451.4h0M851.5,447.7h0M854.4,454.2h0M854.9,452.4h0M854.4,449.1h0M854.6,446.9h0M855.2,454.8h0M855.5,452.2h0M854.6,449.7h0M855.2,447.9h0M855.0,445.3h0M855.9,455.5h0M855.8,452.3h0M855.5,449.6h0M855.4,446.1h0M856.6,456.2h0M856.4,454.8h0M856.3,452.1h0M856.5,449.7h0M856.1,446.6h0M856.1,444.7h0M857.0,455.3h0M857.8,453.4h0M857.5,451.8h0M857.6,449.0h0M857.6,446.3h0M858.3,457.6h0M858.0,453.9h0M858.3,452.0h0M858.4,448.5h0M858.2,445.9h0M859.4,457.5h0M859.6,455.5h0M859.4,452.9h0M859.5,449.4h0M859.5,446.6h0M860.7,454.4h0M860.9,452.6h0M860.6,449.0h0M860.2,446.3h0M860.9,454.2h0M861.5,452.5h0M861.0,450.7h0M861.7,448.7h0M861.4,447.2h0M861.6,457.0h0M861.8,455.4h0M861.6,452.9h0M861.4,449.4h0M861.7,445.8h0M862.2,454.4h0M862.1,452.0h0M862.2,450.4h0M862.1,447.0h0M862.1,445.2h0M862.9,457.2h0M863.3,454.7h0M862.8,452.5h0M862.8,450.8h0M863.2,448.4h0M863.2,445.3h0M864.2,457.1h0M864.5,453.4h0M864.6,450.6h0M864.6,448.1h0M864.5,444.8h0M889.2,455.3h0M889.2,451.7h0M889.1,448.3h0M889.1,445.1h0M889.4,455.7h0M889.6,454.1h0M889.3,452.4h0M889.5,449.6h0M889.6,447.7h0M889.6,455.7h0M889.5,454.2h0M889.5,452.3h0M889.9,448.6h0M890.0,446.2h0M890.5,457.9h0M890.7,454.2h0M890.6,451.3h0M891.1,448.5h0M890.7,445.6h0M892.4,455.1h0M892.9,452.0h0M892.3,448.4h0M892.5,444.8h0M898.9,454.6h0M898.9,452.8h0M899.2,450.8h0M898.9,449.4h0M898.8,446.5h0M898.4,444.9h0M899.4,454.5h0M899.4,451.9h0M899.3,450.6h0M899.1,448.7h0M899.2,447.0h0M899.4,445.3h0M901.7,456.2h0M901.4,454.0h0M901.8,451.5h0M901.5,447.7h0M901.3,445.0h0M902.0,455.0h0M902.1,451.2h0M902.1,447.7h0M902.9,455.7h0M902.8,454.3h0M902.7,450.9h0M902.8,447.6h0M902.9,446.3h0M904.6,457.0h0M904.5,454.0h0M904.4,451.2h0M904.3,448.0h0M904.4,446.1h0M904.6,456.3h0M904.9,453.2h0M904.6,450.1h0M905.2,447.7h0M904.8,445.1h0M905.3,457.6h0M905.3,455.1h0M905.3,452.8h0M905.7,451.1h0M905.6,448.6h0M905.7,446.0h0M906.8,456.6h0M906.4,454.2h0M906.2,450.9h0M906.5,447.4h0M906.7,444.8h0M929.5,457.5h0M929.7,454.4h0M929.4,452.2h0M929.3,450.5h0M929.2,447.2h0M930.8,455.2h0M930.4,451.6h0M930.5,449.0h0M931.2,455.1h0M930.6,452.8h0M931.0,451.3h0M930.4,447.6h0M932.4,456.5h0M932.2,454.8h0M932.3,451.5h0M932.0,448.0h0M932.3,446.2h0M932.7,454.9h0M932.7,452.5h0M933.1,451.0h0M932.8,447.8h0M933.1,445.8h0M934.0,454.9h0M934.5,452.6h0M934.5,449.9h0M934.3,447.4h0M935.0,445.1h0M937.0,457.9h0M937.4,454.7h0M937.1,453.0h0M937.1,449.6h0M937.0,446.6h0M939.0,454.7h0M939.2,451.7h0M938.9,449.1h0M939.2,446.3h0M940.3,455.6h0M940.4,453.1h0M940.3,450.6h0M939.9,446.8h0M941.1,454.6h0M941.1,451.4h0M941.2,449.9h0M941.1,447.6h0M940.7,445.0h0M941.4,456.5h0M941.2,454.7h0M941.5,452.8h0M941.8,451.1h0M941.7,447.2h0M942.5,454.6h0M943.3,451.8h0M942.7,448.4h0M943.1,445.3h0M943.1,455.5h0M943.6,453.1h0M943.1,450.3h0M943.2,446.6h0M944.1,456.4h0M944.0,453.6h0M943.6,451.0h0M944.0,448.5h0M943.9,445.2h0M944.4,454.6h0M943.9,452.5h0M944.1,450.5h0M944.4,449.0h0M944.1,447.2h0M943.8,445.7h0M945.1,457.5h0M945.3,455.3h0M945.7,452.1h0M945.1,449.2h0M945.3,447.0h0M946.1,455.4h0M945.9,454.0h0M945.8,451.0h0M945.8,449.3h0M945.7,447.2h0M946.8,457.8h0M946.7,454.3h0M947.0,451.9h0M946.4,450.1h0M946.5,448.2h0M947.2,455.5h0M947.8,453.7h0M947.2,451.9h0M947.6,448.4h0M947.3,455.9h0M947.7,452.6h0M948.3,450.0h0M948.4,446.2h0M972.7,456.8h0M972.5,453.8h0M972.3,450.6h0M972.6,447.3h0M973.3,457.1h0M973.0,454.3h0M973.8,451.4h0M972.9,450.1h0M973.0,447.0h0M973.2,445.0h0M973.9,457.4h0M973.7,455.3h0M974.1,452.8h0M973.7,449.9h0M973.7,447.5h0M973.7,444.9h0M975.6,457.4h0M975.4,455.6h0M975.4,453.1h0M975.7,449.7h0M975.7,446.0h0M976.3,457.1h0M975.7,454.5h0M976.0,452.1h0M975.9,448.9h0M976.6,446.6h0M975.8,444.9h0M976.7,454.9h0M976.8,452.0h0M976.4,450.2h0M976.3,447.6h0M975.7,445.5h0M977.1,456.3h0M977.9,453.6h0M977.8,451.3h0M977.2,448.6h0M977.9,446.3h0M981.5,454.7h0M980.7,452.0h0M981.1,449.7h0M981.2,446.0h0M982.8,457.1h0M982.9,454.9h0M982.6,451.9h0M983.5,450.2h0M982.6,446.8h0M984.8,455.8h0M984.6,453.6h0M984.6,450.9h0M984.7,448.8h0M985.3,447.0h0M985.2,454.8h0M985.5,452.0h0M985.3,449.7h0M985.3,447.9h0M985.2,446.0h0M986.1,454.6h0M985.7,451.0h0M986.2,448.1h0M985.8,444.8h0M986.3,457.7h0M986.0,455.9h0M986.4,453.7h0M986.6,451.3h0M986.6,449.2h0M986.5,447.1h0M986.4,445.4h0M986.8,455.5h0M986.7,453.1h0M987.0,449.7h0M987.0,446.7h0M1007.6,455.1h0M1007.5,451.6h0M1007.3,450.0h0M1008.0,446.8h0M1007.9,444.8h0M1007.7,455.7h0M1008.1,453.6h0M1007.8,450.0h0M1008.2,446.4h0M1009.3,457.9h0M1009.0,454.3h0M1009.3,451.3h0M1009.3,449.1h0M1009.3,447.7h0M1010.7,454.7h0M1010.7,452.0h0M1010.9,448.3h0M1011.1,446.6h0M1011.4,454.5h0M1011.4,451.1h0M1011.4,449.4h0M1010.7,447.7h0M1011.3,445.2h0M1011.6,456.1h0M1011.8,453.1h0M1011.5,449.4h0M1011.8,445.6h0M1012.0,456.3h0M1011.9,453.1h0M1012.3,449.3h0M1011.9,447.1h0M1011.9,445.4h0M1013.2,455.5h0M1013.5,451.7h0M1013.4,448.1h0M1015.5,455.8h0M1015.7,453.8h0M1015.7,450.4h0M1015.5,447.3h0M1015.4,445.1h0M1033.5,456.3h0M1033.3,453.1h0M1033.5,450.2h0M1033.4,447.4h0M1033.5,445.0h0M1034.7,456.5h0M1035.0,454.2h0M1034.9,451.3h0M1035.0,449.8h0M1035.1,448.4h0M1034.7,445.6h0M1036.2,456.3h0M1035.5,454.8h0M1035.9,452.3h0M1036.0,449.6h0M1036.1,447.1h0M1036.5,455.7h0M1037.0,452.1h0M1036.8,449.4h0M1036.2,446.0h0M1037.0,457.1h0M1037.2,455.1h0M1037.2,453.5h0M1036.7,450.8h0M1037.1,447.3h0M1037.0,445.0h0M1039.3,455.1h0M1039.3,452.6h0M1039.5,450.4h0M1040.0,446.6h0M1039.6,444.8h0M1041.4,456.0h0M1041.9,454.2h0M1041.5,451.6h0M1041.6,450.1h0M1041.6,446.9h0M1042.1,456.5h0M1042.3,453.8h0M1042.2,452.1h0M1042.1,448.3h0M1041.9,445.7h0M1042.2,457.6h0M1042.5,456.2h0M1042.3,453.0h0M1043.1,450.4h0M1042.9,448.2h0M1042.6,446.1h0M1042.9,457.5h0M1042.9,455.4h0M1042.8,452.3h0M1042.9,448.5h0M1042.9,445.5h0M1057.9,457.3h0M1057.7,454.1h0M1058.0,452.1h0M1058.1,448.9h0M1057.6,445.6h0M1060.6,456.6h0M1061.3,455.1h0M1061.4,451.3h0M1061.1,448.6h0M1061.2,445.3h0M1062.5,457.7h0M1062.1,455.1h0M1062.2,453.5h0M1062.2,451.9h0M1062.4,448.9h0M1062.5,456.1h0M1062.5,453.8h0M1063.0,452.4h0M1062.8,449.0h0M1062.3,445.8h0M1062.7,456.1h0M1063.2,452.9h0M1062.9,450.1h0M1063.0,448.5h0M1062.9,447.1h0M1063.1,445.3h0M1063.8,457.9h0M1064.3,454.4h0M1064.3,452.9h0M1064.5,451.1h0M1064.4,449.4h0M1064.5,447.2h0M1065.6,457.2h0M1065.8,455.4h0M1065.7,451.6h0M1065.7,449.9h0M1066.0,446.4h0M1078.9,454.7h0M1078.7,453.1h0M1078.6,451.6h0M1079.6,454.8h0M1079.9,451.5h0M1079.6,449.0h0M1079.6,447.6h0M1079.7,445.4h0M1082.0,456.6h0M1082.0,454.1h0M1081.7,452.0h0M1081.9,448.2h0M1082.0,446.8h0M1083.7,454.2h0M1083.8,450.4h0" fill="none" stroke="#2d5565" stroke-width="1.3" stroke-linecap="round"/>
<path d="M662.0,443.6h0M663.2,444.4h0M663.8,444.4h0M664.2,441.8h0M664.1,439.8h0M664.3,437.5h0M664.5,433.7h0M665.6,444.5h0M665.9,442.0h0M665.4,438.6h0M665.3,436.4h0M666.7,442.9h0M667.1,439.8h0M666.8,438.0h0M666.9,434.8h0M668.9,444.0h0M668.8,442.3h0M669.0,440.5h0M668.7,439.1h0M671.0,441.0h0M671.0,437.5h0M671.4,436.1h0M671.3,433.2h0M671.7,443.8h0M672.1,440.3h0M671.6,439.0h0M671.7,435.3h0M672.8,444.5h0M672.7,441.8h0M675.5,443.6h0M676.6,442.7h0M682.8,443.9h0M682.5,442.2h0M682.5,440.4h0M682.8,437.6h0M684.4,442.0h0M684.6,440.0h0M684.2,437.9h0M684.9,444.2h0M684.5,442.3h0M685.0,440.1h0M685.0,437.8h0M686.7,443.3h0M686.9,442.5h0M688.1,441.6h0M687.8,439.9h0M689.1,444.2h0M689.9,444.5h0M689.9,442.4h0M689.5,440.8h0M689.8,437.9h0M690.0,434.5h0M692.3,443.5h0M692.6,442.9h0M693.1,440.5h0M692.7,436.8h0M734.6,444.1h0M733.8,442.5h0M734.6,440.9h0M734.8,444.2h0M734.5,441.6h0M734.9,438.2h0M735.5,444.0h0M735.6,440.8h0M735.6,437.6h0M739.0,444.3h0M738.7,442.0h0M739.1,439.5h0M738.6,436.7h0M738.8,435.2h0M739.9,444.1h0M739.8,442.0h0M744.5,442.3h0M744.5,438.9h0M744.3,437.1h0M744.6,435.1h0M747.2,443.4h0M747.3,444.0h0M747.7,441.1h0M747.8,438.0h0M749.5,444.5h0M750.4,443.9h0M753.5,443.2h0M753.6,439.5h0M754.5,444.2h0M754.4,441.3h0M754.0,438.0h0M754.8,442.6h0M755.7,443.2h0M756.1,440.5h0M755.7,438.3h0M758.3,441.8h0M758.1,438.0h0M758.1,435.3h0M760.1,444.2h0M760.7,440.6h0M760.6,438.1h0M791.8,444.2h0M791.7,442.0h0M791.5,439.0h0M791.6,436.4h0M791.9,435.0h0M794.3,442.9h0M794.5,440.1h0M793.8,436.7h0M795.5,443.6h0M794.9,440.4h0M795.1,437.2h0M795.0,434.6h0M796.7,443.2h0M796.3,440.5h0M796.6,437.4h0M797.6,441.8h0M797.3,438.1h0M797.1,434.8h0M797.5,433.2h0M798.1,442.7h0M798.3,443.8h0M798.8,441.1h0M798.5,439.3h0M799.5,441.3h0M800.1,437.9h0M800.3,444.5h0M800.6,441.2h0M800.0,439.0h0M800.3,437.5h0M800.4,434.6h0M802.1,443.9h0M802.4,441.4h0M802.1,438.2h0M801.7,435.4h0M803.1,444.0h0M803.5,440.9h0M803.6,438.5h0M803.8,436.5h0M803.5,434.5h0M806.1,442.0h0M806.7,444.4h0M809.0,443.6h0M809.2,441.9h0M809.0,439.5h0M809.2,436.3h0M809.3,433.3h0M810.4,443.6h0M810.4,440.1h0M810.4,436.3h0M810.3,434.5h0M812.4,444.2h0M812.6,442.4h0M813.5,443.1h0M813.8,440.8h0M813.3,437.2h0M814.8,443.3h0M814.6,441.5h0M816.6,444.0h0M816.6,440.4h0M842.6,443.1h0M845.2,442.0h0M845.0,439.1h0M845.3,437.2h0M848.1,444.1h0M847.8,441.4h0M847.9,440.0h0M848.0,438.2h0M848.0,443.6h0M848.2,441.5h0M848.6,437.8h0M848.2,435.1h0M849.6,443.3h0M849.3,440.3h0M850.2,444.3h0M850.5,440.8h0M850.2,437.5h0M850.3,434.8h0M851.4,443.8h0M851.4,440.2h0M851.7,437.5h0M851.4,435.9h0M851.3,433.4h0M856.5,441.4h0M856.4,438.2h0M856.4,435.3h0M857.8,443.8h0M857.6,440.7h0M857.1,437.7h0M857.2,436.1h0M857.4,434.3h0M858.1,443.8h0M857.9,440.4h0M857.6,439.0h0M859.9,443.7h0M861.5,443.8h0M860.7,442.1h0M861.4,438.8h0M861.3,435.3h0M861.2,433.6h0M861.5,442.6h0M861.7,439.4h0M862.2,443.6h0M862.0,442.2h0M862.1,438.8h0M862.3,436.0h0M862.0,433.8h0M862.8,443.0h0M863.1,441.0h0M862.7,439.5h0M862.7,437.1h0M862.8,433.4h0M864.3,443.1h0M889.6,444.4h0M889.6,442.8h0M889.4,439.8h0M889.4,442.5h0M889.8,439.3h0M889.6,437.3h0M889.9,435.1h0M890.1,433.3h0M890.4,443.7h0M892.3,441.0h0M892.2,438.9h0M892.5,436.2h0M899.6,443.0h0M899.2,439.8h0M899.7,436.9h0M898.9,433.2h0M901.7,442.5h0M901.5,439.1h0M901.5,437.1h0M901.6,435.1h0M903.2,443.1h0M902.6,440.5h0M902.6,438.5h0M902.7,436.3h0M904.4,444.1h0M904.8,441.7h0M905.2,439.8h0M904.8,437.6h0M904.6,434.0h0M904.8,441.7h0M905.1,438.9h0M905.3,443.6h0M906.4,442.4h0M906.4,440.3h0M906.3,438.4h0M906.5,436.3h0M929.2,444.0h0M929.5,441.3h0M931.4,444.1h0M931.1,440.5h0M932.3,442.8h0M932.1,440.7h0M934.6,441.7h0M934.9,438.4h0M937.0,443.7h0M939.0,444.3h0M939.1,440.8h0M939.2,437.5h0M939.2,433.7h0M940.2,443.8h0M940.2,440.9h0M940.1,439.0h0M942.1,444.3h0M942.0,442.4h0M943.0,441.5h0M942.5,439.9h0M943.2,436.8h0M943.2,433.1h0M943.2,443.2h0M944.2,443.9h0M944.6,441.4h0M944.0,439.3h0M944.0,436.5h0M944.3,433.7h0M945.5,444.0h0M945.2,440.8h0M945.2,439.4h0M945.2,436.3h0M945.1,434.7h0M947.8,442.8h0M972.4,444.4h0M972.5,441.3h0M972.8,439.2h0M972.2,436.8h0M972.7,434.9h0M973.1,442.6h0M973.4,439.0h0M973.2,436.9h0M975.4,442.3h0M976.0,440.5h0M975.6,437.5h0M975.6,434.1h0M976.5,441.8h0M976.3,439.7h0M976.7,443.8h0M977.6,443.3h0M977.0,440.7h0M977.3,437.3h0M977.2,434.7h0M985.4,442.3h0M986.5,443.7h0M986.8,441.1h0M986.1,437.5h0M986.3,434.7h0M1007.5,443.2h0M1007.4,440.5h0M1008.0,439.0h0M1007.7,436.3h0M1007.9,434.6h0M1009.4,443.9h0M1009.5,441.4h0M1009.3,437.8h0M1009.4,436.0h0M1009.5,433.5h0M1011.5,441.7h0M1011.1,438.6h0M1012.0,441.9h0M1012.0,440.0h0M1012.3,436.5h0M1012.1,433.8h0M1013.1,444.3h0M1013.4,440.6h0M1015.7,441.4h0M1033.4,442.0h0M1033.4,440.6h0M1033.3,439.0h0M1033.6,436.9h0M1034.7,443.4h0M1034.9,441.4h0M1035.1,439.8h0M1036.9,443.0h0M1037.3,442.3h0M1037.3,439.9h0M1036.9,437.8h0M1036.9,434.2h0M1039.1,441.6h0M1039.8,439.3h0M1039.6,436.5h0M1039.7,434.8h0M1042.2,443.9h0M1042.5,443.7h0M1043.0,440.1h0M1042.6,437.7h0M1057.5,443.1h0M1057.4,440.9h0M1057.7,437.5h0M1057.9,435.7h0M1060.8,442.0h0M1060.6,439.2h0M1061.1,436.9h0M1060.8,434.5h0M1062.6,444.1h0M1063.1,443.3h0M1063.0,440.7h0M1064.6,443.4h0M1064.1,439.9h0M1064.2,438.0h0M1064.3,435.8h0M1065.8,443.7h0M1079.9,443.4h0M1079.7,440.6h0M663.4,436.0h0M661.8,433.8h0M662.5,435.9h0M675.3,442.9h0M675.1,443.1h0M687.8,434.9h0M688.8,435.0h0M687.3,434.7h0M686.9,433.6h0M688.6,437.3h0M688.2,437.3h0M687.4,436.7h0M685.8,440.6h0M687.4,440.4h0M684.7,438.1h0M685.4,440.8h0M687.4,439.1h0M694.7,438.3h0M692.2,433.4h0M692.2,436.2h0M696.3,444.3h0M695.7,435.4h0M685.1,435.5h0M683.1,441.1h0M683.7,444.4h0M737.9,436.6h0M736.3,437.1h0M742.5,441.7h0M739.5,434.1h0M740.2,437.9h0M743.0,438.1h0M752.7,441.2h0M750.7,440.4h0M754.0,435.6h0M755.5,435.2h0M754.8,434.4h0M756.2,438.1h0M757.0,435.7h0M760.3,433.5h0M760.0,436.0h0M759.2,439.7h0M746.8,436.3h0M746.8,436.4h0M747.9,444.2h0M747.4,436.2h0M792.0,434.8h0M801.0,440.7h0M800.7,434.7h0M800.3,442.5h0M801.8,439.3h0M800.5,436.3h0M806.3,442.4h0M806.8,440.9h0M812.2,436.3h0M816.1,437.7h0M814.2,439.5h0M815.4,435.2h0M799.0,436.8h0M797.1,433.1h0M796.6,436.7h0M845.4,435.8h0M847.7,443.8h0M848.0,441.6h0M850.8,443.9h0M850.7,435.3h0M852.1,440.5h0M852.9,435.7h0M852.7,436.2h0M856.9,438.5h0M857.0,438.1h0M858.5,436.2h0M859.9,437.2h0M861.8,438.5h0M863.7,438.0h0M854.8,437.8h0M854.5,441.1h0M890.1,439.5h0M892.8,442.7h0M892.8,434.9h0M891.9,438.5h0M892.9,440.5h0M890.7,439.1h0M900.7,438.4h0M900.4,433.3h0M902.9,441.9h0M906.0,437.8h0M906.3,442.2h0M905.4,444.1h0M905.8,436.5h0M931.6,436.2h0M931.6,436.1h0M930.4,435.5h0M930.4,439.8h0M934.8,434.0h0M934.5,443.0h0M943.0,433.4h0M943.6,435.6h0M943.4,441.7h0M946.5,438.7h0M946.0,438.6h0M945.1,442.1h0M948.0,436.5h0M972.9,444.4h0M976.1,441.2h0M976.2,444.2h0M976.3,435.0h0M976.4,433.6h0M978.5,438.1h0M979.7,434.9h0M978.6,442.8h0M980.5,434.5h0M981.5,435.3h0M983.8,440.3h0M1007.6,434.3h0M1013.0,436.1h0M1016.1,437.8h0M1016.6,434.5h0M1034.8,436.8h0M1037.1,434.9h0M1039.7,441.9h0M1039.5,437.1h0M1042.9,438.7h0M1043.9,433.3h0M1043.4,435.6h0M1060.1,433.8h0M1061.4,438.1h0M1060.5,440.9h0M1064.5,443.2h0M1064.2,436.2h0M1079.7,436.2h0M1079.1,442.4h0M1079.7,433.3h0M1080.6,437.2h0" fill="none" stroke="#2d5565" stroke-width="1.7" stroke-linecap="round"/>
<path d="M667.0,432.4h0M670.9,431.6h0M670.8,429.3h0M671.2,426.9h0M671.4,423.1h0M671.8,432.0h0M671.9,430.3h0M671.7,426.5h0M672.0,424.0h0M690.0,431.8h0M689.8,429.2h0M689.9,426.3h0M738.7,431.9h0M758.3,432.9h0M758.0,430.3h0M758.2,426.6h0M758.0,424.0h0M758.5,422.1h0M795.3,432.6h0M795.6,430.7h0M795.2,427.4h0M794.9,425.9h0M797.0,430.5h0M797.4,428.4h0M797.0,426.9h0M797.2,425.2h0M797.2,423.0h0M802.0,432.9h0M809.4,430.2h0M809.3,426.6h0M809.1,424.0h0M810.5,432.7h0M810.0,431.2h0M810.4,429.7h0M810.6,427.2h0M848.2,431.4h0M848.1,429.7h0M848.4,428.0h0M850.1,433.0h0M850.7,430.9h0M851.8,430.6h0M851.4,427.6h0M851.6,424.0h0M856.3,432.4h0M857.3,432.0h0M857.5,430.5h0M857.2,428.4h0M857.7,424.6h0M860.6,431.1h0M861.5,428.7h0M861.1,424.9h0M861.2,421.8h0M862.2,431.1h0M863.1,430.4h0M863.0,427.1h0M862.9,424.0h0M863.4,422.1h0M890.4,429.6h0M890.0,427.9h0M889.8,424.7h0M899.1,431.0h0M899.5,428.3h0M901.5,433.0h0M901.9,431.3h0M901.3,429.2h0M902.7,432.9h0M902.7,429.3h0M902.7,427.3h0M902.6,424.5h0M902.9,423.1h0M904.4,432.2h0M904.7,430.3h0M904.5,427.4h0M904.6,424.4h0M906.3,432.6h0M906.3,431.0h0M906.2,428.1h0M906.3,426.6h0M906.6,423.8h0M943.0,429.6h0M943.0,426.7h0M942.9,423.4h0M944.0,430.8h0M944.6,428.4h0M945.4,431.6h0M972.5,431.8h0M972.2,430.2h0M972.5,427.7h0M975.9,432.4h0M977.1,432.0h0M977.3,429.6h0M977.5,426.2h0M977.3,423.0h0M1007.7,432.8h0M1009.3,431.0h0M1009.3,428.1h0M1008.8,426.1h0M1009.7,422.7h0M1012.1,431.9h0M1037.0,432.4h0M1036.7,430.1h0M1037.1,426.8h0M1037.2,425.5h0M1037.2,423.3h0M1039.4,431.7h0M1039.4,430.1h0M1039.4,426.5h0M1039.4,425.0h0M1039.6,423.0h0M1058.0,432.7h0M1057.8,430.2h0M1057.6,426.9h0M1057.2,424.1h0M1057.6,422.5h0M664.1,424.1h0M662.0,421.6h0M663.0,429.4h0M667.5,426.4h0M665.7,432.8h0M665.2,429.2h0M666.9,431.0h0M669.4,425.4h0M670.0,428.1h0M675.1,427.3h0M674.7,427.9h0M675.7,429.7h0M688.6,422.5h0M686.6,425.0h0M688.0,426.8h0M687.4,424.8h0M686.7,424.3h0M686.8,430.2h0M686.2,430.6h0M687.3,428.3h0M686.7,426.2h0M688.2,428.9h0M685.3,423.9h0M686.8,425.9h0M686.0,431.7h0M693.1,425.3h0M693.9,426.1h0M693.7,427.4h0M692.5,431.6h0M696.9,425.0h0M695.2,423.1h0M683.8,425.4h0M683.2,428.3h0M683.0,432.0h0M734.5,423.8h0M735.1,429.1h0M740.1,428.5h0M742.2,428.8h0M752.0,428.5h0M751.2,425.2h0M753.7,425.2h0M754.4,430.5h0M754.5,430.8h0M757.2,428.2h0M756.2,429.8h0M760.7,422.4h0M760.0,429.9h0M758.0,429.1h0M747.0,423.5h0M746.5,428.1h0M791.3,430.6h0M794.8,422.6h0M801.4,424.6h0M800.1,427.7h0M800.9,426.6h0M800.2,431.4h0M801.4,422.7h0M801.0,421.9h0M801.2,430.2h0M800.1,422.3h0M799.8,425.0h0M801.7,429.2h0M800.9,432.9h0M800.4,425.3h0M800.3,431.2h0M801.9,430.9h0M799.9,426.1h0M801.3,428.1h0M800.8,431.2h0M800.6,422.9h0M800.8,424.8h0M800.0,425.9h0M801.7,427.6h0M803.0,429.8h0M804.1,427.2h0M805.3,429.3h0M806.9,426.1h0M805.9,429.0h0M807.5,430.6h0M806.1,426.0h0M806.5,426.0h0M810.5,428.7h0M813.1,425.1h0M811.0,431.4h0M812.1,427.8h0M815.4,431.1h0M798.5,423.3h0M798.4,427.0h0M797.6,431.6h0M798.9,424.7h0M844.7,425.6h0M847.0,430.5h0M847.1,430.1h0M850.9,422.2h0M849.1,428.2h0M853.3,423.4h0M852.4,426.9h0M856.5,428.5h0M857.4,432.3h0M859.1,426.0h0M859.0,425.7h0M860.7,431.4h0M861.2,426.7h0M860.5,427.6h0M861.7,427.9h0M852.8,431.0h0M856.5,423.3h0M854.8,423.3h0M857.8,422.4h0M890.9,429.9h0M892.5,431.1h0M892.9,430.7h0M891.0,429.5h0M900.4,425.2h0M899.6,424.6h0M900.9,430.4h0M899.8,431.8h0M902.3,423.4h0M903.4,423.0h0M906.2,425.4h0M931.7,425.5h0M932.7,429.0h0M932.3,431.8h0M931.3,431.6h0M930.2,423.1h0M929.1,424.4h0M930.4,432.4h0M934.1,427.0h0M934.7,426.0h0M940.9,430.4h0M942.1,426.1h0M939.7,427.1h0M940.8,425.2h0M942.5,421.8h0M943.6,423.4h0M942.3,431.9h0M945.4,423.9h0M947.5,428.9h0M973.2,423.7h0M973.1,424.1h0M975.6,421.8h0M976.2,429.8h0M978.2,432.4h0M979.5,424.9h0M980.6,423.1h0M980.1,429.2h0M982.2,425.5h0M982.8,426.9h0M983.2,427.5h0M985.0,425.1h0M1007.8,431.7h0M1009.4,421.6h0M1009.0,425.4h0M1010.4,428.4h0M1011.0,427.9h0M1012.5,426.9h0M1013.7,430.0h0M1014.0,423.9h0M1015.9,427.3h0M1016.5,425.3h0M1034.6,425.4h0M1034.9,432.8h0M1035.1,430.0h0M1035.2,429.8h0M1038.4,426.2h0M1037.2,422.9h0M1039.3,421.9h0M1043.3,425.4h0M1058.0,423.0h0M1063.2,424.6h0M1063.9,428.6h0M1063.7,431.4h0M1064.7,424.4h0M1064.7,423.3h0M1079.7,423.5h0M1081.3,425.4h0M1081.6,431.0h0M1081.0,431.6h0M1080.5,430.7h0M1081.6,429.4h0M1083.1,425.3h0" fill="none" stroke="#2d5565" stroke-width="2.0" stroke-linecap="round"/>
<path d="M671.6,420.8h0M671.5,421.0h0M671.5,419.4h0M671.7,416.1h0M672.0,414.0h0M797.2,419.2h0M797.4,417.7h0M858.0,421.2h0M857.1,418.5h0M857.9,415.7h0M861.3,418.3h0M902.7,420.8h0M904.8,421.4h0M904.4,418.3h0M906.2,420.8h0M906.3,418.5h0M942.7,421.5h0M943.0,420.2h0M942.8,417.4h0M977.2,421.2h0M1037.4,421.3h0M1036.8,419.5h0M1037.1,417.8h0M1037.3,416.2h0M1037.3,414.7h0M1057.4,421.0h0M1057.4,419.3h0M1057.9,415.7h0M662.4,417.0h0M662.4,420.6h0M666.4,421.6h0M670.3,413.9h0M670.7,417.6h0M669.8,415.0h0M669.6,414.7h0M688.4,413.8h0M687.0,412.5h0M687.2,412.1h0M688.3,412.3h0M686.3,411.8h0M686.3,410.4h0M685.9,412.1h0M685.9,412.8h0M686.8,411.1h0M686.0,410.7h0M685.9,412.3h0M693.6,419.7h0M696.0,421.6h0M736.7,419.7h0M738.0,421.2h0M741.5,413.1h0M741.7,414.9h0M741.5,413.9h0M743.0,412.0h0M743.6,414.0h0M743.2,416.6h0M743.0,419.5h0M750.7,413.1h0M755.3,411.5h0M754.6,412.7h0M754.2,420.0h0M756.5,412.0h0M754.6,413.3h0M755.8,416.9h0M756.9,415.6h0M760.5,414.2h0M759.2,412.0h0M758.7,413.5h0M758.9,415.0h0M759.9,416.6h0M791.9,412.0h0M792.6,418.8h0M792.8,412.4h0M796.1,415.5h0M795.3,415.0h0M794.2,413.2h0M794.2,410.7h0M795.4,410.5h0M794.5,416.9h0M800.1,419.1h0M800.8,415.6h0M799.8,413.0h0M801.0,415.2h0M801.3,416.9h0M800.7,416.4h0M799.7,413.9h0M800.9,411.4h0M800.5,419.1h0M800.7,412.9h0M800.3,414.3h0M801.2,421.0h0M802.1,414.7h0M803.5,418.7h0M806.4,416.1h0M811.4,413.1h0M811.7,416.8h0M811.2,415.2h0M815.9,415.7h0M816.9,414.3h0M815.6,415.7h0M814.6,417.7h0M814.6,418.1h0M797.6,417.7h0M845.5,418.2h0M845.0,417.2h0M844.9,419.9h0M845.3,417.6h0M848.0,414.3h0M847.0,410.3h0M850.4,410.5h0M851.9,419.7h0M851.0,410.2h0M852.2,419.2h0M852.9,420.8h0M855.7,410.2h0M855.2,415.4h0M856.3,412.6h0M859.6,416.7h0M858.6,420.6h0M859.2,411.6h0M860.0,410.4h0M861.9,418.0h0M863.2,413.9h0M862.5,414.4h0M863.9,419.0h0M862.4,419.4h0M854.5,413.9h0M853.2,415.1h0M889.4,417.8h0M891.2,418.1h0M889.7,415.3h0M890.1,418.0h0M892.7,413.0h0M890.3,419.5h0M891.3,419.3h0M900.3,413.9h0M899.7,415.8h0M903.5,415.8h0M903.5,418.4h0M904.1,416.5h0M903.8,417.7h0M903.3,420.6h0M932.3,410.5h0M932.0,420.0h0M932.6,413.3h0M929.9,413.9h0M935.1,421.6h0M940.6,421.6h0M944.0,419.4h0M943.8,417.8h0M942.7,420.5h0M945.3,413.9h0M944.4,414.3h0M947.5,414.3h0M947.7,415.4h0M947.3,420.8h0M948.7,417.5h0M973.1,417.0h0M979.4,413.8h0M979.2,411.3h0M979.7,418.5h0M979.4,413.7h0M979.4,411.6h0M978.3,416.5h0M978.4,415.5h0M978.4,418.4h0M977.9,421.4h0M981.5,411.5h0M981.1,419.4h0M980.1,410.6h0M983.3,421.6h0M1009.1,410.6h0M1007.5,421.2h0M1008.6,417.4h0M1008.8,420.8h0M1009.1,410.5h0M1009.9,418.6h0M1010.3,415.3h0M1009.8,416.8h0M1012.9,412.0h0M1014.3,412.8h0M1012.7,419.0h0M1013.4,412.2h0M1015.7,421.6h0M1037.8,413.9h0M1036.8,419.0h0M1038.0,416.1h0M1040.4,419.0h0M1038.8,420.2h0M1039.7,421.5h0M1039.6,418.7h0M1039.6,420.9h0M1041.6,417.2h0M1058.1,414.1h0M1059.8,417.1h0M1060.6,414.0h0M1061.4,418.5h0M1060.7,412.6h0M1060.9,412.8h0M1063.1,413.9h0M1062.7,420.4h0M1064.7,417.7h0M1082.9,412.0h0M1082.9,416.1h0M1083.2,412.8h0M1083.7,419.6h0M1083.2,412.2h0" fill="none" stroke="#2d5565" stroke-width="2.3" stroke-linecap="round"/>
<path d="M687.4,400.1h0M688.1,405.2h0M688.9,396.9h0M689.2,401.6h0M687.0,406.0h0M687.2,400.1h0M687.2,407.0h0M687.5,405.3h0M689.1,402.9h0M687.7,401.8h0M686.5,402.9h0M687.6,406.8h0M688.1,400.8h0M687.9,398.0h0M686.4,400.8h0M686.3,406.6h0M688.2,394.8h0M686.3,406.6h0M686.5,405.9h0M686.8,395.2h0M752.4,396.1h0M751.6,395.8h0M752.0,402.7h0M750.6,404.9h0M751.3,404.0h0M751.3,403.5h0M754.1,410.1h0M760.8,395.5h0M760.0,404.5h0M761.4,397.4h0M792.5,395.5h0M792.7,403.9h0M794.4,410.1h0M801.1,401.3h0M801.9,395.6h0M800.3,397.6h0M801.4,405.2h0M799.9,395.8h0M800.5,408.6h0M801.1,406.1h0M801.1,400.5h0M800.5,401.2h0M800.4,396.3h0M801.3,400.4h0M801.9,408.5h0M803.2,394.9h0M803.9,404.4h0M804.0,398.5h0M803.1,406.9h0M803.4,400.2h0M806.3,406.2h0M845.0,402.4h0M844.9,404.6h0M845.3,408.8h0M844.4,404.8h0M847.4,406.2h0M847.7,407.4h0M850.5,404.3h0M850.5,407.5h0M850.6,404.7h0M852.9,398.6h0M853.4,406.6h0M853.7,401.6h0M856.0,402.4h0M855.8,406.8h0M856.2,404.5h0M859.1,396.7h0M858.2,405.1h0M861.3,401.5h0M862.1,408.8h0M860.0,394.8h0M862.1,400.2h0M861.2,401.5h0M890.6,397.9h0M890.3,402.3h0M892.9,408.2h0M892.7,406.3h0M891.6,406.2h0M931.9,402.4h0M931.5,402.5h0M932.9,403.8h0M943.0,399.3h0M942.1,400.0h0M944.0,404.0h0M947.7,406.2h0M948.5,406.7h0M974.2,406.3h0M973.7,399.1h0M975.8,402.4h0M976.8,405.0h0M975.5,407.8h0M977.1,408.0h0M978.9,395.2h0M979.2,400.1h0M978.7,395.9h0M978.4,396.1h0M978.2,397.1h0M978.7,408.5h0M980.9,406.2h0M1008.2,410.1h0M1010.1,400.5h0M1009.3,408.3h0M1009.3,407.0h0M1039.4,404.3h0M1040.9,404.7h0M1041.1,397.2h0M1041.0,399.8h0M1041.1,398.7h0M1058.5,399.0h0M1057.6,407.5h0M1058.3,405.3h0M1057.9,401.3h0M1058.8,401.5h0M1057.4,407.6h0M1059.6,401.4h0M1058.9,400.8h0M1061.1,397.8h0M1060.3,400.4h0M1061.3,398.6h0" fill="none" stroke="#2d5565" stroke-width="2.5" stroke-linecap="round"/>
<path d="M687.6,392.4h0M687.9,389.6h0M687.6,386.1h0M688.8,392.3h0M688.0,384.6h0M687.2,384.4h0M688.5,381.8h0M688.3,386.3h0M688.4,379.5h0M688.9,391.3h0M687.9,392.8h0M687.6,383.7h0M688.3,382.4h0M688.2,393.8h0M686.5,390.9h0M686.2,394.1h0M687.2,394.6h0M751.7,380.2h0M750.9,383.1h0M752.4,382.5h0M751.5,383.4h0M750.9,389.3h0M792.1,389.8h0M793.1,387.2h0M791.7,380.6h0M800.7,380.9h0M800.5,393.0h0M800.1,392.3h0M800.9,385.7h0M801.4,391.4h0M801.0,384.1h0M801.0,390.2h0M801.5,391.8h0M800.9,394.2h0M800.2,392.8h0M799.9,393.2h0M801.1,389.3h0M800.9,384.7h0M799.8,385.3h0M801.5,393.5h0M800.8,393.5h0M800.8,390.2h0M801.0,382.8h0M800.9,389.5h0M801.3,385.0h0M800.8,391.5h0M801.3,382.3h0M803.1,383.2h0M801.6,386.4h0M803.6,385.2h0M816.1,385.9h0M858.8,381.3h0M859.2,388.0h0M858.8,381.7h0M859.0,391.0h0M858.3,393.8h0M861.2,394.0h0M890.4,389.8h0M890.8,391.4h0M890.4,389.8h0M892.4,389.8h0M973.0,386.1h0M977.8,392.8h0M979.2,380.8h0M978.5,394.5h0M978.6,389.4h0M978.5,390.4h0M978.8,387.0h0M979.1,391.3h0M985.6,392.1h0M1041.0,386.3h0M1058.4,388.2h0M1058.7,394.4h0M1059.5,390.9h0" fill="none" stroke="#2d5565" stroke-width="2.7" stroke-linecap="round"/>
<path d="M687.7,371.0h0M688.4,371.9h0M686.9,376.7h0M687.9,371.1h0M688.3,374.5h0M687.7,375.6h0M687.0,374.8h0M688.9,375.4h0M687.8,374.9h0M688.5,378.4h0M688.1,379.0h0M686.4,378.8h0M792.4,372.5h0M791.8,376.3h0M801.1,371.7h0M799.5,372.9h0M973.4,373.7h0M973.5,376.7h0M972.4,377.6h0M978.5,374.8h0M985.3,379.4h0" fill="none" stroke="#2d5565" stroke-width="3.1" stroke-linecap="round"/>
<path d="M800.3,337.2h0M800.3,352.6h0M931.1,338.4h0" fill="none" stroke="#2d5565" stroke-width="3.8" stroke-linecap="round"/>
<line x1="751.7" y1="343.0" x2="751.7" y2="376.0" stroke="#dcdcdc" stroke-width="0.7"/>
<circle cx="751.7" cy="379.0" r="1.9" fill="#d7263d"/>
<text x="751.7" y="321.4" font-size="11.3" text-anchor="middle" font-style="italic" fill="#222">RAB7A</text>
<text x="751.2" y="335.3" font-size="11.3" text-anchor="middle" fill="#222">( rs7650872)</text>
<line x1="639.5" y1="287.4" x2="639.5" y2="517.8" stroke="#8a8a8a" stroke-width="0.9"/>
<line x1="639.1" y1="517.4" x2="1106.6" y2="517.4" stroke="#8a8a8a" stroke-width="0.9"/>
<line x1="635.6" y1="517.4" x2="639.5" y2="517.4" stroke="#8a8a8a" stroke-width="0.9"/>
<text x="633.0" y="521.8" font-size="12.2" text-anchor="end" fill="#111">1</text>
<line x1="635.6" y1="479.1" x2="639.5" y2="479.1" stroke="#8a8a8a" stroke-width="0.9"/>
<text x="633.0" y="483.5" font-size="12.2" text-anchor="end" fill="#111">2</text>
<line x1="635.6" y1="440.7" x2="639.5" y2="440.7" stroke="#8a8a8a" stroke-width="0.9"/>
<text x="633.0" y="445.1" font-size="12.2" text-anchor="end" fill="#111">3</text>
<line x1="635.6" y1="402.4" x2="639.5" y2="402.4" stroke="#8a8a8a" stroke-width="0.9"/>
<text x="633.0" y="406.8" font-size="12.2" text-anchor="end" fill="#111">4</text>
<line x1="635.6" y1="364.1" x2="639.5" y2="364.1" stroke="#8a8a8a" stroke-width="0.9"/>
<text x="633.0" y="368.5" font-size="12.2" text-anchor="end" fill="#111">5</text>
<line x1="635.6" y1="325.8" x2="639.5" y2="325.8" stroke="#8a8a8a" stroke-width="0.9"/>
<text x="633.0" y="330.1" font-size="12.2" text-anchor="end" fill="#111">6</text>
<line x1="635.6" y1="287.4" x2="639.5" y2="287.4" stroke="#8a8a8a" stroke-width="0.9"/>
<text x="633.0" y="291.8" font-size="12.2" text-anchor="end" fill="#111">7</text>
<text x="620.3" y="398.4" font-size="12.6" text-anchor="middle" fill="#111" transform="rotate(-90 620.3 398.4)">-Log10 (P)</text>
<line x1="679.0" y1="517.4" x2="679.0" y2="521.2" stroke="#8a8a8a" stroke-width="0.9"/>
<text x="679.0" y="534.0" font-size="11.7" text-anchor="middle" fill="#111">1</text>
<line x1="715.0" y1="517.4" x2="715.0" y2="521.2" stroke="#8a8a8a" stroke-width="0.9"/>
<text x="715.0" y="534.0" font-size="11.7" text-anchor="middle" fill="#111">2</text>
<line x1="747.4" y1="517.4" x2="747.4" y2="521.2" stroke="#8a8a8a" stroke-width="0.9"/>
<text x="747.4" y="534.0" font-size="11.7" text-anchor="middle" fill="#111">3</text>
<line x1="776.2" y1="517.4" x2="776.2" y2="521.2" stroke="#8a8a8a" stroke-width="0.9"/>
<text x="776.2" y="534.0" font-size="11.7" text-anchor="middle" fill="#111">4</text>
<line x1="803.1" y1="517.4" x2="803.1" y2="521.2" stroke="#8a8a8a" stroke-width="0.9"/>
<text x="803.1" y="534.0" font-size="11.7" text-anchor="middle" fill="#111">5</text>
<line x1="829.2" y1="517.4" x2="829.2" y2="521.2" stroke="#8a8a8a" stroke-width="0.9"/>
<text x="829.2" y="534.0" font-size="11.7" text-anchor="middle" fill="#111">6</text>
<line x1="852.9" y1="517.4" x2="852.9" y2="521.2" stroke="#8a8a8a" stroke-width="0.9"/>
<text x="852.9" y="534.0" font-size="11.7" text-anchor="middle" fill="#111">7</text>
<line x1="876.6" y1="517.4" x2="876.6" y2="521.2" stroke="#8a8a8a" stroke-width="0.9"/>
<text x="876.6" y="534.0" font-size="11.7" text-anchor="middle" fill="#111">8</text>
<line x1="897.1" y1="517.4" x2="897.1" y2="521.2" stroke="#8a8a8a" stroke-width="0.9"/>
<text x="897.1" y="534.0" font-size="11.7" text-anchor="middle" fill="#111">9</text>
<line x1="918.9" y1="517.4" x2="918.9" y2="521.2" stroke="#8a8a8a" stroke-width="0.9"/>
<text x="918.9" y="534.0" font-size="11.7" text-anchor="middle" fill="#111">10</text>
<line x1="938.8" y1="517.4" x2="938.8" y2="521.2" stroke="#8a8a8a" stroke-width="0.9"/>
<text x="938.8" y="534.0" font-size="11.7" text-anchor="middle" fill="#111">11</text>
<line x1="959.3" y1="517.4" x2="959.3" y2="521.2" stroke="#8a8a8a" stroke-width="0.9"/>
<text x="959.3" y="534.0" font-size="11.7" text-anchor="middle" fill="#111">12</text>
<line x1="979.4" y1="517.4" x2="979.4" y2="521.2" stroke="#8a8a8a" stroke-width="0.9"/>
<text x="979.4" y="534.0" font-size="11.7" text-anchor="middle" fill="#111">13</text>
<line x1="996.1" y1="517.4" x2="996.1" y2="521.2" stroke="#8a8a8a" stroke-width="0.9"/>
<text x="993.2" y="534.0" font-size="11.7" text-anchor="middle" fill="#111">14</text>
<line x1="1012.3" y1="517.4" x2="1012.3" y2="521.2" stroke="#8a8a8a" stroke-width="0.9"/>
<text x="1007.9" y="534.0" font-size="11.7" text-anchor="middle" fill="#111">15</text>
<line x1="1025.4" y1="517.4" x2="1025.4" y2="521.2" stroke="#8a8a8a" stroke-width="0.9"/>
<text x="1021.2" y="534.0" font-size="11.7" text-anchor="middle" fill="#111">16</text>
<line x1="1038.3" y1="517.4" x2="1038.3" y2="521.2" stroke="#8a8a8a" stroke-width="0.9"/>
<text x="1035.6" y="534.0" font-size="11.7" text-anchor="middle" fill="#111">17</text>
<line x1="1050.9" y1="517.4" x2="1050.9" y2="521.2" stroke="#8a8a8a" stroke-width="0.9"/>
<text x="1049.6" y="534.0" font-size="11.7" text-anchor="middle" fill="#111">18</text>
<line x1="1061.7" y1="517.4" x2="1061.7" y2="521.2" stroke="#8a8a8a" stroke-width="0.9"/>
<text x="1062.4" y="534.0" font-size="11.7" text-anchor="middle" fill="#111">19</text>
<line x1="1071.4" y1="517.4" x2="1071.4" y2="521.2" stroke="#8a8a8a" stroke-width="0.9"/>
<text x="1074.8" y="534.0" font-size="11.7" text-anchor="middle" fill="#111">20</text>
<line x1="1081.4" y1="517.4" x2="1081.4" y2="521.2" stroke="#8a8a8a" stroke-width="0.9"/>
<text x="1087.2" y="534.0" font-size="11.7" text-anchor="middle" fill="#111">21</text>
<line x1="1089.5" y1="517.4" x2="1089.5" y2="521.2" stroke="#8a8a8a" stroke-width="0.9"/>
<text x="1099.6" y="534.0" font-size="11.7" text-anchor="middle" fill="#111">22</text>
<text x="888.0" y="548.7" font-size="12.9" text-anchor="middle" fill="#111">Chromosome</text>
<line x1="1154.2" y1="517.4" x2="1297.3" y2="332.6" stroke="#7a7a7a" stroke-width="0.9" stroke-dasharray="3.5 2"/>
<path d="M1153.7,517.2 L1184.2,475.6 L1201.4,450.4 L1213.3,432.3 L1222.6,419.1 L1234.6,406.6 L1243.8,396.3 L1250.5,390.2 L1256.3,386.2 L1256.3,380.1 L1257.6,368.1 L1259.8,363.4 L1266.4,360.7 L1267.2,354.4 L1268.2,352.8" fill="none" stroke="#2d5565" stroke-width="4.0" stroke-linecap="round" stroke-linejoin="round"/>
<path d="M1275.7,349.6 L1276.2,339.5" fill="none" stroke="#2d5565" stroke-width="4.0" stroke-linecap="round"/>
<circle cx="1282.6" cy="335.5" r="2.0" fill="#2d5565"/>
<circle cx="1294.2" cy="333.1" r="2.2" fill="#2d5565"/>
<line x1="1147.0" y1="287.2" x2="1147.0" y2="517.8" stroke="#8a8a8a" stroke-width="0.9"/>
<line x1="1146.6" y1="517.4" x2="1303.5" y2="517.4" stroke="#8a8a8a" stroke-width="0.9"/>
<line x1="1143.2" y1="517.4" x2="1147.0" y2="517.4" stroke="#8a8a8a" stroke-width="0.9"/>
<text x="1140.4" y="521.8" font-size="12.2" text-anchor="end" fill="#111">1</text>
<line x1="1143.2" y1="479.1" x2="1147.0" y2="479.1" stroke="#8a8a8a" stroke-width="0.9"/>
<text x="1140.4" y="483.5" font-size="12.2" text-anchor="end" fill="#111">2</text>
<line x1="1143.2" y1="440.7" x2="1147.0" y2="440.7" stroke="#8a8a8a" stroke-width="0.9"/>
<text x="1140.4" y="445.1" font-size="12.2" text-anchor="end" fill="#111">3</text>
<line x1="1143.2" y1="402.4" x2="1147.0" y2="402.4" stroke="#8a8a8a" stroke-width="0.9"/>
<text x="1140.4" y="406.8" font-size="12.2" text-anchor="end" fill="#111">4</text>
<line x1="1143.2" y1="364.1" x2="1147.0" y2="364.1" stroke="#8a8a8a" stroke-width="0.9"/>
<text x="1140.4" y="368.5" font-size="12.2" text-anchor="end" fill="#111">5</text>
<line x1="1143.2" y1="325.8" x2="1147.0" y2="325.8" stroke="#8a8a8a" stroke-width="0.9"/>
<text x="1140.4" y="330.1" font-size="12.2" text-anchor="end" fill="#111">6</text>
<line x1="1143.2" y1="287.4" x2="1147.0" y2="287.4" stroke="#8a8a8a" stroke-width="0.9"/>
<text x="1140.4" y="291.8" font-size="12.2" text-anchor="end" fill="#111">7</text>
<line x1="1154.2" y1="517.4" x2="1154.2" y2="521.2" stroke="#8a8a8a" stroke-width="0.9"/>
<text x="1154.2" y="532.7" font-size="12.2" text-anchor="middle" fill="#111">1</text>
<line x1="1184.1" y1="517.4" x2="1184.1" y2="521.2" stroke="#8a8a8a" stroke-width="0.9"/>
<text x="1184.1" y="532.7" font-size="12.2" text-anchor="middle" fill="#111">2</text>
<line x1="1213.9" y1="517.4" x2="1213.9" y2="521.2" stroke="#8a8a8a" stroke-width="0.9"/>
<text x="1213.9" y="532.7" font-size="12.2" text-anchor="middle" fill="#111">3</text>
<line x1="1243.8" y1="517.4" x2="1243.8" y2="521.2" stroke="#8a8a8a" stroke-width="0.9"/>
<text x="1243.8" y="532.7" font-size="12.2" text-anchor="middle" fill="#111">4</text>
<line x1="1273.7" y1="517.4" x2="1273.7" y2="521.2" stroke="#8a8a8a" stroke-width="0.9"/>
<text x="1273.7" y="532.7" font-size="12.2" text-anchor="middle" fill="#111">5</text>
<line x1="1303.5" y1="517.4" x2="1303.5" y2="521.2" stroke="#8a8a8a" stroke-width="0.9"/>
<text x="1303.5" y="532.7" font-size="12.2" text-anchor="middle" fill="#111">6</text>
<text x="1229.5" y="548.6" font-size="13.0" text-anchor="middle" fill="#111">Expected -Log10 (P)</text>
<text x="1127.0" y="396.8" font-size="13.0" text-anchor="middle" fill="#111" transform="rotate(-90 1127.0 396.8)">Observed -Log10 (P)</text>
<text x="1166" y="294.7" font-size="12.6" fill="#111"><tspan font-style="italic">λ</tspan><tspan font-size="8.6" font-style="italic" dy="2.6">GC</tspan><tspan dy="-2.6"> = 1.0202</tspan></text>
<path d="M1050.6,563.0 L1066.5,563.0 L1066.5,575.6 L1074.0,575.6 L1058.8,586.0 L1043.5,575.6 L1050.6,575.6" fill="#a9b5ca"/>
<text x="835.7" y="600.0" font-size="13.0" text-anchor="middle" fill="#222">Brain eQTL summary data</text>
<rect x="639.4" y="609.2" width="398.8" height="51" fill="#000" fill-opacity="0.10" rx="1"/>
<rect x="638.6" y="608.4" width="398.8" height="50.6" fill="#fff" stroke="#c9c9c9" stroke-width="0.8"/>
<rect x="638.6" y="608.4" width="398.8" height="25.6" fill="#56737f"/>
<text x="683.5" y="625.8" font-size="12" text-anchor="middle" font-weight="bold" fill="#fff">Variant</text>
<text x="683.5" y="650.5" font-size="11.9" text-anchor="middle" fill="#111">rs7650872</text>
<text x="749.6" y="625.8" font-size="12" text-anchor="middle" font-weight="bold" fill="#fff">Chr</text>
<text x="749.6" y="650.5" font-size="11.9" text-anchor="middle" fill="#111">3</text>
<text x="805.7" y="625.8" font-size="12" text-anchor="middle" font-weight="bold" fill="#fff">Gene</text>
<text x="805.7" y="650.5" font-size="11.9" text-anchor="middle" font-style="italic" fill="#111">RAB7A</text>
<text x="858.0" y="625.8" font-size="12" text-anchor="middle" font-weight="bold" fill="#fff">REF</text>
<text x="858.0" y="650.5" font-size="11.9" text-anchor="middle" fill="#111">T</text>
<text x="902.0" y="625.8" font-size="12" text-anchor="middle" font-weight="bold" fill="#fff">ALT</text>
<text x="902.0" y="650.5" font-size="12" text-anchor="middle" font-weight="bold" fill="#c00000">C</text>
<text x="957.0" y="625.8" font-size="12" text-anchor="middle" font-weight="bold" fill="#fff">Z score</text>
<text x="957.0" y="650.5" font-size="11.9" text-anchor="middle" fill="#111">2.40</text>
<text x="1012.0" y="625.8" font-size="12" text-anchor="middle" font-weight="bold" font-style="italic" fill="#fff">P</text>
<text x="1012.0" y="650.5" font-size="11.9" text-anchor="middle" fill="#111">0.016</text>
<line x1="1123.4" y1="595.2" x2="1123.4" y2="640.8" stroke="#e6e6e6" stroke-width="0.8"/>
<line x1="1152.3" y1="595.2" x2="1152.3" y2="640.8" stroke="#e6e6e6" stroke-width="0.8"/>
<line x1="1181.2" y1="595.2" x2="1181.2" y2="640.8" stroke="#e6e6e6" stroke-width="0.8"/>
<line x1="1210.1" y1="595.2" x2="1210.1" y2="640.8" stroke="#e6e6e6" stroke-width="0.8"/>
<line x1="1239.0" y1="595.2" x2="1239.0" y2="640.8" stroke="#e6e6e6" stroke-width="0.8"/>
<rect x="1094.5" y="601.5" width="144.5" height="15.2" fill="#b5d1d5"/>
<rect x="1094.5" y="601.5" width="128.0" height="15.2" fill="#cd735e"/>
<rect x="1094.5" y="620.6" width="144.5" height="15.2" fill="#b5d1d5"/>
<rect x="1094.5" y="620.6" width="93.1" height="15.2" fill="#cd735e"/>
<line x1="1094.5" y1="595.2" x2="1094.5" y2="640.8" stroke="#b5b5b5" stroke-width="0.9"/>
<line x1="1094.5" y1="640.8" x2="1239.0" y2="640.8" stroke="#b5b5b5" stroke-width="0.9"/>
<text x="1094.5" y="654.0" font-size="12.2" text-anchor="middle" fill="#111">0</text>
<text x="1123.4" y="654.0" font-size="12.2" text-anchor="middle" fill="#111">20</text>
<text x="1152.3" y="654.0" font-size="12.2" text-anchor="middle" fill="#111">40</text>
<text x="1181.2" y="654.0" font-size="12.2" text-anchor="middle" fill="#111">60</text>
<text x="1210.1" y="654.0" font-size="12.2" text-anchor="middle" fill="#111">80</text>
<text x="1239.0" y="654.0" font-size="12.2" text-anchor="middle" fill="#111">100</text>
<text x="1087.8" y="613.1" font-size="12.3" text-anchor="end" fill="#111">TR</text>
<text x="1088.6" y="632.7" font-size="12.3" text-anchor="end" fill="#111">NTR</text>
<text x="1169.1" y="667.0" font-size="11.8" text-anchor="middle" fill="#111">Percentage</text>
<text x="1170.2" y="590.3" font-size="14.2" text-anchor="middle" fill="#222"><tspan font-style="italic">P</tspan> = 1.35×10<tspan font-size="8" dy="-5.6">-4</tspan></text>
<rect x="1243.4" y="605.4" width="65.9" height="29.8" fill="#fff" stroke="#e2e2e2" stroke-width="0.8" rx="2"/>
<line x1="1245.8" y1="612.8" x2="1266.9" y2="612.8" stroke="#cd735e" stroke-width="2.0"/>
<line x1="1245.8" y1="626.1" x2="1266.9" y2="626.1" stroke="#b5d1d5" stroke-width="2.0"/>
<text x="1273.8" y="616.1" font-size="9.3" fill="#111">TC+CC</text>
<text x="1273.8" y="629.4" font-size="9.3" fill="#111">TT</text>
<path d="M18.2,680.2V693.6H1288.6V680.2" fill="none" stroke="#a4afc8" stroke-width="1.0" stroke-dasharray="2.4 1.8"/>
<text x="1.5" y="742.0" font-size="21.5" font-weight="bold" fill="#1a1210">f</text>
<path d="M293.6,707.0 L310.6,707.0 L310.6,719.8 L317.0,719.8 L302.0,729.6 L287.0,719.8 L293.6,719.8" fill="#a9b5ca"/>
<text x="417.0" y="736.4" font-size="12.2" text-anchor="middle" fill="#111">KEGG</text>
<rect x="117.9" y="752.1" width="185.1" height="13.6" fill="#cdd8e8" rx="2"/>
<rect x="127.7" y="938.1" width="175.3" height="13.6" fill="#f2d4cc" rx="2"/>
<rect x="163.0" y="964.6" width="140.0" height="13.8" fill="#f2d4cc" rx="2"/>
<rect x="305.5" y="753.4" width="211.9" height="9.4" fill="#3f6fb3"/>
<line x1="300.0" y1="758.1" x2="305.5" y2="758.1" stroke="#666" stroke-width="0.8"/>
<text x="299.2" y="762.6" font-size="12.4" text-anchor="end" fill="#1a1a1a">Glycerophospholipid metabolism</text>
<rect x="305.5" y="766.7" width="187.3" height="9.4" fill="#84a0a8"/>
<line x1="300.0" y1="771.4" x2="305.5" y2="771.4" stroke="#666" stroke-width="0.8"/>
<text x="299.2" y="775.9" font-size="12.4" text-anchor="end" fill="#1a1a1a">beta-Alanine metabolism</text>
<rect x="305.5" y="780.0" width="136.6" height="9.4" fill="#84a0a8"/>
<line x1="300.0" y1="784.7" x2="305.5" y2="784.7" stroke="#666" stroke-width="0.8"/>
<text x="299.2" y="789.2" font-size="12.4" text-anchor="end" fill="#1a1a1a">Autophagy - other</text>
<rect x="305.5" y="793.4" width="132.4" height="9.4" fill="#84a0a8"/>
<line x1="300.0" y1="798.1" x2="305.5" y2="798.1" stroke="#666" stroke-width="0.8"/>
<text x="299.2" y="802.6" font-size="12.4" text-anchor="end" fill="#1a1a1a">Leishmaniasis</text>
<rect x="305.5" y="806.7" width="123.0" height="9.4" fill="#84a0a8"/>
<line x1="300.0" y1="811.4" x2="305.5" y2="811.4" stroke="#666" stroke-width="0.8"/>
<text x="299.2" y="815.9" font-size="12.4" text-anchor="end" fill="#1a1a1a">Central carbon metabolism in cancer</text>
<rect x="305.5" y="820.0" width="120.9" height="9.4" fill="#84a0a8"/>
<line x1="300.0" y1="824.7" x2="305.5" y2="824.7" stroke="#666" stroke-width="0.8"/>
<text x="299.2" y="829.2" font-size="12.4" text-anchor="end" fill="#1a1a1a">Systemic lupus erythematosus</text>
<rect x="305.5" y="833.3" width="119.6" height="9.4" fill="#84a0a8"/>
<line x1="300.0" y1="838.0" x2="305.5" y2="838.0" stroke="#666" stroke-width="0.8"/>
<text x="299.2" y="842.5" font-size="12.4" text-anchor="end" fill="#1a1a1a">Aminoacyl-tRNA biosynthesis</text>
<rect x="305.5" y="846.6" width="110.2" height="9.4" fill="#84a0a8"/>
<line x1="300.0" y1="851.3" x2="305.5" y2="851.3" stroke="#666" stroke-width="0.8"/>
<text x="299.2" y="855.8" font-size="12.4" text-anchor="end" fill="#1a1a1a">Kaposi sarcoma-associated herpesvirus infection</text>
<rect x="305.5" y="859.9" width="109.4" height="9.4" fill="#84a0a8"/>
<line x1="300.0" y1="864.6" x2="305.5" y2="864.6" stroke="#666" stroke-width="0.8"/>
<text x="299.2" y="869.1" font-size="12.4" text-anchor="end" fill="#1a1a1a">Amoebiasis</text>
<rect x="305.5" y="873.2" width="109.4" height="9.4" fill="#84a0a8"/>
<line x1="300.0" y1="878.0" x2="305.5" y2="878.0" stroke="#666" stroke-width="0.8"/>
<text x="299.2" y="882.5" font-size="12.4" text-anchor="end" fill="#1a1a1a">Retrograde endocannabinoid signaling</text>
<rect x="305.5" y="886.6" width="106.4" height="9.4" fill="#84a0a8"/>
<line x1="300.0" y1="891.3" x2="305.5" y2="891.3" stroke="#666" stroke-width="0.8"/>
<text x="299.2" y="895.8" font-size="12.4" text-anchor="end" fill="#1a1a1a">Necroptosis</text>
<rect x="305.5" y="899.9" width="105.1" height="9.4" fill="#84a0a8"/>
<line x1="300.0" y1="904.6" x2="305.5" y2="904.6" stroke="#666" stroke-width="0.8"/>
<text x="299.2" y="909.1" font-size="12.4" text-anchor="end" fill="#1a1a1a">Histidine metabolism</text>
<rect x="305.5" y="913.2" width="83.4" height="9.4" fill="#84a0a8"/>
<line x1="300.0" y1="917.9" x2="305.5" y2="917.9" stroke="#666" stroke-width="0.8"/>
<text x="299.2" y="922.4" font-size="12.4" text-anchor="end" fill="#1a1a1a">Autophagy - animal</text>
<rect x="305.5" y="926.5" width="76.2" height="9.4" fill="#84a0a8"/>
<line x1="300.0" y1="931.2" x2="305.5" y2="931.2" stroke="#666" stroke-width="0.8"/>
<text x="299.2" y="935.7" font-size="12.4" text-anchor="end" fill="#1a1a1a">Choline metabolism in cancer</text>
<rect x="305.5" y="939.8" width="75.8" height="9.4" fill="#c8715b"/>
<line x1="300.0" y1="944.5" x2="305.5" y2="944.5" stroke="#666" stroke-width="0.8"/>
<text x="299.2" y="949.0" font-size="12.4" text-anchor="end" fill="#1a1a1a">Sphingolipid signaling pathway</text>
<rect x="305.5" y="953.1" width="67.3" height="9.4" fill="#84a0a8"/>
<line x1="300.0" y1="957.9" x2="305.5" y2="957.9" stroke="#666" stroke-width="0.8"/>
<text x="299.2" y="962.4" font-size="12.4" text-anchor="end" fill="#1a1a1a">Phenylalanine, tyrosine and tryptophan biosynthesis</text>
<rect x="305.5" y="966.5" width="66.4" height="9.4" fill="#c8715b"/>
<line x1="300.0" y1="971.2" x2="305.5" y2="971.2" stroke="#666" stroke-width="0.8"/>
<text x="299.2" y="975.7" font-size="12.4" text-anchor="end" fill="#1a1a1a">Sphingolipid metabolism</text>
<rect x="305.5" y="979.8" width="64.3" height="9.4" fill="#84a0a8"/>
<line x1="300.0" y1="984.5" x2="305.5" y2="984.5" stroke="#666" stroke-width="0.8"/>
<text x="299.2" y="989.0" font-size="12.4" text-anchor="end" fill="#1a1a1a">ABC transporters</text>
<rect x="305.5" y="993.1" width="63.9" height="9.4" fill="#84a0a8"/>
<line x1="300.0" y1="997.8" x2="305.5" y2="997.8" stroke="#666" stroke-width="0.8"/>
<text x="299.2" y="1002.3" font-size="12.4" text-anchor="end" fill="#1a1a1a">Vitamin digestion and absorption</text>
<rect x="305.5" y="1006.4" width="59.2" height="9.4" fill="#84a0a8"/>
<line x1="300.0" y1="1011.1" x2="305.5" y2="1011.1" stroke="#666" stroke-width="0.8"/>
<text x="299.2" y="1015.6" font-size="12.4" text-anchor="end" fill="#1a1a1a">Pantothenate and CoA biosynthesis</text>
<rect x="305.5" y="1019.7" width="54.5" height="9.4" fill="#84a0a8"/>
<line x1="300.0" y1="1024.4" x2="305.5" y2="1024.4" stroke="#666" stroke-width="0.8"/>
<text x="299.2" y="1028.9" font-size="12.4" text-anchor="end" fill="#1a1a1a">Linoleic acid metabolism</text>
<rect x="305.5" y="1033.0" width="47.7" height="9.4" fill="#84a0a8"/>
<line x1="300.0" y1="1037.8" x2="305.5" y2="1037.8" stroke="#666" stroke-width="0.8"/>
<text x="299.2" y="1042.2" font-size="12.4" text-anchor="end" fill="#1a1a1a">alpha-Linolenic acid metabolism</text>
<rect x="305.5" y="1046.4" width="45.1" height="9.4" fill="#84a0a8"/>
<line x1="300.0" y1="1051.1" x2="305.5" y2="1051.1" stroke="#666" stroke-width="0.8"/>
<text x="299.2" y="1055.6" font-size="12.4" text-anchor="end" fill="#1a1a1a">Phenylalanine metabolism</text>
<rect x="305.5" y="1059.7" width="40.5" height="9.4" fill="#84a0a8"/>
<line x1="300.0" y1="1064.4" x2="305.5" y2="1064.4" stroke="#666" stroke-width="0.8"/>
<text x="299.2" y="1068.9" font-size="12.4" text-anchor="end" fill="#1a1a1a">Glycine, serine and threonine metabolism</text>
<rect x="305.5" y="1073.0" width="29.4" height="9.4" fill="#84a0a8"/>
<line x1="300.0" y1="1077.7" x2="305.5" y2="1077.7" stroke="#666" stroke-width="0.8"/>
<text x="299.2" y="1082.2" font-size="12.4" text-anchor="end" fill="#1a1a1a">Arachidonic acid metabolism</text>
<rect x="305.5" y="744.5" width="222.5" height="346.4" fill="none" stroke="#555" stroke-width="0.9"/>
<line x1="305.5" y1="1090.9" x2="305.5" y2="1094.6" stroke="#555" stroke-width="0.8"/>
<text x="305.5" y="1105.2" font-size="11.5" text-anchor="middle" fill="#222">0</text>
<line x1="352.8" y1="1090.9" x2="352.8" y2="1094.6" stroke="#555" stroke-width="0.8"/>
<text x="352.8" y="1105.2" font-size="11.5" text-anchor="middle" fill="#222">1</text>
<line x1="400.2" y1="1090.9" x2="400.2" y2="1094.6" stroke="#555" stroke-width="0.8"/>
<text x="400.2" y="1105.2" font-size="11.5" text-anchor="middle" fill="#222">2</text>
<line x1="447.5" y1="1090.9" x2="447.5" y2="1094.6" stroke="#555" stroke-width="0.8"/>
<text x="447.5" y="1105.2" font-size="11.5" text-anchor="middle" fill="#222">3</text>
<line x1="494.9" y1="1090.9" x2="494.9" y2="1094.6" stroke="#555" stroke-width="0.8"/>
<text x="494.9" y="1105.2" font-size="11.5" text-anchor="middle" fill="#222">4</text>
<text x="417.0" y="1120.7" font-size="12.2" text-anchor="middle" fill="#222">-log10 (integ Pvalue)</text>
<rect x="371.5" y="1042.3" width="152.8" height="43.4" fill="#fff" stroke="#dcdcdc" stroke-width="0.8" rx="2"/>
<line x1="374.5" y1="1051.7" x2="394.9" y2="1051.7" stroke="#3f6fb3" stroke-width="2.2"/>
<text x="401.3" y="1054.9" font-size="9.0" fill="#222">Glycerophospholipid pathway</text>
<line x1="374.5" y1="1064.9" x2="394.9" y2="1064.9" stroke="#c8715b" stroke-width="2.2"/>
<text x="401.3" y="1068.1" font-size="9.0" fill="#222">Sphingolipid pathway</text>
<line x1="374.5" y1="1077.7" x2="394.9" y2="1077.7" stroke="#84a0a8" stroke-width="2.2"/>
<text x="401.3" y="1080.9" font-size="9.0" fill="#222">Other pathway</text>
<text x="604.5" y="741.5" font-size="21.5" font-weight="bold" fill="#1a1210">g</text>
<path d="M562.2,919.2 L576.5,919.2 L576.5,910.5 L587.8,927.5 L576.5,944.4 L576.5,936.2 L562.2,936.2" fill="#a9b5ca"/>
<defs><linearGradient id="eg" x1="0" y1="1" x2="0" y2="0"><stop offset="0" stop-color="#2a2a2a"/><stop offset="0.4" stop-color="#4a4a4a"/><stop offset="0.6" stop-color="#8a8a8a"/><stop offset="1" stop-color="#dedede"/></linearGradient><linearGradient id="eg2" x1="0" y1="1" x2="0" y2="0"><stop offset="0" stop-color="#3a3a3a"/><stop offset="0.5" stop-color="#5a5a5a"/><stop offset="1" stop-color="#c4c4c4"/></linearGradient><linearGradient id="sh" x1="0" y1="1" x2="0" y2="0"><stop offset="0" stop-color="#000" stop-opacity="0.045"/><stop offset="0.14" stop-color="#000" stop-opacity="0"/></linearGradient></defs>
<ellipse cx="737.7" cy="1011.8" rx="127.3" ry="63.4" transform="rotate(45 737.7 1011.8)" fill="#fbfbfb" fill-opacity="1" stroke="url(#eg2)" stroke-width="0.75"/>
<ellipse cx="828.3" cy="909.7" rx="166.7" ry="74.2" transform="rotate(45.4 828.3 909.7)" fill="#fafafa" fill-opacity="0.86" stroke="url(#eg)" stroke-width="0.8"/>
<ellipse cx="923.5" cy="842.9" rx="134.2" ry="50.1" transform="rotate(45 923.5 842.9)" fill="#f7f7f6" fill-opacity="0.86" stroke="url(#eg)" stroke-width="0.8"/>
<ellipse cx="923.5" cy="842.9" rx="134.2" ry="50.1" transform="rotate(45 923.5 842.9)" fill="url(#sh)"/>
<text x="814.6" y="736.3" font-size="15.1" fill="#111">Genomics</text>
<text x="696.0" y="775.6" font-size="15.1" fill="#111">Proteomics</text>
<text x="613.6" y="903.5" font-size="15.1" fill="#111">Metabolomics</text>
<path d="M739.5,829.3Q739.3,814.6 739.1,799.9M739.5,829.3Q744.7,813.8 749.9,798.4M739.5,829.3Q734.0,817.0 728.4,804.7M739.5,829.3Q729.4,820.8 719.2,812.4M739.5,829.3Q726.2,825.6 712.8,822.0M739.5,829.3Q749.5,820.8 759.5,812.4M739.5,829.3Q754.5,824.9 769.5,820.5M739.5,829.3Q754.1,829.0 768.6,828.7M739.5,829.3Q753.3,837.4 767.1,845.5M739.5,829.3Q748.5,839.4 757.5,849.5M739.5,829.3Q738.9,841.8 738.3,854.3M739.5,829.3Q741.0,822.4 742.4,815.4M739.5,829.3Q748.8,817.0 758.1,804.7M739.5,829.3Q736.8,823.2 734.1,817.1M739.5,829.3Q744.6,823.2 749.6,817.1M739.5,829.3Q733.0,824.9 726.5,820.5M739.5,829.3Q732.1,827.9 724.7,826.5M739.5,829.3Q747.1,825.2 754.7,821.2M739.5,829.3Q747.1,829.8 754.6,830.3M739.5,829.3Q731.5,832.2 723.4,835.0M739.5,829.3Q747.4,832.9 755.3,836.6M739.5,829.3Q744.8,836.3 750.0,843.3M739.5,829.3Q739.1,837.4 738.6,845.5M739.5,829.3Q734.2,836.2 728.9,843.1M794.9,888.2Q788.9,872.3 779.4,858.3M794.9,888.2Q783.1,874.8 768.4,864.5M794.9,888.2Q778.1,886.0 761.3,887.8M794.9,888.2Q785.2,892.9 776.9,899.6M794.9,888.2Q787.7,897.6 783.0,908.4M794.9,888.2Q809.4,890.7 824.0,889.8M794.9,888.2Q794.4,871.4 790.0,855.1M794.9,888.2Q782.2,890.7 770.5,896.1M794.9,888.2Q790.4,891.7 787.0,896.1M794.9,888.2Q793.0,894.2 792.6,900.4M794.9,888.2Q791.4,877.6 785.4,868.0M794.9,888.2Q794.3,876.9 791.1,866.0M794.9,888.2Q798.2,877.2 798.8,865.7M794.9,888.2Q802.0,878.7 806.7,867.7M794.9,888.2Q807.7,876.7 817.4,862.4M794.9,888.2Q803.9,882.4 811.3,874.6M794.9,888.2Q807.3,883.1 818.1,875.2M794.9,888.2Q811.5,882.8 826.5,873.6M794.9,888.2Q804.3,886.3 813.1,882.2M794.9,888.2Q803.4,890.8 812.3,891.3M794.9,888.2Q808.6,896.0 823.7,900.2M868.9,939.2Q866.4,919.1 864.0,899.0M868.9,939.2Q850.9,926.3 832.9,913.3M868.9,939.2Q871.7,924.8 874.5,910.3M868.9,939.2Q878.7,925.7 888.5,912.2M868.9,939.2Q859.7,929.5 850.6,919.8M868.9,939.2Q877.3,930.1 885.8,920.9M868.9,939.2Q855.3,932.8 841.7,926.3M868.9,939.2Q853.4,937.4 837.9,935.6M868.9,939.2Q853.2,940.6 837.5,941.9M868.9,939.2Q854.5,943.4 840.1,947.5M868.9,939.2Q849.6,947.2 830.2,955.1M868.9,939.2Q881.1,938.6 893.4,938.0M868.9,939.2Q880.8,942.3 892.8,945.4M868.9,939.2Q887.1,936.5 905.3,933.8M868.9,939.2Q890.4,939.8 911.9,940.4M868.9,939.2Q889.9,945.3 910.9,951.3M868.9,939.2Q877.9,946.8 886.9,954.4M868.9,939.2Q874.8,951.2 880.7,963.1M868.9,939.2Q858.9,949.9 849.0,960.6M868.9,939.2Q861.7,952.2 854.4,965.2M868.9,939.2Q866.4,953.1 864.0,966.9M868.9,939.2Q871.8,954.4 874.8,969.5M868.9,939.2Q880.1,954.6 891.3,969.9M868.9,939.2Q871.8,960.2 874.8,981.2M868.9,939.2Q877.6,960.2 886.4,981.2M868.9,939.2Q879.1,920.5 889.3,901.8M868.9,939.2Q857.1,925.4 845.3,911.6M868.9,939.2Q876.0,941.6 883.1,944.0M868.9,939.2Q862.9,945.3 857.0,951.3M868.9,939.2Q860.7,921.3 852.5,903.3M868.9,939.2Q873.3,921.1 877.6,903.0M868.9,939.2Q883.8,923.7 898.6,908.2M868.9,939.2Q865.9,924.9 862.8,910.6M868.9,939.2Q868.8,924.4 868.7,909.6M868.9,939.2Q863.9,926.3 858.9,913.3M868.9,939.2Q884.2,928.9 899.4,918.6M868.9,939.2Q855.9,930.2 843.0,921.3M868.9,939.2Q866.4,931.8 864.0,924.4M868.9,939.2Q869.1,931.6 869.2,924.0M868.9,939.2Q871.0,932.1 873.2,924.9M868.9,939.2Q872.6,933.0 876.4,926.8M868.9,939.2Q874.6,934.5 880.4,929.7M868.9,939.2Q861.9,935.8 854.9,932.4M868.9,939.2Q859.9,937.4 850.9,935.6M868.9,939.2Q886.6,931.6 904.2,924.0M868.9,939.2Q889.2,934.5 909.5,929.7M868.9,939.2Q876.2,936.8 883.5,934.3M868.9,939.2Q880.4,936.6 891.8,934.0M868.9,939.2Q864.1,941.0 859.3,942.7M868.9,939.2Q876.5,939.2 884.0,939.1M868.9,939.2Q859.9,939.2 850.9,939.2M868.9,939.2Q849.6,943.0 830.2,946.7M868.9,939.2Q853.9,947.1 839.0,955.0M868.9,939.2Q866.3,947.4 863.6,955.5M868.9,939.2Q868.8,947.8 868.7,956.4M868.9,939.2Q871.5,947.2 874.1,955.1M868.9,939.2Q883.5,945.2 898.2,951.2M868.9,939.2Q886.0,947.6 903.1,955.9M868.9,939.2Q887.4,952.8 906.0,966.3M868.9,939.2Q877.0,955.1 885.1,970.9M868.9,939.2Q864.5,957.1 860.1,974.9M868.9,939.2Q867.7,957.2 866.5,975.2M739.5,829.3Q756.6,868.7 794.9,888.2M794.9,888.2Q839.5,902.6 868.9,939.2M794.9,888.2Q797.3,907.2 803.5,925.4M739.5,829.3Q753.6,851.7 779.4,858.3M739.5,829.3Q745.2,854.1 768.4,864.5M760.4,870.8Q759.1,879.4 761.3,887.8M729.1,870.8Q735.4,872.0 741.7,873.2M741.7,873.2Q750.8,870.1 760.4,870.8M835.1,766.5Q792.1,783.9 739.5,829.3M835.1,766.5Q816.9,806.5 794.9,888.2M847.3,773.6Q798.8,790.4 739.5,829.3M847.3,773.6Q816.9,813.6 794.9,888.2M858.6,780.7Q805.0,797.0 739.5,829.3M858.6,780.7Q816.9,820.7 794.9,888.2M865.9,788.1Q859.9,853.2 794.9,888.2M865.9,788.1Q863.9,878.8 868.9,939.2M875.9,796.7Q869.9,856.2 794.9,888.2M885.8,804.5Q879.8,858.9 794.9,888.2M885.8,804.5Q883.8,885.4 868.9,939.2M891.3,811.1Q885.3,861.2 794.9,888.2M909.5,823.1Q905.5,904.4 868.9,939.2M917.5,828.0Q913.5,905.9 868.9,939.2M927.7,835.5Q923.7,908.1 868.9,939.2M927.7,835.5Q917.7,877.7 794.9,888.2M937.8,841.8Q933.8,910.0 868.9,939.2M947.7,848.2Q943.7,911.9 868.9,939.2M955.3,854.2Q951.3,913.7 868.9,939.2M955.3,854.2Q945.3,881.4 794.9,888.2M966.3,863.6Q962.3,916.5 868.9,939.2M975.5,871.7Q971.5,919.0 868.9,939.2M996.7,894.0Q951.9,896.0 868.9,939.2M1001.8,902.1Q955.3,904.1 868.9,939.2M1008.0,910.2Q959.3,912.2 868.9,939.2M1012.4,918.0Q962.2,920.0 868.9,939.2M988.2,885.3Q934.5,888.3 868.9,939.2M988.2,885.3Q952.4,888.3 868.9,939.2M988.2,885.3Q910.9,888.3 794.9,888.2M988.2,885.3Q952.7,888.3 899.4,918.6M988.2,885.3Q966.7,888.3 916.6,912.7M988.2,885.3Q955.8,888.3 923.5,934.3M692.7,941.8Q728.6,915.4 729.1,870.8M703.8,949.7Q734.0,920.6 733.0,878.7M713.8,956.5Q751.3,931.6 761.3,887.8M713.8,956.5Q757.3,940.5 770.5,896.1M725.1,965.4Q759.3,938.1 801.8,949.0M801.8,949.0Q816.3,950.7 830.2,955.1M801.8,949.0Q834.4,937.4 868.9,939.2M765.4,987.8Q783.5,975.3 787.9,953.7M765.4,987.8Q786.9,982.1 801.8,965.4M776.2,996.1Q792.7,983.9 801.8,965.4M765.4,987.8Q791.3,975.7 801.8,949.0M776.2,996.1Q796.1,976.4 801.8,949.0M728.5,1016.6Q694.0,929.8 728.9,843.1M728.5,1016.6Q711.3,943.6 729.1,870.8M728.5,1016.6Q810.7,911.6 943.2,926.8M793.5,1056.5Q825.0,947.3 938.4,939.6M684.8,973.3Q737.3,940.5 733.0,878.7M801.8,965.4Q858.4,1006.0 926.2,1021.7" fill="none" stroke="#cfcfcf" stroke-width="0.45" stroke-opacity="0.8"/>
<path d="M803.5,925.4C763.5,933.4 734.5,966.6 728.5,1016.6" fill="none" stroke="#2f66b0" stroke-width="1.25"/>
<path d="M684.8,978.3C687.8,995.3 706.5,1011.6 724.5,1015.6" fill="none" stroke="#2f74c4" stroke-width="1.25" stroke-dasharray="4.2 1.5 1.2 1.5"/>
<path d="M730.5,1020.6C740.5,1042.6 763.5,1058.5 789.5,1056.5" fill="none" stroke="#d9534a" stroke-width="1.15" stroke-dasharray="5.5 1.8 1.6 1.8"/>
<path d="M795.5,1052.5C811.5,1024.5 866.2,1011.7 924.7,1021.7" fill="none" stroke="#d9534a" stroke-width="1.15"/>
<path d="M985.5,889.5C965.5,907.7 948.8,961.8 948.0,1002.4" fill="none" stroke="#d9534a" stroke-width="1.15" stroke-dasharray="5.5 1.8 1.6 1.8"/>
<path d="M948.0,1003.4 L930.8,1004.8" fill="none" stroke="#d9534a" stroke-width="1.15" stroke-dasharray="5.5 1.8 1.6 1.8"/>
<path d="M930.8,1004.8 L916.5,982.4" fill="none" stroke="#d9534a" stroke-width="1.15" stroke-dasharray="5.5 1.8 1.6 1.8"/>
<path d="M930.8,1004.8 L926.2,1021.7" fill="none" stroke="#d9534a" stroke-width="1.15" stroke-dasharray="5.5 1.8 1.6 1.8"/>
<path d="M758.1,804.7h0M734.1,817.1h0M749.6,817.1h0M726.5,820.5h0M724.7,826.5h0M754.7,821.2h0M754.6,830.3h0M723.4,835.0h0M755.3,836.6h0M750.0,843.3h0M738.6,845.5h0M774.7,852.1h0M790.0,855.1h0M734.8,863.9h0M750.8,870.3h0M733.0,878.7h0M758.8,879.4h0M770.5,896.1h0M787.0,896.1h0M792.6,900.4h0M785.4,868.0h0M791.1,866.0h0M798.8,865.7h0M806.7,867.7h0M817.4,862.4h0M824.2,863.2h0M831.3,863.9h0M811.3,874.6h0M818.1,875.2h0M826.5,873.6h0M813.1,882.2h0M812.3,891.3h0M823.7,900.2h0M848.5,857.8h0M866.8,871.6h0M846.9,878.8h0M843.3,883.9h0M862.5,889.9h0M869.5,888.6h0M856.0,892.9h0M885.9,889.4h0M852.5,903.3h0M877.6,903.0h0M898.6,908.2h0M862.8,910.6h0M868.7,909.6h0M858.9,913.3h0M916.6,912.7h0M899.4,918.6h0M843.0,921.3h0M864.0,924.4h0M869.2,924.0h0M873.2,924.9h0M876.4,926.8h0M880.4,929.7h0M854.9,932.4h0M850.9,935.6h0M904.2,924.0h0M909.5,929.7h0M883.5,934.3h0M891.8,934.0h0M923.5,934.3h0M926.2,939.9h0M928.1,946.2h0M859.3,942.7h0M884.0,939.1h0M850.9,939.2h0M830.2,946.7h0M839.0,955.0h0M863.6,955.5h0M868.7,956.4h0M874.1,955.1h0M898.2,951.2h0M903.1,955.9h0M906.0,966.3h0M901.2,972.6h0M885.1,970.9h0M860.1,974.9h0M866.5,975.2h0M895.1,981.2h0M920.9,974.6h0" fill="none" stroke="#c6e6dd" stroke-width="3.3" stroke-linecap="round"/>
<circle cx="801.8" cy="949.0" r="2.3" fill="#c6e6dd"/>
<circle cx="930.8" cy="1004.8" r="2.1" fill="#c6e6dd"/>
<circle cx="948.0" cy="1003.4" r="2.1" fill="#c6e6dd"/>
<path d="M739.1,799.9h0M749.9,798.4h0M728.4,804.7h0M719.2,812.4h0M712.8,822.0h0M759.5,812.4h0M769.5,820.5h0M768.6,828.7h0M739.5,829.3h0M775.1,837.5h0M767.1,845.5h0M757.5,849.5h0M779.4,858.3h0M768.4,864.5h0M738.3,854.3h0M741.7,873.2h0M760.4,870.8h0M761.3,887.8h0M794.9,888.2h0M776.9,899.6h0M783.0,908.4h0M843.3,864.8h0M841.1,874.0h0M859.3,878.0h0M873.0,882.1h0M833.9,883.9h0M852.5,883.5h0M824.0,889.8h0M846.0,891.5h0M877.6,893.7h0M893.9,896.3h0M864.0,899.0h0M839.1,902.5h0M832.9,913.3h0M874.5,910.3h0M888.5,912.2h0M850.6,919.8h0M885.8,920.9h0M824.7,926.0h0M841.7,926.3h0M837.9,935.6h0M837.5,941.9h0M840.1,947.5h0M830.2,955.1h0M868.9,939.2h0M893.4,938.0h0M892.8,945.4h0M905.3,933.8h0M911.9,940.4h0M919.5,948.3h0M910.9,951.3h0M916.9,955.5h0M912.0,961.0h0M886.9,954.4h0M880.7,963.1h0M849.0,960.6h0M854.4,965.2h0M864.0,966.9h0M874.8,969.5h0M891.3,969.9h0M874.8,981.2h0M886.4,981.2h0M864.0,985.7h0M907.4,986.7h0M895.8,991.6h0" fill="none" stroke="#66b89f" stroke-width="3.6" stroke-linecap="round"/>
<circle cx="742.4" cy="815.4" r="1.75" fill="#eef8f5" stroke="#c9564b" stroke-width="0.9"/>
<circle cx="889.3" cy="901.8" r="1.75" fill="#eef8f5" stroke="#c9564b" stroke-width="0.9"/>
<circle cx="845.3" cy="911.6" r="1.75" fill="#eef8f5" stroke="#c9564b" stroke-width="0.9"/>
<circle cx="883.1" cy="944.0" r="1.75" fill="#eef8f5" stroke="#c9564b" stroke-width="0.9"/>
<circle cx="857.0" cy="951.3" r="1.75" fill="#eef8f5" stroke="#c9564b" stroke-width="0.9"/>
<circle cx="728.9" cy="843.1" r="1.7" fill="#f2fbf8" stroke="#2f6db5" stroke-width="1.0"/>
<circle cx="787.9" cy="953.7" r="1.7" fill="#f2fbf8" stroke="#2f6db5" stroke-width="1.0"/>
<circle cx="801.8" cy="965.4" r="1.7" fill="#f2fbf8" stroke="#2f6db5" stroke-width="1.0"/>
<circle cx="729.1" cy="870.8" r="1.7" fill="#66b89f" stroke="#1f5fa8" stroke-width="1.0"/>
<circle cx="916.5" cy="982.4" r="1.9" fill="#66b89f" stroke="#c9564b" stroke-width="0.9"/>
<circle cx="926.2" cy="1021.7" r="1.8" fill="#d9efe9" stroke="#c9564b" stroke-width="0.9"/>
<path d="M835.1,766.5h0M847.3,773.6h0M858.6,780.7h0M865.9,788.1h0M875.9,796.7h0M885.8,804.5h0M891.3,811.1h0M909.5,823.1h0M917.5,828.0h0M927.7,835.5h0M937.8,841.8h0M947.7,848.2h0M955.3,854.2h0M966.3,863.6h0M975.5,871.7h0M996.7,894.0h0M1001.8,902.1h0M1008.0,910.2h0M1012.4,918.0h0" fill="none" stroke="#5e9bcf" stroke-width="3.7" stroke-linecap="round"/>
<circle cx="988.2" cy="885.3" r="5.7" fill="#5e9bcf"/>
<path d="M692.7,941.8h0M703.8,949.7h0M713.8,956.5h0M725.1,965.4h0" fill="none" stroke="#fbe0a3" stroke-width="3.8" stroke-linecap="round"/>
<circle cx="765.4" cy="987.8" r="1.7" fill="#f3b51f" stroke="#6b6b3a" stroke-width="0.6"/>
<circle cx="776.2" cy="996.1" r="1.7" fill="#f3b51f" stroke="#6b6b3a" stroke-width="0.6"/>
<circle cx="684.8" cy="973.3" r="5.7" fill="#f3b51f"/>
<circle cx="728.5" cy="1016.6" r="4.6" fill="#f3b51f" stroke="#2a5fab" stroke-width="1.2"/>
<circle cx="793.5" cy="1056.5" r="4.7" fill="#f3b51f" stroke="#d8432f" stroke-width="1.0"/>
<circle cx="803.5" cy="925.4" r="5.0" fill="#7cc4ae" stroke="#1d59a6" stroke-width="1.1"/>
<g font-size="3.7" fill="#5a5a5a" text-rendering="geometricPrecision">
<text x="737.1" y="805.4">CDH11</text>
<text x="747.9" y="803.9">PCOLCE2</text>
<text x="726.4" y="810.2">LBP</text>
<text x="717.2" y="817.9">NEO1</text>
<text x="710.8" y="827.5">DAG1</text>
<text x="757.5" y="817.9">IGFBP1</text>
<text x="767.5" y="826.0">PRSS3</text>
<text x="766.6" y="834.2">PVR</text>
<text x="737.5" y="834.8">TIMP4</text>
<text x="773.1" y="843.0">ANTXR1</text>
<text x="765.1" y="851.0">BHMT</text>
<text x="755.5" y="855.0">MAN2A2</text>
<text x="777.4" y="863.8">RAB14</text>
<text x="766.4" y="870.0">YWHAH</text>
<text x="736.3" y="859.8">CRELD1</text>
<text x="739.7" y="878.7">APCS</text>
<text x="758.4" y="876.3">GSS</text>
<text x="759.3" y="893.3">CSF1</text>
<text x="792.9" y="893.7">HNRNPK</text>
<text x="774.9" y="905.1">TPM2</text>
<text x="781.0" y="913.9">FGFR4</text>
<text x="841.3" y="870.3">FABP4</text>
<text x="839.1" y="879.5">EIF2</text>
<text x="857.3" y="883.5">NELL2</text>
<text x="871.0" y="887.6">H6PD</text>
<text x="831.9" y="889.4">MGAT1</text>
<text x="850.5" y="889.0">PRKAR1A</text>
<text x="822.0" y="895.3">TAGLN</text>
<text x="844.0" y="897.0">TGM3</text>
<text x="875.6" y="899.2">COG4</text>
<text x="891.9" y="901.8">TAX1BP1</text>
<text x="862.0" y="904.5">TFRC</text>
<text x="837.1" y="908.0">ARHGAP1</text>
<text x="830.9" y="918.8">GPC1</text>
<text x="872.5" y="915.8">PDCD6</text>
<text x="886.5" y="917.7">FCGRT</text>
<text x="848.6" y="925.3">PLA2</text>
<text x="883.8" y="926.4">TARS</text>
<text x="822.7" y="931.5">EPHA1</text>
<text x="839.7" y="931.8">FCGR3A</text>
<text x="835.9" y="941.1">PTPRB</text>
<text x="835.5" y="947.4">NCAPG</text>
<text x="838.1" y="953.0">ANXA6</text>
<text x="828.2" y="960.6">FHL1</text>
<text x="866.9" y="944.7">HSPA4</text>
<text x="891.4" y="943.5">SNRPD3</text>
<text x="890.8" y="950.9">BCAM</text>
<text x="903.3" y="939.3">COL6A1</text>
<text x="909.9" y="945.9">KRT26</text>
<text x="917.5" y="953.8">SCARF1</text>
<text x="908.9" y="956.8">C5</text>
<text x="914.9" y="961.0">EFNB1</text>
<text x="910.0" y="966.5">ADAMTS13</text>
<text x="884.9" y="959.9">F2</text>
<text x="878.7" y="968.6">CD44</text>
<text x="847.0" y="966.1">LAMP1</text>
<text x="852.4" y="970.7">SOD3</text>
<text x="862.0" y="972.4">MAPRE1</text>
<text x="872.8" y="975.0">SERPINF1</text>
<text x="889.3" y="975.4">SERPINC1</text>
<text x="872.8" y="986.7">IDS</text>
<text x="884.4" y="986.7">PTGFRN</text>
<text x="862.0" y="991.2">ARHGAP18</text>
<text x="905.4" y="992.2">HRG</text>
<text x="893.8" y="997.1">ITIH2</text>
<text x="740.4" y="820.9">CRK</text>
<text x="887.3" y="907.3">IKBKG</text>
<text x="843.3" y="917.1">RHOA</text>
<text x="881.1" y="949.5">NFKB1</text>
<text x="855.0" y="956.8">GBA</text>
<text x="726.9" y="848.6">PLA2G12A</text>
<text x="785.9" y="959.2">PEMT</text>
<text x="799.8" y="970.9">PTGES2</text>
<text x="727.1" y="876.3">GPD1</text>
<text x="914.5" y="987.9">PPM1L</text>
<text x="924.2" y="1027.2">SGMS1</text>
</g>
<g font-size="3.5" fill="#5a5a5a" font-style="italic" text-rendering="geometricPrecision">
<text x="833.6" y="771.9">PRMT3</text>
<text x="845.8" y="779.0">FGF12</text>
<text x="857.1" y="786.1">TSHZ3</text>
<text x="864.4" y="793.5">SPATA13</text>
<text x="874.4" y="802.1">CENPK</text>
<text x="884.3" y="809.9">NFIC</text>
<text x="889.8" y="816.5">RASGEF1C</text>
<text x="908.0" y="828.5">MAGI2</text>
<text x="916.0" y="833.4">PCDH20</text>
<text x="926.2" y="840.9">COPE</text>
<text x="936.3" y="847.2">PRICKLE1</text>
<text x="946.2" y="853.6">DYRK2</text>
<text x="953.8" y="859.6">ZDBF2</text>
<text x="964.8" y="869.0">PTPRD</text>
<text x="974.0" y="877.1">LINGO2</text>
<text x="995.2" y="899.4">DCAF6</text>
<text x="1000.3" y="907.5">SEC16B</text>
<text x="1006.5" y="915.6">EDIL3</text>
<text x="1010.9" y="923.4">IGF2R</text>
</g>
<text x="740.0" y="993.5" font-size="3.9" fill="#555">L-1-Phosphatidylethanolamine</text>
<text x="759.6" y="1002.4" font-size="3.9" fill="#555">L-1-Phosphatidylserine</text>
<text x="798.6" y="937.4" font-size="7.2" fill="#333">LYPLA1</text>
<text x="668.6" y="985.6" font-size="7.4" fill="#333">Fatty acid</text>
<text x="689.9" y="1028.6" font-size="7.4" fill="#333">3-sn-Phosphatidylcholine</text>
<text x="773.0" y="1068.7" font-size="7.4" fill="#333">Sphingomyelin</text>
<text x="1014.6" y="877.6" font-size="7.4" text-anchor="middle" font-style="italic" fill="#333">RAB7A</text>
<text x="1014.6" y="886.8" font-size="7.4" text-anchor="middle" font-style="italic" fill="#333">(rs7650872)</text>
<line x1="1060.3" y1="846.8" x2="1084.7" y2="846.8" stroke="#dd5a52" stroke-width="1.5"/>
<line x1="1060.3" y1="859.2" x2="1084.7" y2="859.2" stroke="#2560b0" stroke-width="1.5"/>
<line x1="1060.3" y1="879.8" x2="1084.7" y2="879.8" stroke="#cfcfcf" stroke-width="1.5"/>
<line x1="1060.3" y1="891.9" x2="1084.7" y2="891.9" stroke="#8c8c8c" stroke-width="1.6" stroke-dasharray="7 2.5 2 2.5"/>
<text x="1093.9" y="849.5" font-size="8.5" fill="#161616">Sphingolipid metabolism and signaling pathway</text>
<text x="1093.9" y="861.9" font-size="8.5" fill="#161616">Glycerophospholipid metabolism pathway</text>
<text x="1093.9" y="882.5" font-size="8.5" fill="#161616">GPMI</text>
<text x="1093.9" y="894.6" font-size="8.5" fill="#161616">Potential GPMI</text>
<text x="1093.9" y="921.9" font-size="8.5" fill="#161616">Gene</text>
<text x="1093.9" y="935.3" font-size="8.5" fill="#161616">Protein</text>
<text x="1093.9" y="949.2" font-size="8.5" fill="#161616">Metabolite</text>
<text x="1093.9" y="977.5" font-size="8.5" fill="#161616">Predict GPMI</text>
<text x="1093.9" y="989.9" font-size="8.5" fill="#161616">Hit</text>
<text x="1093.9" y="1003.5" font-size="8.5" fill="#161616">Hit &amp; in phospholipid pathway</text>
<circle cx="1072.9" cy="919.2" r="5.2" fill="#6ea6d0"/>
<circle cx="1072.9" cy="932.6" r="5.2" fill="#7cc7b2"/>
<circle cx="1072.9" cy="946.5" r="5.2" fill="#f3b51f"/>
<circle cx="1072.9" cy="974.8" r="3.4" fill="#d2d1d1"/>
<circle cx="1072.9" cy="987.2" r="3.4" fill="#767171"/>
<circle cx="1072.9" cy="1000.8" r="5.4" fill="#767171"/>
</svg>
</body></html>
